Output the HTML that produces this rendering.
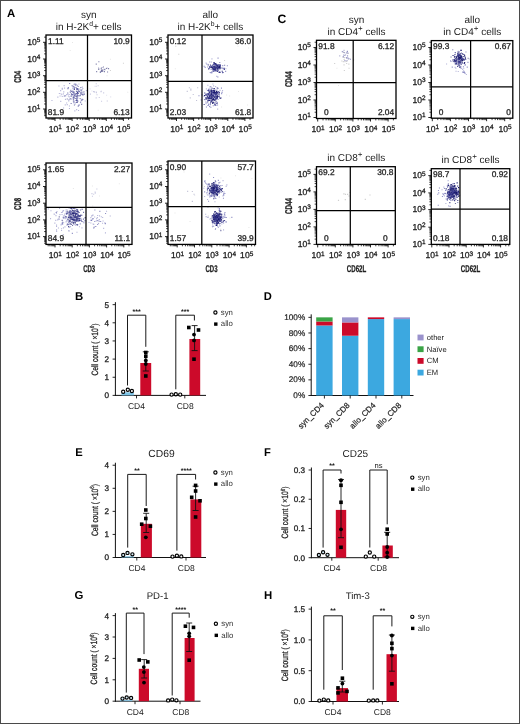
<!DOCTYPE html>
<html><head><meta charset="utf-8"><style>
html,body{margin:0;padding:0;background:#fff;}
body{width:520px;height:724px;overflow:hidden;}
svg{display:block;filter:blur(0.3px);font-family:"Liberation Sans", sans-serif;text-rendering:geometricPrecision;}
.h{stroke:#222;stroke-width:0.28px;}
</style></head><body>
<svg width="520" height="724" viewBox="0 0 520 724">
<rect x="0" y="0" width="520" height="724" fill="#fff"/>
<path d="M77.0 95.5h1.1v1.1h-1.1zM77.2 100.9h1.1v1.1h-1.1zM74.0 96.5h1.1v1.1h-1.1zM77.5 89.1h1.1v1.1h-1.1zM80.3 87.0h1.1v1.1h-1.1zM67.8 87.2h1.1v1.1h-1.1zM77.7 93.0h1.1v1.1h-1.1zM74.4 93.7h1.1v1.1h-1.1zM69.6 91.5h1.1v1.1h-1.1zM73.1 99.5h1.1v1.1h-1.1zM76.4 94.5h1.1v1.1h-1.1zM71.1 94.3h1.1v1.1h-1.1zM69.5 98.4h1.1v1.1h-1.1zM73.9 104.4h1.1v1.1h-1.1zM71.2 94.3h1.1v1.1h-1.1zM76.0 97.5h1.1v1.1h-1.1zM80.2 101.4h1.1v1.1h-1.1zM71.3 90.9h1.1v1.1h-1.1zM81.3 99.9h1.1v1.1h-1.1zM80.3 92.2h1.1v1.1h-1.1zM76.0 88.2h1.1v1.1h-1.1zM76.8 97.4h1.1v1.1h-1.1zM67.2 92.4h1.1v1.1h-1.1zM77.7 105.6h1.1v1.1h-1.1zM74.0 95.0h1.1v1.1h-1.1zM77.4 90.9h1.1v1.1h-1.1zM67.4 88.1h1.1v1.1h-1.1zM66.7 98.4h1.1v1.1h-1.1zM80.6 89.6h1.1v1.1h-1.1zM77.6 86.0h1.1v1.1h-1.1zM83.9 93.6h1.1v1.1h-1.1zM76.2 88.9h1.1v1.1h-1.1zM74.3 93.7h1.1v1.1h-1.1zM73.9 87.3h1.1v1.1h-1.1zM76.2 99.0h1.1v1.1h-1.1zM73.6 92.3h1.1v1.1h-1.1zM77.0 92.0h1.1v1.1h-1.1zM70.3 89.8h1.1v1.1h-1.1zM73.3 101.3h1.1v1.1h-1.1zM80.5 93.8h1.1v1.1h-1.1zM73.3 96.3h1.1v1.1h-1.1zM76.3 88.2h1.1v1.1h-1.1zM83.4 91.3h1.1v1.1h-1.1zM77.1 100.1h1.1v1.1h-1.1zM78.8 91.0h1.1v1.1h-1.1zM79.6 98.0h1.1v1.1h-1.1zM81.4 91.6h1.1v1.1h-1.1zM71.5 85.2h1.1v1.1h-1.1zM72.1 93.9h1.1v1.1h-1.1zM69.1 83.0h1.1v1.1h-1.1zM72.8 86.1h1.1v1.1h-1.1zM72.3 85.4h1.1v1.1h-1.1zM76.7 96.1h1.1v1.1h-1.1zM78.6 104.5h1.1v1.1h-1.1zM81.2 93.5h1.1v1.1h-1.1zM76.6 94.4h1.1v1.1h-1.1zM82.5 93.8h1.1v1.1h-1.1zM73.6 83.7h1.1v1.1h-1.1zM77.2 87.9h1.1v1.1h-1.1zM79.6 95.1h1.1v1.1h-1.1zM79.4 90.4h1.1v1.1h-1.1zM70.8 93.2h1.1v1.1h-1.1zM70.6 102.9h1.1v1.1h-1.1zM74.7 98.0h1.1v1.1h-1.1zM64.4 95.3h1.1v1.1h-1.1zM77.3 88.4h1.1v1.1h-1.1zM76.9 101.9h1.1v1.1h-1.1zM81.6 98.7h1.1v1.1h-1.1zM77.5 95.1h1.1v1.1h-1.1z" fill="#2a2a80" fill-opacity="0.60"/>
<path d="M72.7 91.6h1.1v1.1h-1.1zM73.1 97.3h1.1v1.1h-1.1zM74.7 93.4h1.1v1.1h-1.1zM75.7 101.9h1.1v1.1h-1.1zM75.5 95.8h1.1v1.1h-1.1zM76.1 92.9h1.1v1.1h-1.1zM75.9 90.7h1.1v1.1h-1.1zM76.8 91.7h1.1v1.1h-1.1zM81.1 103.7h1.1v1.1h-1.1zM77.2 92.7h1.1v1.1h-1.1zM73.8 88.8h1.1v1.1h-1.1zM76.1 100.1h1.1v1.1h-1.1zM75.1 84.5h1.1v1.1h-1.1z" fill="#2a2a80" fill-opacity="0.80"/>
<path d="M75.8 87.4h1.1v1.1h-1.1zM76.8 98.5h1.1v1.1h-1.1zM77.9 91.5h1.1v1.1h-1.1zM74.8 100.0h1.1v1.1h-1.1zM82.0 93.9h1.1v1.1h-1.1zM70.8 95.8h1.1v1.1h-1.1zM79.4 88.6h1.1v1.1h-1.1zM77.1 88.5h1.1v1.1h-1.1zM72.8 99.0h1.1v1.1h-1.1zM73.7 88.5h1.1v1.1h-1.1zM80.0 92.4h1.1v1.1h-1.1zM81.5 99.0h1.1v1.1h-1.1zM71.0 98.4h1.1v1.1h-1.1zM77.9 89.9h1.1v1.1h-1.1zM70.0 91.6h1.1v1.1h-1.1zM73.7 91.2h1.1v1.1h-1.1zM82.4 94.8h1.1v1.1h-1.1zM76.7 94.1h1.1v1.1h-1.1z" fill="#2a2a80" fill-opacity="0.40"/>
<path d="M72.3 96.4h1.1v1.1h-1.1zM78.4 95.5h1.1v1.1h-1.1zM68.9 108.0h1.1v1.1h-1.1zM74.5 93.4h1.1v1.1h-1.1zM73.4 102.5h1.1v1.1h-1.1zM72.1 94.3h1.1v1.1h-1.1zM61.2 94.2h1.1v1.1h-1.1zM81.0 90.2h1.1v1.1h-1.1zM63.0 107.4h1.1v1.1h-1.1zM78.8 91.4h1.1v1.1h-1.1zM73.9 88.5h1.1v1.1h-1.1zM72.3 88.1h1.1v1.1h-1.1zM64.0 87.6h1.1v1.1h-1.1zM66.7 104.1h1.1v1.1h-1.1zM76.0 100.1h1.1v1.1h-1.1zM72.4 91.5h1.1v1.1h-1.1zM68.7 96.3h1.1v1.1h-1.1zM81.6 88.9h1.1v1.1h-1.1zM69.9 98.1h1.1v1.1h-1.1zM75.7 98.2h1.1v1.1h-1.1zM73.6 97.5h1.1v1.1h-1.1zM78.0 110.0h1.1v1.1h-1.1zM74.4 83.3h1.1v1.1h-1.1zM58.4 85.4h1.1v1.1h-1.1zM79.6 94.8h1.1v1.1h-1.1zM71.0 90.9h1.1v1.1h-1.1zM67.7 87.2h1.1v1.1h-1.1zM72.5 87.3h1.1v1.1h-1.1zM64.7 104.3h1.1v1.1h-1.1zM82.6 92.4h1.1v1.1h-1.1zM72.9 93.0h1.1v1.1h-1.1zM63.6 85.1h1.1v1.1h-1.1zM72.4 97.6h1.1v1.1h-1.1zM60.1 90.1h1.1v1.1h-1.1zM77.1 93.1h1.1v1.1h-1.1zM75.6 86.8h1.1v1.1h-1.1zM80.4 99.4h1.1v1.1h-1.1zM84.7 100.4h1.1v1.1h-1.1zM70.9 93.7h1.1v1.1h-1.1zM75.3 83.4h1.1v1.1h-1.1zM81.8 86.6h1.1v1.1h-1.1zM76.6 88.1h1.1v1.1h-1.1zM70.3 95.6h1.1v1.1h-1.1zM67.3 93.7h1.1v1.1h-1.1zM63.6 95.6h1.1v1.1h-1.1zM61.7 96.0h1.1v1.1h-1.1zM66.1 102.4h1.1v1.1h-1.1zM85.9 90.1h1.1v1.1h-1.1zM72.1 90.3h1.1v1.1h-1.1zM72.7 100.5h1.1v1.1h-1.1zM65.3 95.2h1.1v1.1h-1.1zM81.6 89.2h1.1v1.1h-1.1zM60.2 100.8h1.1v1.1h-1.1zM59.5 95.5h1.1v1.1h-1.1zM61.8 87.8h1.1v1.1h-1.1zM64.9 98.8h1.1v1.1h-1.1zM68.2 100.3h1.1v1.1h-1.1zM77.4 88.7h1.1v1.1h-1.1zM59.3 109.9h1.1v1.1h-1.1zM75.9 95.7h1.1v1.1h-1.1zM74.3 110.3h1.1v1.1h-1.1zM61.5 88.4h1.1v1.1h-1.1zM79.9 102.1h1.1v1.1h-1.1zM62.8 93.3h1.1v1.1h-1.1zM51.4 99.9h1.1v1.1h-1.1zM82.3 87.9h1.1v1.1h-1.1zM61.9 88.6h1.1v1.1h-1.1zM80.5 92.9h1.1v1.1h-1.1zM58.8 93.0h1.1v1.1h-1.1zM73.3 95.2h1.1v1.1h-1.1zM73.4 95.7h1.1v1.1h-1.1zM67.8 95.5h1.1v1.1h-1.1zM68.0 95.5h1.1v1.1h-1.1zM78.8 95.2h1.1v1.1h-1.1zM72.5 90.5h1.1v1.1h-1.1zM72.1 91.8h1.1v1.1h-1.1zM73.9 85.7h1.1v1.1h-1.1zM63.2 91.3h1.1v1.1h-1.1zM57.3 96.6h1.1v1.1h-1.1zM72.7 92.8h1.1v1.1h-1.1zM66.1 93.9h1.1v1.1h-1.1zM74.7 86.9h1.1v1.1h-1.1zM75.1 94.9h1.1v1.1h-1.1zM78.4 83.5h1.1v1.1h-1.1zM75.9 98.1h1.1v1.1h-1.1zM68.7 94.0h1.1v1.1h-1.1zM77.4 97.5h1.1v1.1h-1.1zM78.3 104.7h1.1v1.1h-1.1zM75.8 84.3h1.1v1.1h-1.1zM77.0 84.8h1.1v1.1h-1.1zM68.9 105.5h1.1v1.1h-1.1zM76.1 109.1h1.1v1.1h-1.1zM73.1 94.1h1.1v1.1h-1.1zM68.4 99.1h1.1v1.1h-1.1zM74.8 103.4h1.1v1.1h-1.1zM73.5 101.4h1.1v1.1h-1.1zM82.5 98.9h1.1v1.1h-1.1zM76.8 88.4h1.1v1.1h-1.1zM78.6 95.5h1.1v1.1h-1.1zM60.4 93.2h1.1v1.1h-1.1z" fill="#4848a0" fill-opacity="0.40"/>
<path d="M98.3 61.2h1.1v1.1h-1.1zM104.3 69.1h1.1v1.1h-1.1zM100.8 69.6h1.1v1.1h-1.1zM107.0 71.4h1.1v1.1h-1.1zM102.3 70.3h1.1v1.1h-1.1zM100.7 67.8h1.1v1.1h-1.1zM105.8 67.9h1.1v1.1h-1.1zM103.9 71.1h1.1v1.1h-1.1zM98.1 69.0h1.1v1.1h-1.1zM96.1 71.1h1.1v1.1h-1.1zM102.9 66.5h1.1v1.1h-1.1zM98.3 68.6h1.1v1.1h-1.1zM103.5 68.7h1.1v1.1h-1.1zM102.0 70.7h1.1v1.1h-1.1zM108.0 68.1h1.1v1.1h-1.1zM101.6 69.3h1.1v1.1h-1.1zM95.7 63.6h1.1v1.1h-1.1z" fill="#303075" fill-opacity="0.60"/>
<path d="M101.2 70.2h1.1v1.1h-1.1zM98.0 67.4h1.1v1.1h-1.1zM100.4 71.2h1.1v1.1h-1.1zM101.5 66.9h1.1v1.1h-1.1zM106.5 67.6h1.1v1.1h-1.1z" fill="#303075" fill-opacity="0.40"/>
<path d="M101.1 70.7h1.1v1.1h-1.1zM99.8 71.6h1.1v1.1h-1.1z" fill="#303075" fill-opacity="0.80"/>
<path d="M93.7 91.9h1.1v1.1h-1.1zM89.5 88.3h1.1v1.1h-1.1zM110.1 96.3h1.1v1.1h-1.1zM100.8 90.4h1.1v1.1h-1.1zM106.0 94.7h1.1v1.1h-1.1zM91.4 90.4h1.1v1.1h-1.1zM94.4 85.7h1.1v1.1h-1.1z" fill="#7a7ab4" fill-opacity="0.20"/>
<path d="M100.5 91.1h1.1v1.1h-1.1zM93.0 91.0h1.1v1.1h-1.1zM103.1 92.3h1.1v1.1h-1.1zM95.7 91.6h1.1v1.1h-1.1zM101.0 100.7h1.1v1.1h-1.1zM95.6 97.3h1.1v1.1h-1.1zM96.5 94.2h1.1v1.1h-1.1zM95.7 85.7h1.1v1.1h-1.1zM93.7 91.1h1.1v1.1h-1.1zM95.7 83.2h1.1v1.1h-1.1zM98.7 96.9h1.1v1.1h-1.1zM97.6 85.2h1.1v1.1h-1.1zM89.9 93.6h1.1v1.1h-1.1zM95.9 92.2h1.1v1.1h-1.1zM106.7 100.4h1.1v1.1h-1.1z" fill="#7a7ab4" fill-opacity="0.40"/>
<path d="M72.0 42.0h1.0v1.0h-1.0zM109.9 58.7h1.0v1.0h-1.0zM69.7 50.0h1.0v1.0h-1.0zM97.7 109.7h1.0v1.0h-1.0zM106.5 75.2h1.0v1.0h-1.0zM127.3 91.7h1.0v1.0h-1.0z" fill="#888" fill-opacity="0.20"/>
<path d="M109.9 70.0h1.0v1.0h-1.0zM122.9 62.8h1.0v1.0h-1.0z" fill="#888" fill-opacity="0.40"/>
<line x1="48.20" y1="118.00" x2="48.20" y2="119.90" stroke="#222" stroke-width="0.85"/>
<line x1="49.85" y1="118.00" x2="49.85" y2="119.90" stroke="#222" stroke-width="0.85"/>
<line x1="51.21" y1="118.00" x2="51.21" y2="119.90" stroke="#222" stroke-width="0.85"/>
<line x1="52.35" y1="118.00" x2="52.35" y2="119.90" stroke="#222" stroke-width="0.85"/>
<line x1="53.34" y1="118.00" x2="53.34" y2="119.90" stroke="#222" stroke-width="0.85"/>
<line x1="54.22" y1="118.00" x2="54.22" y2="119.90" stroke="#222" stroke-width="0.85"/>
<line x1="60.15" y1="118.00" x2="60.15" y2="119.90" stroke="#222" stroke-width="0.85"/>
<line x1="63.16" y1="118.00" x2="63.16" y2="119.90" stroke="#222" stroke-width="0.85"/>
<line x1="65.30" y1="118.00" x2="65.30" y2="119.90" stroke="#222" stroke-width="0.85"/>
<line x1="66.95" y1="118.00" x2="66.95" y2="119.90" stroke="#222" stroke-width="0.85"/>
<line x1="68.31" y1="118.00" x2="68.31" y2="119.90" stroke="#222" stroke-width="0.85"/>
<line x1="69.45" y1="118.00" x2="69.45" y2="119.90" stroke="#222" stroke-width="0.85"/>
<line x1="70.44" y1="118.00" x2="70.44" y2="119.90" stroke="#222" stroke-width="0.85"/>
<line x1="71.32" y1="118.00" x2="71.32" y2="119.90" stroke="#222" stroke-width="0.85"/>
<line x1="77.25" y1="118.00" x2="77.25" y2="119.90" stroke="#222" stroke-width="0.85"/>
<line x1="80.26" y1="118.00" x2="80.26" y2="119.90" stroke="#222" stroke-width="0.85"/>
<line x1="82.40" y1="118.00" x2="82.40" y2="119.90" stroke="#222" stroke-width="0.85"/>
<line x1="84.05" y1="118.00" x2="84.05" y2="119.90" stroke="#222" stroke-width="0.85"/>
<line x1="85.41" y1="118.00" x2="85.41" y2="119.90" stroke="#222" stroke-width="0.85"/>
<line x1="86.55" y1="118.00" x2="86.55" y2="119.90" stroke="#222" stroke-width="0.85"/>
<line x1="87.54" y1="118.00" x2="87.54" y2="119.90" stroke="#222" stroke-width="0.85"/>
<line x1="88.42" y1="118.00" x2="88.42" y2="119.90" stroke="#222" stroke-width="0.85"/>
<line x1="94.35" y1="118.00" x2="94.35" y2="119.90" stroke="#222" stroke-width="0.85"/>
<line x1="97.36" y1="118.00" x2="97.36" y2="119.90" stroke="#222" stroke-width="0.85"/>
<line x1="99.50" y1="118.00" x2="99.50" y2="119.90" stroke="#222" stroke-width="0.85"/>
<line x1="101.15" y1="118.00" x2="101.15" y2="119.90" stroke="#222" stroke-width="0.85"/>
<line x1="102.51" y1="118.00" x2="102.51" y2="119.90" stroke="#222" stroke-width="0.85"/>
<line x1="103.65" y1="118.00" x2="103.65" y2="119.90" stroke="#222" stroke-width="0.85"/>
<line x1="104.64" y1="118.00" x2="104.64" y2="119.90" stroke="#222" stroke-width="0.85"/>
<line x1="105.52" y1="118.00" x2="105.52" y2="119.90" stroke="#222" stroke-width="0.85"/>
<line x1="111.45" y1="118.00" x2="111.45" y2="119.90" stroke="#222" stroke-width="0.85"/>
<line x1="114.46" y1="118.00" x2="114.46" y2="119.90" stroke="#222" stroke-width="0.85"/>
<line x1="116.60" y1="118.00" x2="116.60" y2="119.90" stroke="#222" stroke-width="0.85"/>
<line x1="118.25" y1="118.00" x2="118.25" y2="119.90" stroke="#222" stroke-width="0.85"/>
<line x1="119.61" y1="118.00" x2="119.61" y2="119.90" stroke="#222" stroke-width="0.85"/>
<line x1="120.75" y1="118.00" x2="120.75" y2="119.90" stroke="#222" stroke-width="0.85"/>
<line x1="121.74" y1="118.00" x2="121.74" y2="119.90" stroke="#222" stroke-width="0.85"/>
<line x1="122.62" y1="118.00" x2="122.62" y2="119.90" stroke="#222" stroke-width="0.85"/>
<line x1="128.55" y1="118.00" x2="128.55" y2="119.90" stroke="#222" stroke-width="0.85"/>
<line x1="44.10" y1="115.65" x2="46.00" y2="115.65" stroke="#222" stroke-width="0.85"/>
<line x1="44.10" y1="114.03" x2="46.00" y2="114.03" stroke="#222" stroke-width="0.85"/>
<line x1="44.10" y1="112.70" x2="46.00" y2="112.70" stroke="#222" stroke-width="0.85"/>
<line x1="44.10" y1="111.59" x2="46.00" y2="111.59" stroke="#222" stroke-width="0.85"/>
<line x1="44.10" y1="110.62" x2="46.00" y2="110.62" stroke="#222" stroke-width="0.85"/>
<line x1="44.10" y1="109.76" x2="46.00" y2="109.76" stroke="#222" stroke-width="0.85"/>
<line x1="44.10" y1="103.97" x2="46.00" y2="103.97" stroke="#222" stroke-width="0.85"/>
<line x1="44.10" y1="101.03" x2="46.00" y2="101.03" stroke="#222" stroke-width="0.85"/>
<line x1="44.10" y1="98.95" x2="46.00" y2="98.95" stroke="#222" stroke-width="0.85"/>
<line x1="44.10" y1="97.33" x2="46.00" y2="97.33" stroke="#222" stroke-width="0.85"/>
<line x1="44.10" y1="96.00" x2="46.00" y2="96.00" stroke="#222" stroke-width="0.85"/>
<line x1="44.10" y1="94.89" x2="46.00" y2="94.89" stroke="#222" stroke-width="0.85"/>
<line x1="44.10" y1="93.92" x2="46.00" y2="93.92" stroke="#222" stroke-width="0.85"/>
<line x1="44.10" y1="93.06" x2="46.00" y2="93.06" stroke="#222" stroke-width="0.85"/>
<line x1="44.10" y1="87.27" x2="46.00" y2="87.27" stroke="#222" stroke-width="0.85"/>
<line x1="44.10" y1="84.33" x2="46.00" y2="84.33" stroke="#222" stroke-width="0.85"/>
<line x1="44.10" y1="82.25" x2="46.00" y2="82.25" stroke="#222" stroke-width="0.85"/>
<line x1="44.10" y1="80.63" x2="46.00" y2="80.63" stroke="#222" stroke-width="0.85"/>
<line x1="44.10" y1="79.30" x2="46.00" y2="79.30" stroke="#222" stroke-width="0.85"/>
<line x1="44.10" y1="78.19" x2="46.00" y2="78.19" stroke="#222" stroke-width="0.85"/>
<line x1="44.10" y1="77.22" x2="46.00" y2="77.22" stroke="#222" stroke-width="0.85"/>
<line x1="44.10" y1="76.36" x2="46.00" y2="76.36" stroke="#222" stroke-width="0.85"/>
<line x1="44.10" y1="70.57" x2="46.00" y2="70.57" stroke="#222" stroke-width="0.85"/>
<line x1="44.10" y1="67.63" x2="46.00" y2="67.63" stroke="#222" stroke-width="0.85"/>
<line x1="44.10" y1="65.55" x2="46.00" y2="65.55" stroke="#222" stroke-width="0.85"/>
<line x1="44.10" y1="63.93" x2="46.00" y2="63.93" stroke="#222" stroke-width="0.85"/>
<line x1="44.10" y1="62.60" x2="46.00" y2="62.60" stroke="#222" stroke-width="0.85"/>
<line x1="44.10" y1="61.49" x2="46.00" y2="61.49" stroke="#222" stroke-width="0.85"/>
<line x1="44.10" y1="60.52" x2="46.00" y2="60.52" stroke="#222" stroke-width="0.85"/>
<line x1="44.10" y1="59.66" x2="46.00" y2="59.66" stroke="#222" stroke-width="0.85"/>
<line x1="44.10" y1="53.87" x2="46.00" y2="53.87" stroke="#222" stroke-width="0.85"/>
<line x1="44.10" y1="50.93" x2="46.00" y2="50.93" stroke="#222" stroke-width="0.85"/>
<line x1="44.10" y1="48.85" x2="46.00" y2="48.85" stroke="#222" stroke-width="0.85"/>
<line x1="44.10" y1="47.23" x2="46.00" y2="47.23" stroke="#222" stroke-width="0.85"/>
<line x1="44.10" y1="45.90" x2="46.00" y2="45.90" stroke="#222" stroke-width="0.85"/>
<line x1="44.10" y1="44.79" x2="46.00" y2="44.79" stroke="#222" stroke-width="0.85"/>
<line x1="44.10" y1="43.82" x2="46.00" y2="43.82" stroke="#222" stroke-width="0.85"/>
<line x1="44.10" y1="42.96" x2="46.00" y2="42.96" stroke="#222" stroke-width="0.85"/>
<line x1="44.10" y1="37.17" x2="46.00" y2="37.17" stroke="#222" stroke-width="0.85"/>
<line x1="55.00" y1="118.00" x2="55.00" y2="121.00" stroke="#111" stroke-width="0.9"/>
<line x1="72.10" y1="118.00" x2="72.10" y2="121.00" stroke="#111" stroke-width="0.9"/>
<line x1="89.20" y1="118.00" x2="89.20" y2="121.00" stroke="#111" stroke-width="0.9"/>
<line x1="106.30" y1="118.00" x2="106.30" y2="121.00" stroke="#111" stroke-width="0.9"/>
<line x1="123.40" y1="118.00" x2="123.40" y2="121.00" stroke="#111" stroke-width="0.9"/>
<line x1="43.00" y1="109.00" x2="46.00" y2="109.00" stroke="#111" stroke-width="0.9"/>
<line x1="43.00" y1="92.30" x2="46.00" y2="92.30" stroke="#111" stroke-width="0.9"/>
<line x1="43.00" y1="75.70" x2="46.00" y2="75.70" stroke="#111" stroke-width="0.9"/>
<line x1="43.00" y1="59.00" x2="46.00" y2="59.00" stroke="#111" stroke-width="0.9"/>
<line x1="43.00" y1="42.30" x2="46.00" y2="42.30" stroke="#111" stroke-width="0.9"/>
<line x1="87.50" y1="35.00" x2="87.50" y2="118.00" stroke="#000" stroke-width="1.25"/>
<line x1="46.00" y1="80.50" x2="131.50" y2="80.50" stroke="#000" stroke-width="1.25"/>
<rect x="46.00" y="35.00" width="85.50" height="83.00" fill="none" stroke="#000" stroke-width="1.3"/>
<text x="55.90" y="43.50" font-size="8.4" text-anchor="middle" font-weight="normal" fill="#222" class="h">1.11</text>
<text x="129.70" y="43.50" font-size="8.4" text-anchor="end" font-weight="normal" fill="#222" class="h">10.9</text>
<text x="55.90" y="114.80" font-size="8.4" text-anchor="middle" font-weight="normal" fill="#222" class="h">81.9</text>
<text x="129.70" y="114.80" font-size="8.4" text-anchor="end" font-weight="normal" fill="#222" class="h">6.13</text>
<text class="h" x="55.30" y="131.90" font-size="8.6" text-anchor="middle" fill="#222">10<tspan dy="-2.7" font-size="6.45">1</tspan></text>
<text class="h" x="72.40" y="131.90" font-size="8.6" text-anchor="middle" fill="#222">10<tspan dy="-2.7" font-size="6.45">2</tspan></text>
<text class="h" x="89.50" y="131.90" font-size="8.6" text-anchor="middle" fill="#222">10<tspan dy="-2.7" font-size="6.45">3</tspan></text>
<text class="h" x="106.60" y="131.90" font-size="8.6" text-anchor="middle" fill="#222">10<tspan dy="-2.7" font-size="6.45">4</tspan></text>
<text class="h" x="123.70" y="131.90" font-size="8.6" text-anchor="middle" fill="#222">10<tspan dy="-2.7" font-size="6.45">5</tspan></text>
<text class="h" x="40.40" y="111.60" font-size="8.6" text-anchor="end" fill="#222">10<tspan dy="-2.7" font-size="6.45">1</tspan></text>
<text class="h" x="40.40" y="94.90" font-size="8.6" text-anchor="end" fill="#222">10<tspan dy="-2.7" font-size="6.45">2</tspan></text>
<text class="h" x="40.40" y="78.30" font-size="8.6" text-anchor="end" fill="#222">10<tspan dy="-2.7" font-size="6.45">3</tspan></text>
<text class="h" x="40.40" y="61.60" font-size="8.6" text-anchor="end" fill="#222">10<tspan dy="-2.7" font-size="6.45">4</tspan></text>
<text class="h" x="40.40" y="44.90" font-size="8.6" text-anchor="end" fill="#222">10<tspan dy="-2.7" font-size="6.45">5</tspan></text>
<path d="M213.9 70.2h1.1v1.1h-1.1zM213.4 65.8h1.1v1.1h-1.1zM217.7 70.0h1.1v1.1h-1.1zM215.3 67.7h1.1v1.1h-1.1zM217.1 67.8h1.1v1.1h-1.1zM216.0 64.3h1.1v1.1h-1.1zM224.1 64.7h1.1v1.1h-1.1zM214.1 66.9h1.1v1.1h-1.1zM210.9 66.0h1.1v1.1h-1.1zM218.3 68.2h1.1v1.1h-1.1zM212.7 68.3h1.1v1.1h-1.1zM211.8 65.2h1.1v1.1h-1.1zM218.7 65.6h1.1v1.1h-1.1zM214.0 63.1h1.1v1.1h-1.1zM215.7 67.2h1.1v1.1h-1.1zM216.0 70.4h1.1v1.1h-1.1zM218.1 67.0h1.1v1.1h-1.1zM219.6 65.5h1.1v1.1h-1.1zM216.9 64.9h1.1v1.1h-1.1zM219.1 67.0h1.1v1.1h-1.1zM217.5 69.3h1.1v1.1h-1.1zM214.8 66.6h1.1v1.1h-1.1zM214.9 67.5h1.1v1.1h-1.1zM217.8 63.9h1.1v1.1h-1.1zM213.3 62.0h1.1v1.1h-1.1zM214.9 69.5h1.1v1.1h-1.1zM215.6 65.4h1.1v1.1h-1.1zM218.3 67.7h1.1v1.1h-1.1zM210.1 97.1h1.1v1.1h-1.1zM212.0 94.2h1.1v1.1h-1.1zM214.6 104.1h1.1v1.1h-1.1zM212.9 90.3h1.1v1.1h-1.1zM213.6 96.9h1.1v1.1h-1.1zM213.8 96.9h1.1v1.1h-1.1zM205.5 94.0h1.1v1.1h-1.1zM216.6 94.9h1.1v1.1h-1.1zM211.4 87.5h1.1v1.1h-1.1zM211.1 90.5h1.1v1.1h-1.1zM209.3 91.0h1.1v1.1h-1.1zM209.8 97.3h1.1v1.1h-1.1zM214.4 95.9h1.1v1.1h-1.1zM213.8 93.0h1.1v1.1h-1.1zM207.4 100.0h1.1v1.1h-1.1zM213.4 95.7h1.1v1.1h-1.1zM212.7 88.4h1.1v1.1h-1.1zM219.9 97.8h1.1v1.1h-1.1zM210.8 93.5h1.1v1.1h-1.1zM214.1 104.1h1.1v1.1h-1.1zM215.5 97.5h1.1v1.1h-1.1zM212.5 100.1h1.1v1.1h-1.1zM208.7 100.0h1.1v1.1h-1.1zM211.7 99.2h1.1v1.1h-1.1zM210.9 97.5h1.1v1.1h-1.1zM205.9 94.3h1.1v1.1h-1.1zM209.4 91.4h1.1v1.1h-1.1zM212.9 92.7h1.1v1.1h-1.1zM209.2 91.8h1.1v1.1h-1.1zM211.2 87.6h1.1v1.1h-1.1zM211.3 96.3h1.1v1.1h-1.1zM208.1 93.6h1.1v1.1h-1.1zM210.4 95.3h1.1v1.1h-1.1zM213.4 90.1h1.1v1.1h-1.1zM210.7 91.0h1.1v1.1h-1.1zM209.2 96.5h1.1v1.1h-1.1zM215.7 93.3h1.1v1.1h-1.1zM215.7 94.6h1.1v1.1h-1.1zM211.1 97.6h1.1v1.1h-1.1zM213.9 96.1h1.1v1.1h-1.1zM211.1 91.5h1.1v1.1h-1.1zM217.1 92.6h1.1v1.1h-1.1zM215.4 92.0h1.1v1.1h-1.1zM207.8 90.1h1.1v1.1h-1.1zM209.9 102.7h1.1v1.1h-1.1zM210.0 97.7h1.1v1.1h-1.1zM213.4 90.8h1.1v1.1h-1.1zM215.0 95.4h1.1v1.1h-1.1zM208.8 97.3h1.1v1.1h-1.1zM213.0 91.7h1.1v1.1h-1.1zM215.1 98.5h1.1v1.1h-1.1zM212.6 98.3h1.1v1.1h-1.1zM211.7 94.1h1.1v1.1h-1.1z" fill="#17176c" fill-opacity="0.60"/>
<path d="M218.1 66.3h1.1v1.1h-1.1zM214.4 63.7h1.1v1.1h-1.1zM213.5 62.6h1.1v1.1h-1.1zM217.7 67.0h1.1v1.1h-1.1zM210.8 66.6h1.1v1.1h-1.1zM216.3 64.0h1.1v1.1h-1.1zM214.7 66.8h1.1v1.1h-1.1zM216.0 65.5h1.1v1.1h-1.1zM213.3 66.9h1.1v1.1h-1.1zM212.5 65.9h1.1v1.1h-1.1zM215.0 63.0h1.1v1.1h-1.1zM216.4 69.5h1.1v1.1h-1.1zM215.4 67.7h1.1v1.1h-1.1zM216.7 68.7h1.1v1.1h-1.1zM216.5 67.3h1.1v1.1h-1.1zM212.6 66.7h1.1v1.1h-1.1zM218.1 66.0h1.1v1.1h-1.1zM211.9 66.9h1.1v1.1h-1.1zM212.5 66.4h1.1v1.1h-1.1zM214.9 68.6h1.1v1.1h-1.1zM216.3 65.5h1.1v1.1h-1.1zM213.9 62.3h1.1v1.1h-1.1zM218.0 67.3h1.1v1.1h-1.1zM215.0 69.6h1.1v1.1h-1.1zM219.8 66.7h1.1v1.1h-1.1zM214.2 67.8h1.1v1.1h-1.1zM213.5 67.7h1.1v1.1h-1.1zM213.9 65.9h1.1v1.1h-1.1zM215.7 65.7h1.1v1.1h-1.1zM212.9 68.7h1.1v1.1h-1.1zM221.8 70.7h1.1v1.1h-1.1zM218.1 66.8h1.1v1.1h-1.1zM217.8 66.8h1.1v1.1h-1.1zM210.5 66.9h1.1v1.1h-1.1zM215.1 69.2h1.1v1.1h-1.1zM212.7 69.2h1.1v1.1h-1.1zM217.2 65.1h1.1v1.1h-1.1zM216.9 66.0h1.1v1.1h-1.1zM216.9 70.9h1.1v1.1h-1.1zM213.5 66.1h1.1v1.1h-1.1zM215.9 67.1h1.1v1.1h-1.1zM209.9 64.6h1.1v1.1h-1.1zM214.6 66.8h1.1v1.1h-1.1zM221.4 67.4h1.1v1.1h-1.1zM209.1 66.3h1.1v1.1h-1.1zM214.5 65.2h1.1v1.1h-1.1zM219.4 64.5h1.1v1.1h-1.1zM214.3 69.2h1.1v1.1h-1.1zM214.4 64.5h1.1v1.1h-1.1zM213.6 68.0h1.1v1.1h-1.1zM219.5 65.3h1.1v1.1h-1.1zM207.7 64.5h1.1v1.1h-1.1zM214.9 67.3h1.1v1.1h-1.1zM216.4 64.9h1.1v1.1h-1.1zM222.4 72.0h1.1v1.1h-1.1zM206.8 95.8h1.1v1.1h-1.1zM212.5 97.8h1.1v1.1h-1.1zM214.3 89.5h1.1v1.1h-1.1zM204.2 92.4h1.1v1.1h-1.1zM207.7 99.8h1.1v1.1h-1.1zM215.7 96.8h1.1v1.1h-1.1zM212.8 98.0h1.1v1.1h-1.1zM213.1 92.4h1.1v1.1h-1.1zM207.9 89.4h1.1v1.1h-1.1zM213.2 101.8h1.1v1.1h-1.1zM209.9 98.1h1.1v1.1h-1.1zM211.0 100.8h1.1v1.1h-1.1zM208.5 90.5h1.1v1.1h-1.1zM216.7 87.5h1.1v1.1h-1.1zM208.6 98.2h1.1v1.1h-1.1zM214.9 95.5h1.1v1.1h-1.1zM213.8 92.5h1.1v1.1h-1.1zM212.2 91.6h1.1v1.1h-1.1zM211.6 101.5h1.1v1.1h-1.1zM211.8 99.1h1.1v1.1h-1.1zM210.9 98.0h1.1v1.1h-1.1zM216.8 92.4h1.1v1.1h-1.1zM216.3 103.0h1.1v1.1h-1.1zM206.8 93.4h1.1v1.1h-1.1zM211.5 91.7h1.1v1.1h-1.1zM213.3 90.1h1.1v1.1h-1.1zM214.5 93.8h1.1v1.1h-1.1zM203.6 104.0h1.1v1.1h-1.1zM208.9 95.5h1.1v1.1h-1.1zM212.3 89.9h1.1v1.1h-1.1zM212.2 102.9h1.1v1.1h-1.1zM215.9 91.7h1.1v1.1h-1.1zM211.8 91.4h1.1v1.1h-1.1zM213.9 93.0h1.1v1.1h-1.1zM211.4 92.0h1.1v1.1h-1.1zM216.5 91.9h1.1v1.1h-1.1zM210.8 94.3h1.1v1.1h-1.1zM214.3 100.0h1.1v1.1h-1.1zM215.5 100.7h1.1v1.1h-1.1zM210.1 94.5h1.1v1.1h-1.1zM211.7 96.9h1.1v1.1h-1.1zM206.3 98.4h1.1v1.1h-1.1zM211.6 99.7h1.1v1.1h-1.1zM210.7 95.4h1.1v1.1h-1.1zM208.1 97.3h1.1v1.1h-1.1zM210.6 100.3h1.1v1.1h-1.1zM212.0 95.1h1.1v1.1h-1.1zM210.2 101.7h1.1v1.1h-1.1zM217.6 91.0h1.1v1.1h-1.1zM214.2 97.2h1.1v1.1h-1.1zM209.9 95.0h1.1v1.1h-1.1zM213.1 99.2h1.1v1.1h-1.1zM209.3 95.2h1.1v1.1h-1.1zM213.9 90.7h1.1v1.1h-1.1zM216.0 92.5h1.1v1.1h-1.1zM215.3 93.6h1.1v1.1h-1.1zM212.6 98.6h1.1v1.1h-1.1zM209.3 92.0h1.1v1.1h-1.1zM209.2 95.4h1.1v1.1h-1.1zM209.7 95.4h1.1v1.1h-1.1zM214.6 92.1h1.1v1.1h-1.1zM208.8 92.1h1.1v1.1h-1.1zM218.5 93.6h1.1v1.1h-1.1zM210.3 94.4h1.1v1.1h-1.1zM212.5 101.9h1.1v1.1h-1.1zM216.3 95.9h1.1v1.1h-1.1zM207.6 94.5h1.1v1.1h-1.1zM210.8 93.5h1.1v1.1h-1.1zM211.8 99.0h1.1v1.1h-1.1zM214.3 90.0h1.1v1.1h-1.1zM208.9 94.9h1.1v1.1h-1.1zM213.6 91.6h1.1v1.1h-1.1zM213.0 98.5h1.1v1.1h-1.1zM215.1 95.4h1.1v1.1h-1.1zM205.3 94.6h1.1v1.1h-1.1zM209.7 95.3h1.1v1.1h-1.1zM214.0 92.7h1.1v1.1h-1.1zM216.1 93.3h1.1v1.1h-1.1zM212.3 98.9h1.1v1.1h-1.1zM207.3 96.3h1.1v1.1h-1.1zM213.3 98.5h1.1v1.1h-1.1zM211.0 90.2h1.1v1.1h-1.1zM208.5 93.7h1.1v1.1h-1.1zM205.1 97.5h1.1v1.1h-1.1zM207.3 101.2h1.1v1.1h-1.1zM212.7 95.6h1.1v1.1h-1.1zM217.6 96.0h1.1v1.1h-1.1zM218.7 96.2h1.1v1.1h-1.1zM208.3 97.0h1.1v1.1h-1.1zM210.0 90.3h1.1v1.1h-1.1zM211.1 91.3h1.1v1.1h-1.1zM215.5 97.8h1.1v1.1h-1.1zM213.5 96.3h1.1v1.1h-1.1z" fill="#17176c" fill-opacity="0.80"/>
<path d="M217.4 64.9h1.1v1.1h-1.1zM216.9 67.6h1.1v1.1h-1.1zM215.0 63.6h1.1v1.1h-1.1zM212.6 64.3h1.1v1.1h-1.1zM212.9 68.7h1.1v1.1h-1.1zM223.9 68.6h1.1v1.1h-1.1zM218.5 71.6h1.1v1.1h-1.1zM214.7 67.2h1.1v1.1h-1.1zM212.1 67.4h1.1v1.1h-1.1zM219.4 72.0h1.1v1.1h-1.1zM219.1 66.8h1.1v1.1h-1.1zM219.1 65.9h1.1v1.1h-1.1zM214.5 69.0h1.1v1.1h-1.1zM219.3 67.4h1.1v1.1h-1.1zM219.6 68.2h1.1v1.1h-1.1zM212.5 68.4h1.1v1.1h-1.1zM208.2 68.3h1.1v1.1h-1.1zM218.8 66.4h1.1v1.1h-1.1zM209.7 66.5h1.1v1.1h-1.1zM216.9 65.4h1.1v1.1h-1.1zM212.5 70.4h1.1v1.1h-1.1zM212.4 68.2h1.1v1.1h-1.1zM218.4 66.9h1.1v1.1h-1.1zM211.1 67.2h1.1v1.1h-1.1zM213.4 68.9h1.1v1.1h-1.1zM219.5 64.4h1.1v1.1h-1.1zM215.3 63.4h1.1v1.1h-1.1zM216.6 95.9h1.1v1.1h-1.1zM216.0 90.8h1.1v1.1h-1.1zM212.1 92.5h1.1v1.1h-1.1zM208.2 93.3h1.1v1.1h-1.1zM211.0 96.4h1.1v1.1h-1.1zM220.4 97.4h1.1v1.1h-1.1zM209.2 99.9h1.1v1.1h-1.1zM209.1 97.5h1.1v1.1h-1.1zM210.4 93.3h1.1v1.1h-1.1zM212.8 94.6h1.1v1.1h-1.1zM216.9 96.7h1.1v1.1h-1.1zM214.2 99.3h1.1v1.1h-1.1zM213.2 91.9h1.1v1.1h-1.1zM213.3 90.0h1.1v1.1h-1.1zM206.8 97.5h1.1v1.1h-1.1zM216.7 91.8h1.1v1.1h-1.1zM204.0 94.9h1.1v1.1h-1.1zM216.7 96.1h1.1v1.1h-1.1zM207.9 97.7h1.1v1.1h-1.1zM212.0 102.4h1.1v1.1h-1.1zM210.6 89.2h1.1v1.1h-1.1zM211.8 95.3h1.1v1.1h-1.1zM215.4 93.2h1.1v1.1h-1.1zM209.2 95.9h1.1v1.1h-1.1zM210.8 93.0h1.1v1.1h-1.1zM216.5 97.8h1.1v1.1h-1.1zM212.4 95.2h1.1v1.1h-1.1zM206.4 97.3h1.1v1.1h-1.1zM214.4 91.8h1.1v1.1h-1.1zM218.7 92.1h1.1v1.1h-1.1zM215.5 98.7h1.1v1.1h-1.1zM210.8 92.4h1.1v1.1h-1.1zM209.1 98.1h1.1v1.1h-1.1zM205.5 98.4h1.1v1.1h-1.1zM210.6 98.4h1.1v1.1h-1.1zM215.3 92.4h1.1v1.1h-1.1zM214.2 90.9h1.1v1.1h-1.1zM215.6 93.0h1.1v1.1h-1.1zM212.5 95.0h1.1v1.1h-1.1zM213.7 88.0h1.1v1.1h-1.1zM210.7 94.0h1.1v1.1h-1.1zM212.9 98.8h1.1v1.1h-1.1zM217.2 94.6h1.1v1.1h-1.1zM211.0 90.6h1.1v1.1h-1.1z" fill="#17176c" fill-opacity="1.00"/>
<path d="M217.3 76.5h1.1v1.1h-1.1zM209.1 67.8h1.1v1.1h-1.1zM212.7 66.1h1.1v1.1h-1.1zM209.0 66.8h1.1v1.1h-1.1zM218.4 68.3h1.1v1.1h-1.1zM209.7 72.0h1.1v1.1h-1.1zM211.5 65.1h1.1v1.1h-1.1zM216.5 64.2h1.1v1.1h-1.1zM204.6 66.8h1.1v1.1h-1.1zM219.2 61.9h1.1v1.1h-1.1zM212.8 71.0h1.1v1.1h-1.1zM219.0 64.6h1.1v1.1h-1.1zM214.7 68.6h1.1v1.1h-1.1zM213.0 63.8h1.1v1.1h-1.1zM210.6 69.0h1.1v1.1h-1.1zM218.4 64.7h1.1v1.1h-1.1zM203.6 65.7h1.1v1.1h-1.1zM215.6 66.6h1.1v1.1h-1.1zM214.8 63.7h1.1v1.1h-1.1zM216.9 69.4h1.1v1.1h-1.1zM214.7 70.1h1.1v1.1h-1.1zM214.6 63.8h1.1v1.1h-1.1zM214.3 69.3h1.1v1.1h-1.1zM214.5 66.8h1.1v1.1h-1.1zM219.2 71.7h1.1v1.1h-1.1zM211.9 65.7h1.1v1.1h-1.1zM219.2 71.4h1.1v1.1h-1.1zM222.2 72.1h1.1v1.1h-1.1zM207.2 66.5h1.1v1.1h-1.1zM213.5 70.4h1.1v1.1h-1.1zM210.6 72.4h1.1v1.1h-1.1zM216.9 70.5h1.1v1.1h-1.1zM217.5 57.6h1.1v1.1h-1.1zM222.2 65.1h1.1v1.1h-1.1zM226.8 65.2h1.1v1.1h-1.1zM217.0 68.6h1.1v1.1h-1.1zM220.0 65.1h1.1v1.1h-1.1zM216.6 69.9h1.1v1.1h-1.1zM217.5 66.6h1.1v1.1h-1.1zM222.6 68.2h1.1v1.1h-1.1zM212.7 68.9h1.1v1.1h-1.1zM223.3 68.5h1.1v1.1h-1.1zM209.2 61.5h1.1v1.1h-1.1zM211.0 71.6h1.1v1.1h-1.1zM225.1 70.8h1.1v1.1h-1.1zM216.4 89.4h1.1v1.1h-1.1zM215.2 104.9h1.1v1.1h-1.1zM214.8 96.6h1.1v1.1h-1.1zM211.9 93.5h1.1v1.1h-1.1zM215.8 93.6h1.1v1.1h-1.1zM211.5 94.9h1.1v1.1h-1.1zM212.5 94.1h1.1v1.1h-1.1zM213.6 90.0h1.1v1.1h-1.1zM211.7 91.8h1.1v1.1h-1.1zM209.0 106.0h1.1v1.1h-1.1zM214.1 94.7h1.1v1.1h-1.1zM213.5 94.5h1.1v1.1h-1.1zM213.4 102.7h1.1v1.1h-1.1zM211.7 100.0h1.1v1.1h-1.1zM206.6 93.0h1.1v1.1h-1.1zM212.6 94.4h1.1v1.1h-1.1zM214.5 103.3h1.1v1.1h-1.1zM215.3 95.5h1.1v1.1h-1.1zM213.7 93.6h1.1v1.1h-1.1zM208.2 103.5h1.1v1.1h-1.1zM208.4 88.5h1.1v1.1h-1.1zM209.6 86.2h1.1v1.1h-1.1zM208.7 94.6h1.1v1.1h-1.1zM208.0 104.6h1.1v1.1h-1.1zM206.7 95.0h1.1v1.1h-1.1zM209.4 94.5h1.1v1.1h-1.1zM207.7 99.3h1.1v1.1h-1.1zM206.6 102.2h1.1v1.1h-1.1zM216.6 104.4h1.1v1.1h-1.1zM217.9 91.6h1.1v1.1h-1.1zM212.0 97.3h1.1v1.1h-1.1zM216.5 102.2h1.1v1.1h-1.1zM205.4 96.9h1.1v1.1h-1.1zM200.6 99.4h1.1v1.1h-1.1zM208.3 95.5h1.1v1.1h-1.1zM208.3 97.1h1.1v1.1h-1.1zM209.8 104.1h1.1v1.1h-1.1zM207.4 93.5h1.1v1.1h-1.1zM210.3 97.8h1.1v1.1h-1.1zM208.8 95.0h1.1v1.1h-1.1zM208.4 88.4h1.1v1.1h-1.1zM203.6 95.6h1.1v1.1h-1.1zM208.8 89.4h1.1v1.1h-1.1zM220.9 87.6h1.1v1.1h-1.1zM214.8 92.9h1.1v1.1h-1.1zM217.0 104.5h1.1v1.1h-1.1zM221.5 91.8h1.1v1.1h-1.1zM205.9 106.5h1.1v1.1h-1.1zM201.4 94.3h1.1v1.1h-1.1zM221.1 93.1h1.1v1.1h-1.1zM216.9 97.8h1.1v1.1h-1.1zM206.9 89.9h1.1v1.1h-1.1zM205.3 101.4h1.1v1.1h-1.1zM211.5 90.7h1.1v1.1h-1.1zM214.2 99.0h1.1v1.1h-1.1zM204.4 99.1h1.1v1.1h-1.1zM198.4 95.2h1.1v1.1h-1.1zM212.3 93.6h1.1v1.1h-1.1zM217.5 98.9h1.1v1.1h-1.1zM208.6 92.4h1.1v1.1h-1.1zM217.5 87.8h1.1v1.1h-1.1zM219.2 97.6h1.1v1.1h-1.1zM208.7 97.7h1.1v1.1h-1.1zM218.8 96.4h1.1v1.1h-1.1zM208.5 90.6h1.1v1.1h-1.1zM205.2 93.5h1.1v1.1h-1.1zM212.7 105.2h1.1v1.1h-1.1zM208.1 99.8h1.1v1.1h-1.1z" fill="#4848a0" fill-opacity="0.60"/>
<path d="M219.7 65.4h1.1v1.1h-1.1zM214.7 70.9h1.1v1.1h-1.1zM214.9 65.8h1.1v1.1h-1.1zM211.4 58.3h1.1v1.1h-1.1zM225.4 68.2h1.1v1.1h-1.1zM222.8 67.5h1.1v1.1h-1.1zM215.9 63.4h1.1v1.1h-1.1zM216.2 75.8h1.1v1.1h-1.1zM207.5 63.7h1.1v1.1h-1.1zM210.1 65.5h1.1v1.1h-1.1zM205.6 62.6h1.1v1.1h-1.1zM213.6 63.9h1.1v1.1h-1.1zM212.9 70.5h1.1v1.1h-1.1zM221.9 72.2h1.1v1.1h-1.1zM216.8 64.9h1.1v1.1h-1.1zM206.1 63.6h1.1v1.1h-1.1zM220.5 70.7h1.1v1.1h-1.1zM210.9 61.4h1.1v1.1h-1.1zM222.8 67.8h1.1v1.1h-1.1zM213.1 63.2h1.1v1.1h-1.1zM211.8 72.2h1.1v1.1h-1.1zM215.0 69.7h1.1v1.1h-1.1zM224.0 67.6h1.1v1.1h-1.1zM214.5 67.3h1.1v1.1h-1.1zM212.7 66.8h1.1v1.1h-1.1zM210.4 106.8h1.1v1.1h-1.1zM214.8 97.9h1.1v1.1h-1.1zM205.5 103.1h1.1v1.1h-1.1zM216.8 102.7h1.1v1.1h-1.1zM222.0 90.1h1.1v1.1h-1.1zM207.1 104.9h1.1v1.1h-1.1zM208.7 92.8h1.1v1.1h-1.1zM211.4 92.7h1.1v1.1h-1.1zM207.4 94.1h1.1v1.1h-1.1zM214.8 96.5h1.1v1.1h-1.1zM216.7 101.7h1.1v1.1h-1.1zM205.8 88.3h1.1v1.1h-1.1zM215.9 93.1h1.1v1.1h-1.1zM214.3 105.0h1.1v1.1h-1.1zM213.1 95.8h1.1v1.1h-1.1zM212.4 83.4h1.1v1.1h-1.1zM212.5 88.0h1.1v1.1h-1.1zM210.2 96.8h1.1v1.1h-1.1zM209.6 87.4h1.1v1.1h-1.1zM215.1 86.1h1.1v1.1h-1.1zM215.4 92.9h1.1v1.1h-1.1zM213.1 85.3h1.1v1.1h-1.1zM209.7 106.6h1.1v1.1h-1.1zM215.8 97.9h1.1v1.1h-1.1zM218.9 94.8h1.1v1.1h-1.1zM210.5 100.7h1.1v1.1h-1.1zM214.8 103.7h1.1v1.1h-1.1zM212.3 95.1h1.1v1.1h-1.1zM216.7 91.9h1.1v1.1h-1.1zM210.0 101.3h1.1v1.1h-1.1zM217.1 108.6h1.1v1.1h-1.1zM215.0 102.0h1.1v1.1h-1.1zM219.5 89.8h1.1v1.1h-1.1zM214.9 98.0h1.1v1.1h-1.1zM214.7 104.8h1.1v1.1h-1.1zM218.1 93.5h1.1v1.1h-1.1zM207.3 84.7h1.1v1.1h-1.1zM209.3 95.0h1.1v1.1h-1.1zM210.4 86.0h1.1v1.1h-1.1zM203.9 98.9h1.1v1.1h-1.1zM212.3 91.5h1.1v1.1h-1.1zM218.7 91.2h1.1v1.1h-1.1z" fill="#4848a0" fill-opacity="0.40"/>
<path d="M226.1 94.6h1.0v1.0h-1.0zM247.1 104.5h1.0v1.0h-1.0zM221.1 106.6h1.0v1.0h-1.0zM248.1 47.4h1.0v1.0h-1.0zM174.8 68.2h1.0v1.0h-1.0zM237.5 45.7h1.0v1.0h-1.0zM238.0 91.0h1.0v1.0h-1.0zM248.8 41.3h1.0v1.0h-1.0zM229.1 95.6h1.0v1.0h-1.0z" fill="#888" fill-opacity="0.20"/>
<path d="M224.1 60.1h1.0v1.0h-1.0zM178.3 53.7h1.0v1.0h-1.0zM175.3 45.8h1.0v1.0h-1.0z" fill="#888" fill-opacity="0.40"/>
<path d="M186.7 90.8h1.1v1.1h-1.1zM190.3 88.6h1.1v1.1h-1.1zM188.8 87.2h1.1v1.1h-1.1zM196.0 99.9h1.1v1.1h-1.1zM190.3 89.7h1.1v1.1h-1.1zM189.7 97.3h1.1v1.1h-1.1zM192.7 94.0h1.1v1.1h-1.1zM197.1 87.2h1.1v1.1h-1.1z" fill="#6a6a9a" fill-opacity="0.40"/>
<line x1="169.70" y1="118.00" x2="169.70" y2="119.90" stroke="#222" stroke-width="0.85"/>
<line x1="171.35" y1="118.00" x2="171.35" y2="119.90" stroke="#222" stroke-width="0.85"/>
<line x1="172.71" y1="118.00" x2="172.71" y2="119.90" stroke="#222" stroke-width="0.85"/>
<line x1="173.85" y1="118.00" x2="173.85" y2="119.90" stroke="#222" stroke-width="0.85"/>
<line x1="174.84" y1="118.00" x2="174.84" y2="119.90" stroke="#222" stroke-width="0.85"/>
<line x1="175.72" y1="118.00" x2="175.72" y2="119.90" stroke="#222" stroke-width="0.85"/>
<line x1="181.65" y1="118.00" x2="181.65" y2="119.90" stroke="#222" stroke-width="0.85"/>
<line x1="184.66" y1="118.00" x2="184.66" y2="119.90" stroke="#222" stroke-width="0.85"/>
<line x1="186.80" y1="118.00" x2="186.80" y2="119.90" stroke="#222" stroke-width="0.85"/>
<line x1="188.45" y1="118.00" x2="188.45" y2="119.90" stroke="#222" stroke-width="0.85"/>
<line x1="189.81" y1="118.00" x2="189.81" y2="119.90" stroke="#222" stroke-width="0.85"/>
<line x1="190.95" y1="118.00" x2="190.95" y2="119.90" stroke="#222" stroke-width="0.85"/>
<line x1="191.94" y1="118.00" x2="191.94" y2="119.90" stroke="#222" stroke-width="0.85"/>
<line x1="192.82" y1="118.00" x2="192.82" y2="119.90" stroke="#222" stroke-width="0.85"/>
<line x1="198.75" y1="118.00" x2="198.75" y2="119.90" stroke="#222" stroke-width="0.85"/>
<line x1="201.76" y1="118.00" x2="201.76" y2="119.90" stroke="#222" stroke-width="0.85"/>
<line x1="203.90" y1="118.00" x2="203.90" y2="119.90" stroke="#222" stroke-width="0.85"/>
<line x1="205.55" y1="118.00" x2="205.55" y2="119.90" stroke="#222" stroke-width="0.85"/>
<line x1="206.91" y1="118.00" x2="206.91" y2="119.90" stroke="#222" stroke-width="0.85"/>
<line x1="208.05" y1="118.00" x2="208.05" y2="119.90" stroke="#222" stroke-width="0.85"/>
<line x1="209.04" y1="118.00" x2="209.04" y2="119.90" stroke="#222" stroke-width="0.85"/>
<line x1="209.92" y1="118.00" x2="209.92" y2="119.90" stroke="#222" stroke-width="0.85"/>
<line x1="215.85" y1="118.00" x2="215.85" y2="119.90" stroke="#222" stroke-width="0.85"/>
<line x1="218.86" y1="118.00" x2="218.86" y2="119.90" stroke="#222" stroke-width="0.85"/>
<line x1="221.00" y1="118.00" x2="221.00" y2="119.90" stroke="#222" stroke-width="0.85"/>
<line x1="222.65" y1="118.00" x2="222.65" y2="119.90" stroke="#222" stroke-width="0.85"/>
<line x1="224.01" y1="118.00" x2="224.01" y2="119.90" stroke="#222" stroke-width="0.85"/>
<line x1="225.15" y1="118.00" x2="225.15" y2="119.90" stroke="#222" stroke-width="0.85"/>
<line x1="226.14" y1="118.00" x2="226.14" y2="119.90" stroke="#222" stroke-width="0.85"/>
<line x1="227.02" y1="118.00" x2="227.02" y2="119.90" stroke="#222" stroke-width="0.85"/>
<line x1="232.95" y1="118.00" x2="232.95" y2="119.90" stroke="#222" stroke-width="0.85"/>
<line x1="235.96" y1="118.00" x2="235.96" y2="119.90" stroke="#222" stroke-width="0.85"/>
<line x1="238.10" y1="118.00" x2="238.10" y2="119.90" stroke="#222" stroke-width="0.85"/>
<line x1="239.75" y1="118.00" x2="239.75" y2="119.90" stroke="#222" stroke-width="0.85"/>
<line x1="241.11" y1="118.00" x2="241.11" y2="119.90" stroke="#222" stroke-width="0.85"/>
<line x1="242.25" y1="118.00" x2="242.25" y2="119.90" stroke="#222" stroke-width="0.85"/>
<line x1="243.24" y1="118.00" x2="243.24" y2="119.90" stroke="#222" stroke-width="0.85"/>
<line x1="244.12" y1="118.00" x2="244.12" y2="119.90" stroke="#222" stroke-width="0.85"/>
<line x1="250.05" y1="118.00" x2="250.05" y2="119.90" stroke="#222" stroke-width="0.85"/>
<line x1="166.10" y1="115.65" x2="168.00" y2="115.65" stroke="#222" stroke-width="0.85"/>
<line x1="166.10" y1="114.03" x2="168.00" y2="114.03" stroke="#222" stroke-width="0.85"/>
<line x1="166.10" y1="112.70" x2="168.00" y2="112.70" stroke="#222" stroke-width="0.85"/>
<line x1="166.10" y1="111.59" x2="168.00" y2="111.59" stroke="#222" stroke-width="0.85"/>
<line x1="166.10" y1="110.62" x2="168.00" y2="110.62" stroke="#222" stroke-width="0.85"/>
<line x1="166.10" y1="109.76" x2="168.00" y2="109.76" stroke="#222" stroke-width="0.85"/>
<line x1="166.10" y1="103.97" x2="168.00" y2="103.97" stroke="#222" stroke-width="0.85"/>
<line x1="166.10" y1="101.03" x2="168.00" y2="101.03" stroke="#222" stroke-width="0.85"/>
<line x1="166.10" y1="98.95" x2="168.00" y2="98.95" stroke="#222" stroke-width="0.85"/>
<line x1="166.10" y1="97.33" x2="168.00" y2="97.33" stroke="#222" stroke-width="0.85"/>
<line x1="166.10" y1="96.00" x2="168.00" y2="96.00" stroke="#222" stroke-width="0.85"/>
<line x1="166.10" y1="94.89" x2="168.00" y2="94.89" stroke="#222" stroke-width="0.85"/>
<line x1="166.10" y1="93.92" x2="168.00" y2="93.92" stroke="#222" stroke-width="0.85"/>
<line x1="166.10" y1="93.06" x2="168.00" y2="93.06" stroke="#222" stroke-width="0.85"/>
<line x1="166.10" y1="87.27" x2="168.00" y2="87.27" stroke="#222" stroke-width="0.85"/>
<line x1="166.10" y1="84.33" x2="168.00" y2="84.33" stroke="#222" stroke-width="0.85"/>
<line x1="166.10" y1="82.25" x2="168.00" y2="82.25" stroke="#222" stroke-width="0.85"/>
<line x1="166.10" y1="80.63" x2="168.00" y2="80.63" stroke="#222" stroke-width="0.85"/>
<line x1="166.10" y1="79.30" x2="168.00" y2="79.30" stroke="#222" stroke-width="0.85"/>
<line x1="166.10" y1="78.19" x2="168.00" y2="78.19" stroke="#222" stroke-width="0.85"/>
<line x1="166.10" y1="77.22" x2="168.00" y2="77.22" stroke="#222" stroke-width="0.85"/>
<line x1="166.10" y1="76.36" x2="168.00" y2="76.36" stroke="#222" stroke-width="0.85"/>
<line x1="166.10" y1="70.57" x2="168.00" y2="70.57" stroke="#222" stroke-width="0.85"/>
<line x1="166.10" y1="67.63" x2="168.00" y2="67.63" stroke="#222" stroke-width="0.85"/>
<line x1="166.10" y1="65.55" x2="168.00" y2="65.55" stroke="#222" stroke-width="0.85"/>
<line x1="166.10" y1="63.93" x2="168.00" y2="63.93" stroke="#222" stroke-width="0.85"/>
<line x1="166.10" y1="62.60" x2="168.00" y2="62.60" stroke="#222" stroke-width="0.85"/>
<line x1="166.10" y1="61.49" x2="168.00" y2="61.49" stroke="#222" stroke-width="0.85"/>
<line x1="166.10" y1="60.52" x2="168.00" y2="60.52" stroke="#222" stroke-width="0.85"/>
<line x1="166.10" y1="59.66" x2="168.00" y2="59.66" stroke="#222" stroke-width="0.85"/>
<line x1="166.10" y1="53.87" x2="168.00" y2="53.87" stroke="#222" stroke-width="0.85"/>
<line x1="166.10" y1="50.93" x2="168.00" y2="50.93" stroke="#222" stroke-width="0.85"/>
<line x1="166.10" y1="48.85" x2="168.00" y2="48.85" stroke="#222" stroke-width="0.85"/>
<line x1="166.10" y1="47.23" x2="168.00" y2="47.23" stroke="#222" stroke-width="0.85"/>
<line x1="166.10" y1="45.90" x2="168.00" y2="45.90" stroke="#222" stroke-width="0.85"/>
<line x1="166.10" y1="44.79" x2="168.00" y2="44.79" stroke="#222" stroke-width="0.85"/>
<line x1="166.10" y1="43.82" x2="168.00" y2="43.82" stroke="#222" stroke-width="0.85"/>
<line x1="166.10" y1="42.96" x2="168.00" y2="42.96" stroke="#222" stroke-width="0.85"/>
<line x1="166.10" y1="37.17" x2="168.00" y2="37.17" stroke="#222" stroke-width="0.85"/>
<line x1="176.50" y1="118.00" x2="176.50" y2="121.00" stroke="#111" stroke-width="0.9"/>
<line x1="193.60" y1="118.00" x2="193.60" y2="121.00" stroke="#111" stroke-width="0.9"/>
<line x1="210.70" y1="118.00" x2="210.70" y2="121.00" stroke="#111" stroke-width="0.9"/>
<line x1="227.80" y1="118.00" x2="227.80" y2="121.00" stroke="#111" stroke-width="0.9"/>
<line x1="244.90" y1="118.00" x2="244.90" y2="121.00" stroke="#111" stroke-width="0.9"/>
<line x1="165.00" y1="109.00" x2="168.00" y2="109.00" stroke="#111" stroke-width="0.9"/>
<line x1="165.00" y1="92.30" x2="168.00" y2="92.30" stroke="#111" stroke-width="0.9"/>
<line x1="165.00" y1="75.70" x2="168.00" y2="75.70" stroke="#111" stroke-width="0.9"/>
<line x1="165.00" y1="59.00" x2="168.00" y2="59.00" stroke="#111" stroke-width="0.9"/>
<line x1="165.00" y1="42.30" x2="168.00" y2="42.30" stroke="#111" stroke-width="0.9"/>
<line x1="202.00" y1="35.00" x2="202.00" y2="118.00" stroke="#000" stroke-width="1.25"/>
<line x1="168.00" y1="81.30" x2="253.00" y2="81.30" stroke="#000" stroke-width="1.25"/>
<rect x="168.00" y="35.00" width="85.00" height="83.00" fill="none" stroke="#000" stroke-width="1.3"/>
<text x="177.90" y="43.50" font-size="8.4" text-anchor="middle" font-weight="normal" fill="#222" class="h">0.12</text>
<text x="251.20" y="43.50" font-size="8.4" text-anchor="end" font-weight="normal" fill="#222" class="h">36.0</text>
<text x="177.90" y="114.80" font-size="8.4" text-anchor="middle" font-weight="normal" fill="#222" class="h">2.03</text>
<text x="251.20" y="114.80" font-size="8.4" text-anchor="end" font-weight="normal" fill="#222" class="h">61.8</text>
<text class="h" x="176.80" y="131.90" font-size="8.6" text-anchor="middle" fill="#222">10<tspan dy="-2.7" font-size="6.45">1</tspan></text>
<text class="h" x="193.90" y="131.90" font-size="8.6" text-anchor="middle" fill="#222">10<tspan dy="-2.7" font-size="6.45">2</tspan></text>
<text class="h" x="211.00" y="131.90" font-size="8.6" text-anchor="middle" fill="#222">10<tspan dy="-2.7" font-size="6.45">3</tspan></text>
<text class="h" x="228.10" y="131.90" font-size="8.6" text-anchor="middle" fill="#222">10<tspan dy="-2.7" font-size="6.45">4</tspan></text>
<text class="h" x="245.20" y="131.90" font-size="8.6" text-anchor="middle" fill="#222">10<tspan dy="-2.7" font-size="6.45">5</tspan></text>
<text class="h" x="162.40" y="111.60" font-size="8.6" text-anchor="end" fill="#222">10<tspan dy="-2.7" font-size="6.45">1</tspan></text>
<text class="h" x="162.40" y="94.90" font-size="8.6" text-anchor="end" fill="#222">10<tspan dy="-2.7" font-size="6.45">2</tspan></text>
<text class="h" x="162.40" y="78.30" font-size="8.6" text-anchor="end" fill="#222">10<tspan dy="-2.7" font-size="6.45">3</tspan></text>
<text class="h" x="162.40" y="61.60" font-size="8.6" text-anchor="end" fill="#222">10<tspan dy="-2.7" font-size="6.45">4</tspan></text>
<text class="h" x="162.40" y="44.90" font-size="8.6" text-anchor="end" fill="#222">10<tspan dy="-2.7" font-size="6.45">5</tspan></text>
<path d="M72.8 213.0h1.1v1.1h-1.1zM77.2 220.5h1.1v1.1h-1.1zM74.1 217.0h1.1v1.1h-1.1zM72.7 218.8h1.1v1.1h-1.1zM69.4 221.0h1.1v1.1h-1.1zM72.0 219.1h1.1v1.1h-1.1zM79.3 215.1h1.1v1.1h-1.1zM75.5 220.2h1.1v1.1h-1.1zM79.6 215.9h1.1v1.1h-1.1zM76.4 219.1h1.1v1.1h-1.1zM73.2 214.8h1.1v1.1h-1.1zM79.1 218.0h1.1v1.1h-1.1zM84.6 217.4h1.1v1.1h-1.1zM76.2 217.4h1.1v1.1h-1.1zM68.2 219.4h1.1v1.1h-1.1zM71.9 212.6h1.1v1.1h-1.1zM78.6 218.3h1.1v1.1h-1.1zM81.4 220.9h1.1v1.1h-1.1zM77.9 214.9h1.1v1.1h-1.1zM72.8 210.3h1.1v1.1h-1.1zM67.3 212.4h1.1v1.1h-1.1zM70.9 211.5h1.1v1.1h-1.1zM73.4 217.4h1.1v1.1h-1.1zM75.8 213.1h1.1v1.1h-1.1zM69.8 216.6h1.1v1.1h-1.1zM73.3 213.0h1.1v1.1h-1.1zM75.0 213.3h1.1v1.1h-1.1zM73.4 213.0h1.1v1.1h-1.1zM75.2 213.8h1.1v1.1h-1.1zM68.6 215.1h1.1v1.1h-1.1zM75.2 217.1h1.1v1.1h-1.1zM71.1 208.0h1.1v1.1h-1.1zM74.9 222.3h1.1v1.1h-1.1zM69.3 219.9h1.1v1.1h-1.1zM71.9 212.8h1.1v1.1h-1.1zM74.0 210.4h1.1v1.1h-1.1zM66.3 213.0h1.1v1.1h-1.1zM74.2 216.0h1.1v1.1h-1.1zM78.2 216.4h1.1v1.1h-1.1zM74.3 208.1h1.1v1.1h-1.1zM70.6 223.9h1.1v1.1h-1.1zM72.7 223.2h1.1v1.1h-1.1zM72.7 207.8h1.1v1.1h-1.1zM81.6 208.7h1.1v1.1h-1.1zM73.6 220.2h1.1v1.1h-1.1zM66.8 223.7h1.1v1.1h-1.1zM68.6 214.1h1.1v1.1h-1.1zM76.4 216.0h1.1v1.1h-1.1zM71.2 214.3h1.1v1.1h-1.1zM73.3 222.1h1.1v1.1h-1.1zM70.9 217.6h1.1v1.1h-1.1zM67.9 216.8h1.1v1.1h-1.1zM69.4 219.8h1.1v1.1h-1.1zM74.9 215.3h1.1v1.1h-1.1zM76.2 210.6h1.1v1.1h-1.1zM70.7 219.0h1.1v1.1h-1.1zM68.1 225.9h1.1v1.1h-1.1zM77.5 218.1h1.1v1.1h-1.1zM75.7 220.6h1.1v1.1h-1.1zM68.5 221.4h1.1v1.1h-1.1zM71.5 221.8h1.1v1.1h-1.1zM76.6 217.4h1.1v1.1h-1.1zM76.6 218.8h1.1v1.1h-1.1zM76.6 224.3h1.1v1.1h-1.1zM73.9 219.3h1.1v1.1h-1.1zM69.4 212.8h1.1v1.1h-1.1zM73.6 212.1h1.1v1.1h-1.1zM78.9 219.9h1.1v1.1h-1.1zM79.6 215.1h1.1v1.1h-1.1zM78.5 212.0h1.1v1.1h-1.1zM72.3 212.7h1.1v1.1h-1.1zM70.2 223.2h1.1v1.1h-1.1zM77.4 211.1h1.1v1.1h-1.1zM71.0 216.4h1.1v1.1h-1.1zM81.2 214.7h1.1v1.1h-1.1zM71.8 210.1h1.1v1.1h-1.1zM70.3 213.5h1.1v1.1h-1.1zM69.1 211.7h1.1v1.1h-1.1zM74.9 213.5h1.1v1.1h-1.1z" fill="#17176c" fill-opacity="0.80"/>
<path d="M73.5 212.2h1.1v1.1h-1.1zM70.4 221.5h1.1v1.1h-1.1zM70.2 216.3h1.1v1.1h-1.1zM69.9 217.4h1.1v1.1h-1.1zM78.8 215.9h1.1v1.1h-1.1zM75.0 215.3h1.1v1.1h-1.1zM80.0 209.5h1.1v1.1h-1.1zM72.7 216.6h1.1v1.1h-1.1zM72.2 218.9h1.1v1.1h-1.1zM72.8 213.0h1.1v1.1h-1.1zM75.2 216.1h1.1v1.1h-1.1zM58.7 216.3h1.1v1.1h-1.1zM72.8 215.3h1.1v1.1h-1.1zM72.1 213.7h1.1v1.1h-1.1zM73.4 216.2h1.1v1.1h-1.1zM71.6 213.0h1.1v1.1h-1.1zM73.7 210.6h1.1v1.1h-1.1zM69.4 210.5h1.1v1.1h-1.1zM72.8 213.7h1.1v1.1h-1.1zM75.4 218.5h1.1v1.1h-1.1zM69.9 214.2h1.1v1.1h-1.1zM69.3 216.6h1.1v1.1h-1.1zM74.8 215.2h1.1v1.1h-1.1zM72.8 219.2h1.1v1.1h-1.1zM73.2 215.5h1.1v1.1h-1.1zM69.9 218.5h1.1v1.1h-1.1zM77.0 216.1h1.1v1.1h-1.1zM75.9 217.4h1.1v1.1h-1.1zM82.9 218.6h1.1v1.1h-1.1zM79.5 219.8h1.1v1.1h-1.1zM79.1 215.5h1.1v1.1h-1.1zM65.7 216.2h1.1v1.1h-1.1zM67.2 218.6h1.1v1.1h-1.1zM76.2 219.5h1.1v1.1h-1.1zM76.9 215.7h1.1v1.1h-1.1zM74.6 213.7h1.1v1.1h-1.1zM77.5 214.2h1.1v1.1h-1.1zM76.4 220.2h1.1v1.1h-1.1zM75.1 216.1h1.1v1.1h-1.1zM78.8 219.5h1.1v1.1h-1.1zM74.9 211.5h1.1v1.1h-1.1zM75.1 210.0h1.1v1.1h-1.1zM64.8 216.2h1.1v1.1h-1.1zM72.0 224.9h1.1v1.1h-1.1zM71.9 218.6h1.1v1.1h-1.1zM71.8 217.2h1.1v1.1h-1.1zM74.8 220.2h1.1v1.1h-1.1zM76.6 218.2h1.1v1.1h-1.1zM75.4 212.4h1.1v1.1h-1.1zM74.9 213.0h1.1v1.1h-1.1zM73.9 212.9h1.1v1.1h-1.1zM77.6 213.7h1.1v1.1h-1.1zM73.2 214.8h1.1v1.1h-1.1zM73.3 221.8h1.1v1.1h-1.1zM76.1 219.3h1.1v1.1h-1.1zM84.8 216.9h1.1v1.1h-1.1zM80.1 214.4h1.1v1.1h-1.1zM61.6 219.8h1.1v1.1h-1.1zM77.9 219.7h1.1v1.1h-1.1zM74.3 219.5h1.1v1.1h-1.1zM72.9 220.0h1.1v1.1h-1.1zM68.7 217.3h1.1v1.1h-1.1zM67.7 211.7h1.1v1.1h-1.1zM77.2 211.3h1.1v1.1h-1.1zM75.1 219.0h1.1v1.1h-1.1zM76.0 213.6h1.1v1.1h-1.1zM74.9 219.1h1.1v1.1h-1.1zM75.4 216.1h1.1v1.1h-1.1zM76.3 217.0h1.1v1.1h-1.1zM69.3 210.2h1.1v1.1h-1.1zM76.4 224.0h1.1v1.1h-1.1zM76.6 216.8h1.1v1.1h-1.1zM77.1 209.8h1.1v1.1h-1.1zM73.2 219.0h1.1v1.1h-1.1zM71.7 218.9h1.1v1.1h-1.1zM70.6 213.5h1.1v1.1h-1.1zM72.2 211.8h1.1v1.1h-1.1zM68.6 217.7h1.1v1.1h-1.1zM77.3 210.5h1.1v1.1h-1.1zM76.1 208.8h1.1v1.1h-1.1zM77.7 216.2h1.1v1.1h-1.1zM83.0 211.8h1.1v1.1h-1.1zM69.3 210.9h1.1v1.1h-1.1zM77.0 209.1h1.1v1.1h-1.1zM76.9 214.3h1.1v1.1h-1.1zM67.2 210.8h1.1v1.1h-1.1zM73.0 211.7h1.1v1.1h-1.1zM80.3 217.7h1.1v1.1h-1.1zM72.4 215.1h1.1v1.1h-1.1zM76.8 216.8h1.1v1.1h-1.1zM70.1 207.8h1.1v1.1h-1.1z" fill="#17176c" fill-opacity="0.60"/>
<path d="M66.5 211.8h1.1v1.1h-1.1zM78.9 226.2h1.1v1.1h-1.1zM61.0 230.0h1.1v1.1h-1.1zM66.2 216.6h1.1v1.1h-1.1zM68.9 216.9h1.1v1.1h-1.1zM61.9 211.7h1.1v1.1h-1.1zM78.2 220.8h1.1v1.1h-1.1zM57.2 219.3h1.1v1.1h-1.1zM54.1 213.7h1.1v1.1h-1.1zM64.2 213.6h1.1v1.1h-1.1zM77.3 223.9h1.1v1.1h-1.1zM67.9 224.1h1.1v1.1h-1.1zM61.7 222.9h1.1v1.1h-1.1zM55.4 211.9h1.1v1.1h-1.1zM74.0 217.1h1.1v1.1h-1.1zM62.7 234.0h1.1v1.1h-1.1zM60.9 212.0h1.1v1.1h-1.1zM53.6 213.6h1.1v1.1h-1.1zM56.4 210.9h1.1v1.1h-1.1zM66.5 224.8h1.1v1.1h-1.1zM78.0 219.5h1.1v1.1h-1.1zM50.4 210.2h1.1v1.1h-1.1zM81.0 219.2h1.1v1.1h-1.1zM64.8 215.7h1.1v1.1h-1.1zM77.2 220.0h1.1v1.1h-1.1zM65.5 221.3h1.1v1.1h-1.1zM61.0 228.2h1.1v1.1h-1.1zM67.7 221.2h1.1v1.1h-1.1zM74.6 213.0h1.1v1.1h-1.1zM66.7 219.5h1.1v1.1h-1.1zM63.1 222.2h1.1v1.1h-1.1zM64.3 217.4h1.1v1.1h-1.1zM70.2 220.4h1.1v1.1h-1.1zM62.9 227.3h1.1v1.1h-1.1zM62.2 222.1h1.1v1.1h-1.1zM81.4 227.3h1.1v1.1h-1.1zM66.5 220.1h1.1v1.1h-1.1zM69.9 209.9h1.1v1.1h-1.1zM61.5 214.0h1.1v1.1h-1.1zM77.3 217.7h1.1v1.1h-1.1zM63.6 214.9h1.1v1.1h-1.1zM73.7 223.6h1.1v1.1h-1.1zM80.1 219.4h1.1v1.1h-1.1zM71.9 217.8h1.1v1.1h-1.1zM79.1 215.6h1.1v1.1h-1.1zM76.2 210.7h1.1v1.1h-1.1zM61.8 222.3h1.1v1.1h-1.1zM68.6 207.9h1.1v1.1h-1.1zM55.2 219.8h1.1v1.1h-1.1zM73.8 218.8h1.1v1.1h-1.1zM77.1 224.6h1.1v1.1h-1.1zM77.9 221.0h1.1v1.1h-1.1zM72.6 210.5h1.1v1.1h-1.1zM84.9 219.5h1.1v1.1h-1.1zM71.6 215.8h1.1v1.1h-1.1zM47.8 208.3h1.1v1.1h-1.1zM68.0 216.5h1.1v1.1h-1.1zM63.5 217.2h1.1v1.1h-1.1zM55.4 215.1h1.1v1.1h-1.1zM59.0 207.8h1.1v1.1h-1.1zM73.8 220.7h1.1v1.1h-1.1zM77.4 213.2h1.1v1.1h-1.1zM74.1 217.8h1.1v1.1h-1.1zM69.2 223.3h1.1v1.1h-1.1zM54.3 222.6h1.1v1.1h-1.1zM65.7 217.4h1.1v1.1h-1.1zM64.4 226.3h1.1v1.1h-1.1zM76.4 231.7h1.1v1.1h-1.1zM68.3 222.3h1.1v1.1h-1.1zM73.5 218.9h1.1v1.1h-1.1zM64.7 218.2h1.1v1.1h-1.1zM62.5 217.1h1.1v1.1h-1.1zM57.9 227.4h1.1v1.1h-1.1zM56.0 224.6h1.1v1.1h-1.1zM73.0 217.8h1.1v1.1h-1.1zM69.0 220.6h1.1v1.1h-1.1zM56.1 230.9h1.1v1.1h-1.1zM69.1 220.8h1.1v1.1h-1.1zM79.1 220.6h1.1v1.1h-1.1zM70.0 226.1h1.1v1.1h-1.1zM59.4 214.1h1.1v1.1h-1.1zM62.8 215.7h1.1v1.1h-1.1zM66.1 220.5h1.1v1.1h-1.1zM72.9 215.0h1.1v1.1h-1.1zM67.1 219.0h1.1v1.1h-1.1zM69.7 215.9h1.1v1.1h-1.1zM74.7 221.5h1.1v1.1h-1.1zM56.0 226.0h1.1v1.1h-1.1zM69.4 215.3h1.1v1.1h-1.1zM68.7 215.9h1.1v1.1h-1.1zM63.0 210.1h1.1v1.1h-1.1zM75.3 216.6h1.1v1.1h-1.1zM67.2 223.2h1.1v1.1h-1.1zM77.4 219.9h1.1v1.1h-1.1zM64.7 216.4h1.1v1.1h-1.1zM76.7 218.3h1.1v1.1h-1.1zM65.5 209.5h1.1v1.1h-1.1zM75.3 220.6h1.1v1.1h-1.1zM69.0 223.1h1.1v1.1h-1.1zM77.4 214.3h1.1v1.1h-1.1zM69.6 212.0h1.1v1.1h-1.1zM65.8 216.7h1.1v1.1h-1.1zM62.1 220.5h1.1v1.1h-1.1zM83.4 221.6h1.1v1.1h-1.1zM66.5 209.5h1.1v1.1h-1.1zM60.8 223.7h1.1v1.1h-1.1zM83.4 222.4h1.1v1.1h-1.1zM70.5 219.2h1.1v1.1h-1.1zM76.8 213.7h1.1v1.1h-1.1zM60.5 224.3h1.1v1.1h-1.1zM72.0 220.8h1.1v1.1h-1.1zM82.8 221.6h1.1v1.1h-1.1zM71.4 228.5h1.1v1.1h-1.1zM67.7 212.8h1.1v1.1h-1.1zM59.0 218.6h1.1v1.1h-1.1zM50.0 218.1h1.1v1.1h-1.1zM70.0 212.2h1.1v1.1h-1.1zM62.2 210.6h1.1v1.1h-1.1zM91.5 219.5h1.1v1.1h-1.1zM99.0 215.3h1.1v1.1h-1.1zM93.0 226.8h1.1v1.1h-1.1zM93.9 227.1h1.1v1.1h-1.1zM100.8 216.2h1.1v1.1h-1.1zM88.5 221.9h1.1v1.1h-1.1zM96.0 218.2h1.1v1.1h-1.1zM94.1 216.5h1.1v1.1h-1.1zM104.3 222.3h1.1v1.1h-1.1zM93.2 223.8h1.1v1.1h-1.1zM93.0 227.7h1.1v1.1h-1.1zM102.1 216.9h1.1v1.1h-1.1zM90.3 217.1h1.1v1.1h-1.1zM103.1 227.8h1.1v1.1h-1.1zM104.4 222.2h1.1v1.1h-1.1zM90.3 222.5h1.1v1.1h-1.1zM92.0 218.3h1.1v1.1h-1.1zM106.0 210.7h1.1v1.1h-1.1zM96.7 220.0h1.1v1.1h-1.1zM95.7 220.4h1.1v1.1h-1.1zM95.5 225.9h1.1v1.1h-1.1zM91.9 214.7h1.1v1.1h-1.1zM92.5 214.6h1.1v1.1h-1.1zM96.6 219.9h1.1v1.1h-1.1zM96.8 217.1h1.1v1.1h-1.1zM90.5 219.9h1.1v1.1h-1.1zM90.6 219.9h1.1v1.1h-1.1zM109.7 215.5h1.1v1.1h-1.1zM98.7 221.0h1.1v1.1h-1.1zM98.0 222.9h1.1v1.1h-1.1zM102.0 222.7h1.1v1.1h-1.1zM90.4 219.7h1.1v1.1h-1.1zM104.9 232.3h1.1v1.1h-1.1zM98.8 220.9h1.1v1.1h-1.1zM97.1 214.9h1.1v1.1h-1.1zM92.5 223.4h1.1v1.1h-1.1zM102.5 220.4h1.1v1.1h-1.1z" fill="#4848a0" fill-opacity="0.40"/>
<path d="M74.8 224.5h1.1v1.1h-1.1zM69.8 212.2h1.1v1.1h-1.1zM76.4 215.4h1.1v1.1h-1.1zM68.5 226.8h1.1v1.1h-1.1zM84.4 220.1h1.1v1.1h-1.1zM61.8 222.4h1.1v1.1h-1.1zM75.7 211.2h1.1v1.1h-1.1zM77.4 211.3h1.1v1.1h-1.1zM71.5 208.9h1.1v1.1h-1.1zM62.1 223.7h1.1v1.1h-1.1zM76.9 212.9h1.1v1.1h-1.1zM80.8 219.8h1.1v1.1h-1.1zM68.3 230.2h1.1v1.1h-1.1zM65.7 213.0h1.1v1.1h-1.1zM63.0 217.3h1.1v1.1h-1.1zM57.8 218.5h1.1v1.1h-1.1zM70.0 214.5h1.1v1.1h-1.1zM68.5 230.4h1.1v1.1h-1.1zM56.0 229.4h1.1v1.1h-1.1zM69.3 211.1h1.1v1.1h-1.1zM78.4 217.8h1.1v1.1h-1.1zM66.0 213.6h1.1v1.1h-1.1zM65.7 211.3h1.1v1.1h-1.1zM71.8 232.8h1.1v1.1h-1.1zM56.0 212.3h1.1v1.1h-1.1zM71.5 217.4h1.1v1.1h-1.1zM77.7 215.1h1.1v1.1h-1.1zM66.2 213.8h1.1v1.1h-1.1zM79.1 218.3h1.1v1.1h-1.1zM79.7 223.3h1.1v1.1h-1.1zM68.3 223.9h1.1v1.1h-1.1zM70.4 210.8h1.1v1.1h-1.1zM97.1 224.0h1.1v1.1h-1.1zM104.8 223.1h1.1v1.1h-1.1zM105.0 212.9h1.1v1.1h-1.1zM90.8 219.8h1.1v1.1h-1.1zM94.3 209.4h1.1v1.1h-1.1zM91.2 215.4h1.1v1.1h-1.1zM92.6 218.1h1.1v1.1h-1.1zM94.6 226.0h1.1v1.1h-1.1zM97.4 220.2h1.1v1.1h-1.1zM99.3 210.8h1.1v1.1h-1.1zM100.1 220.9h1.1v1.1h-1.1zM94.2 221.0h1.1v1.1h-1.1zM98.7 219.2h1.1v1.1h-1.1z" fill="#4848a0" fill-opacity="0.60"/>
<path d="M93.1 193.7h1.1v1.1h-1.1zM94.7 192.6h1.1v1.1h-1.1zM91.4 193.1h1.1v1.1h-1.1zM96.3 188.5h1.1v1.1h-1.1zM91.9 195.7h1.1v1.1h-1.1zM94.6 191.4h1.1v1.1h-1.1z" fill="#7a7ab4" fill-opacity="0.40"/>
<path d="M72.9 187.9h1.0v1.0h-1.0zM97.8 222.5h1.0v1.0h-1.0zM92.3 205.4h1.0v1.0h-1.0zM91.9 185.6h1.0v1.0h-1.0zM128.3 172.2h1.0v1.0h-1.0zM99.0 195.5h1.0v1.0h-1.0zM118.8 183.2h1.0v1.0h-1.0z" fill="#888" fill-opacity="0.20"/>
<path d="M122.2 237.2h1.0v1.0h-1.0z" fill="#888" fill-opacity="0.40"/>
<line x1="48.16" y1="244.40" x2="48.16" y2="246.30" stroke="#222" stroke-width="0.85"/>
<line x1="49.82" y1="244.40" x2="49.82" y2="246.30" stroke="#222" stroke-width="0.85"/>
<line x1="51.18" y1="244.40" x2="51.18" y2="246.30" stroke="#222" stroke-width="0.85"/>
<line x1="52.34" y1="244.40" x2="52.34" y2="246.30" stroke="#222" stroke-width="0.85"/>
<line x1="53.33" y1="244.40" x2="53.33" y2="246.30" stroke="#222" stroke-width="0.85"/>
<line x1="54.21" y1="244.40" x2="54.21" y2="246.30" stroke="#222" stroke-width="0.85"/>
<line x1="60.18" y1="244.40" x2="60.18" y2="246.30" stroke="#222" stroke-width="0.85"/>
<line x1="63.21" y1="244.40" x2="63.21" y2="246.30" stroke="#222" stroke-width="0.85"/>
<line x1="65.36" y1="244.40" x2="65.36" y2="246.30" stroke="#222" stroke-width="0.85"/>
<line x1="67.02" y1="244.40" x2="67.02" y2="246.30" stroke="#222" stroke-width="0.85"/>
<line x1="68.38" y1="244.40" x2="68.38" y2="246.30" stroke="#222" stroke-width="0.85"/>
<line x1="69.54" y1="244.40" x2="69.54" y2="246.30" stroke="#222" stroke-width="0.85"/>
<line x1="70.53" y1="244.40" x2="70.53" y2="246.30" stroke="#222" stroke-width="0.85"/>
<line x1="71.41" y1="244.40" x2="71.41" y2="246.30" stroke="#222" stroke-width="0.85"/>
<line x1="77.38" y1="244.40" x2="77.38" y2="246.30" stroke="#222" stroke-width="0.85"/>
<line x1="80.41" y1="244.40" x2="80.41" y2="246.30" stroke="#222" stroke-width="0.85"/>
<line x1="82.56" y1="244.40" x2="82.56" y2="246.30" stroke="#222" stroke-width="0.85"/>
<line x1="84.22" y1="244.40" x2="84.22" y2="246.30" stroke="#222" stroke-width="0.85"/>
<line x1="85.58" y1="244.40" x2="85.58" y2="246.30" stroke="#222" stroke-width="0.85"/>
<line x1="86.74" y1="244.40" x2="86.74" y2="246.30" stroke="#222" stroke-width="0.85"/>
<line x1="87.73" y1="244.40" x2="87.73" y2="246.30" stroke="#222" stroke-width="0.85"/>
<line x1="88.61" y1="244.40" x2="88.61" y2="246.30" stroke="#222" stroke-width="0.85"/>
<line x1="94.58" y1="244.40" x2="94.58" y2="246.30" stroke="#222" stroke-width="0.85"/>
<line x1="97.61" y1="244.40" x2="97.61" y2="246.30" stroke="#222" stroke-width="0.85"/>
<line x1="99.76" y1="244.40" x2="99.76" y2="246.30" stroke="#222" stroke-width="0.85"/>
<line x1="101.42" y1="244.40" x2="101.42" y2="246.30" stroke="#222" stroke-width="0.85"/>
<line x1="102.78" y1="244.40" x2="102.78" y2="246.30" stroke="#222" stroke-width="0.85"/>
<line x1="103.94" y1="244.40" x2="103.94" y2="246.30" stroke="#222" stroke-width="0.85"/>
<line x1="104.93" y1="244.40" x2="104.93" y2="246.30" stroke="#222" stroke-width="0.85"/>
<line x1="105.81" y1="244.40" x2="105.81" y2="246.30" stroke="#222" stroke-width="0.85"/>
<line x1="111.78" y1="244.40" x2="111.78" y2="246.30" stroke="#222" stroke-width="0.85"/>
<line x1="114.81" y1="244.40" x2="114.81" y2="246.30" stroke="#222" stroke-width="0.85"/>
<line x1="116.96" y1="244.40" x2="116.96" y2="246.30" stroke="#222" stroke-width="0.85"/>
<line x1="118.62" y1="244.40" x2="118.62" y2="246.30" stroke="#222" stroke-width="0.85"/>
<line x1="119.98" y1="244.40" x2="119.98" y2="246.30" stroke="#222" stroke-width="0.85"/>
<line x1="121.14" y1="244.40" x2="121.14" y2="246.30" stroke="#222" stroke-width="0.85"/>
<line x1="122.13" y1="244.40" x2="122.13" y2="246.30" stroke="#222" stroke-width="0.85"/>
<line x1="123.01" y1="244.40" x2="123.01" y2="246.30" stroke="#222" stroke-width="0.85"/>
<line x1="128.98" y1="244.40" x2="128.98" y2="246.30" stroke="#222" stroke-width="0.85"/>
<line x1="44.10" y1="243.25" x2="46.00" y2="243.25" stroke="#222" stroke-width="0.85"/>
<line x1="44.10" y1="241.63" x2="46.00" y2="241.63" stroke="#222" stroke-width="0.85"/>
<line x1="44.10" y1="240.30" x2="46.00" y2="240.30" stroke="#222" stroke-width="0.85"/>
<line x1="44.10" y1="239.19" x2="46.00" y2="239.19" stroke="#222" stroke-width="0.85"/>
<line x1="44.10" y1="238.22" x2="46.00" y2="238.22" stroke="#222" stroke-width="0.85"/>
<line x1="44.10" y1="237.36" x2="46.00" y2="237.36" stroke="#222" stroke-width="0.85"/>
<line x1="44.10" y1="231.57" x2="46.00" y2="231.57" stroke="#222" stroke-width="0.85"/>
<line x1="44.10" y1="228.63" x2="46.00" y2="228.63" stroke="#222" stroke-width="0.85"/>
<line x1="44.10" y1="226.55" x2="46.00" y2="226.55" stroke="#222" stroke-width="0.85"/>
<line x1="44.10" y1="224.93" x2="46.00" y2="224.93" stroke="#222" stroke-width="0.85"/>
<line x1="44.10" y1="223.60" x2="46.00" y2="223.60" stroke="#222" stroke-width="0.85"/>
<line x1="44.10" y1="222.49" x2="46.00" y2="222.49" stroke="#222" stroke-width="0.85"/>
<line x1="44.10" y1="221.52" x2="46.00" y2="221.52" stroke="#222" stroke-width="0.85"/>
<line x1="44.10" y1="220.66" x2="46.00" y2="220.66" stroke="#222" stroke-width="0.85"/>
<line x1="44.10" y1="214.87" x2="46.00" y2="214.87" stroke="#222" stroke-width="0.85"/>
<line x1="44.10" y1="211.93" x2="46.00" y2="211.93" stroke="#222" stroke-width="0.85"/>
<line x1="44.10" y1="209.85" x2="46.00" y2="209.85" stroke="#222" stroke-width="0.85"/>
<line x1="44.10" y1="208.23" x2="46.00" y2="208.23" stroke="#222" stroke-width="0.85"/>
<line x1="44.10" y1="206.90" x2="46.00" y2="206.90" stroke="#222" stroke-width="0.85"/>
<line x1="44.10" y1="205.79" x2="46.00" y2="205.79" stroke="#222" stroke-width="0.85"/>
<line x1="44.10" y1="204.82" x2="46.00" y2="204.82" stroke="#222" stroke-width="0.85"/>
<line x1="44.10" y1="203.96" x2="46.00" y2="203.96" stroke="#222" stroke-width="0.85"/>
<line x1="44.10" y1="198.17" x2="46.00" y2="198.17" stroke="#222" stroke-width="0.85"/>
<line x1="44.10" y1="195.23" x2="46.00" y2="195.23" stroke="#222" stroke-width="0.85"/>
<line x1="44.10" y1="193.15" x2="46.00" y2="193.15" stroke="#222" stroke-width="0.85"/>
<line x1="44.10" y1="191.53" x2="46.00" y2="191.53" stroke="#222" stroke-width="0.85"/>
<line x1="44.10" y1="190.20" x2="46.00" y2="190.20" stroke="#222" stroke-width="0.85"/>
<line x1="44.10" y1="189.09" x2="46.00" y2="189.09" stroke="#222" stroke-width="0.85"/>
<line x1="44.10" y1="188.12" x2="46.00" y2="188.12" stroke="#222" stroke-width="0.85"/>
<line x1="44.10" y1="187.26" x2="46.00" y2="187.26" stroke="#222" stroke-width="0.85"/>
<line x1="44.10" y1="181.47" x2="46.00" y2="181.47" stroke="#222" stroke-width="0.85"/>
<line x1="44.10" y1="178.53" x2="46.00" y2="178.53" stroke="#222" stroke-width="0.85"/>
<line x1="44.10" y1="176.45" x2="46.00" y2="176.45" stroke="#222" stroke-width="0.85"/>
<line x1="44.10" y1="174.83" x2="46.00" y2="174.83" stroke="#222" stroke-width="0.85"/>
<line x1="44.10" y1="173.50" x2="46.00" y2="173.50" stroke="#222" stroke-width="0.85"/>
<line x1="44.10" y1="172.39" x2="46.00" y2="172.39" stroke="#222" stroke-width="0.85"/>
<line x1="44.10" y1="171.42" x2="46.00" y2="171.42" stroke="#222" stroke-width="0.85"/>
<line x1="44.10" y1="170.56" x2="46.00" y2="170.56" stroke="#222" stroke-width="0.85"/>
<line x1="44.10" y1="164.77" x2="46.00" y2="164.77" stroke="#222" stroke-width="0.85"/>
<line x1="55.00" y1="244.40" x2="55.00" y2="247.40" stroke="#111" stroke-width="0.9"/>
<line x1="72.20" y1="244.40" x2="72.20" y2="247.40" stroke="#111" stroke-width="0.9"/>
<line x1="89.40" y1="244.40" x2="89.40" y2="247.40" stroke="#111" stroke-width="0.9"/>
<line x1="106.60" y1="244.40" x2="106.60" y2="247.40" stroke="#111" stroke-width="0.9"/>
<line x1="123.80" y1="244.40" x2="123.80" y2="247.40" stroke="#111" stroke-width="0.9"/>
<line x1="43.00" y1="236.60" x2="46.00" y2="236.60" stroke="#111" stroke-width="0.9"/>
<line x1="43.00" y1="219.90" x2="46.00" y2="219.90" stroke="#111" stroke-width="0.9"/>
<line x1="43.00" y1="203.20" x2="46.00" y2="203.20" stroke="#111" stroke-width="0.9"/>
<line x1="43.00" y1="186.50" x2="46.00" y2="186.50" stroke="#111" stroke-width="0.9"/>
<line x1="43.00" y1="169.80" x2="46.00" y2="169.80" stroke="#111" stroke-width="0.9"/>
<line x1="86.00" y1="163.00" x2="86.00" y2="244.40" stroke="#000" stroke-width="1.25"/>
<line x1="46.00" y1="207.30" x2="132.00" y2="207.30" stroke="#000" stroke-width="1.25"/>
<rect x="46.00" y="163.00" width="86.00" height="81.40" fill="none" stroke="#000" stroke-width="1.3"/>
<text x="55.90" y="171.50" font-size="8.4" text-anchor="middle" font-weight="normal" fill="#222" class="h">1.65</text>
<text x="130.20" y="171.50" font-size="8.4" text-anchor="end" font-weight="normal" fill="#222" class="h">2.27</text>
<text x="55.90" y="241.20" font-size="8.4" text-anchor="middle" font-weight="normal" fill="#222" class="h">84.9</text>
<text x="130.20" y="241.20" font-size="8.4" text-anchor="end" font-weight="normal" fill="#222" class="h">11.1</text>
<text class="h" x="55.30" y="258.30" font-size="8.6" text-anchor="middle" fill="#222">10<tspan dy="-2.7" font-size="6.45">1</tspan></text>
<text class="h" x="72.50" y="258.30" font-size="8.6" text-anchor="middle" fill="#222">10<tspan dy="-2.7" font-size="6.45">2</tspan></text>
<text class="h" x="89.70" y="258.30" font-size="8.6" text-anchor="middle" fill="#222">10<tspan dy="-2.7" font-size="6.45">3</tspan></text>
<text class="h" x="106.90" y="258.30" font-size="8.6" text-anchor="middle" fill="#222">10<tspan dy="-2.7" font-size="6.45">4</tspan></text>
<text class="h" x="124.10" y="258.30" font-size="8.6" text-anchor="middle" fill="#222">10<tspan dy="-2.7" font-size="6.45">5</tspan></text>
<text class="h" x="40.40" y="239.20" font-size="8.6" text-anchor="end" fill="#222">10<tspan dy="-2.7" font-size="6.45">1</tspan></text>
<text class="h" x="40.40" y="222.50" font-size="8.6" text-anchor="end" fill="#222">10<tspan dy="-2.7" font-size="6.45">2</tspan></text>
<text class="h" x="40.40" y="205.80" font-size="8.6" text-anchor="end" fill="#222">10<tspan dy="-2.7" font-size="6.45">3</tspan></text>
<text class="h" x="40.40" y="189.10" font-size="8.6" text-anchor="end" fill="#222">10<tspan dy="-2.7" font-size="6.45">4</tspan></text>
<text class="h" x="40.40" y="172.40" font-size="8.6" text-anchor="end" fill="#222">10<tspan dy="-2.7" font-size="6.45">5</tspan></text>
<path d="M215.5 193.6h1.1v1.1h-1.1zM219.4 187.6h1.1v1.1h-1.1zM215.7 188.5h1.1v1.1h-1.1zM216.6 184.9h1.1v1.1h-1.1zM211.6 183.3h1.1v1.1h-1.1zM212.4 189.8h1.1v1.1h-1.1zM215.6 188.3h1.1v1.1h-1.1zM209.7 185.8h1.1v1.1h-1.1zM216.1 189.4h1.1v1.1h-1.1zM216.3 188.6h1.1v1.1h-1.1zM217.7 189.3h1.1v1.1h-1.1zM213.9 187.8h1.1v1.1h-1.1zM212.6 193.1h1.1v1.1h-1.1zM212.7 187.3h1.1v1.1h-1.1zM215.4 191.1h1.1v1.1h-1.1zM213.0 191.3h1.1v1.1h-1.1zM215.7 190.7h1.1v1.1h-1.1zM213.4 184.6h1.1v1.1h-1.1zM216.3 188.0h1.1v1.1h-1.1zM215.7 189.9h1.1v1.1h-1.1zM211.6 192.0h1.1v1.1h-1.1zM221.0 189.7h1.1v1.1h-1.1zM217.2 188.8h1.1v1.1h-1.1zM208.5 183.6h1.1v1.1h-1.1zM217.4 191.3h1.1v1.1h-1.1zM213.0 186.9h1.1v1.1h-1.1zM215.9 187.2h1.1v1.1h-1.1zM212.6 188.3h1.1v1.1h-1.1zM219.3 191.5h1.1v1.1h-1.1zM217.2 186.6h1.1v1.1h-1.1zM213.0 188.9h1.1v1.1h-1.1zM209.1 185.7h1.1v1.1h-1.1zM212.8 192.7h1.1v1.1h-1.1zM212.0 188.4h1.1v1.1h-1.1zM218.3 191.1h1.1v1.1h-1.1zM213.1 187.8h1.1v1.1h-1.1zM219.6 189.0h1.1v1.1h-1.1zM219.0 185.7h1.1v1.1h-1.1zM221.7 188.1h1.1v1.1h-1.1zM210.9 187.4h1.1v1.1h-1.1zM218.4 219.5h1.1v1.1h-1.1zM217.3 221.7h1.1v1.1h-1.1zM215.8 212.5h1.1v1.1h-1.1zM215.9 214.9h1.1v1.1h-1.1zM217.7 217.3h1.1v1.1h-1.1zM217.7 219.4h1.1v1.1h-1.1zM216.5 220.0h1.1v1.1h-1.1zM215.6 217.8h1.1v1.1h-1.1zM218.0 222.1h1.1v1.1h-1.1zM217.1 220.8h1.1v1.1h-1.1zM217.7 215.2h1.1v1.1h-1.1zM219.4 218.4h1.1v1.1h-1.1zM219.6 213.7h1.1v1.1h-1.1zM221.0 219.3h1.1v1.1h-1.1zM219.4 212.4h1.1v1.1h-1.1zM216.4 223.0h1.1v1.1h-1.1zM214.3 218.6h1.1v1.1h-1.1zM218.8 217.7h1.1v1.1h-1.1zM214.0 211.4h1.1v1.1h-1.1zM214.8 216.2h1.1v1.1h-1.1zM214.2 214.6h1.1v1.1h-1.1zM218.8 213.6h1.1v1.1h-1.1zM216.2 215.7h1.1v1.1h-1.1zM217.1 220.3h1.1v1.1h-1.1zM217.1 216.6h1.1v1.1h-1.1zM222.8 220.4h1.1v1.1h-1.1zM219.1 220.6h1.1v1.1h-1.1zM214.7 211.1h1.1v1.1h-1.1zM216.0 224.8h1.1v1.1h-1.1zM216.0 217.3h1.1v1.1h-1.1zM219.8 220.7h1.1v1.1h-1.1zM217.4 222.9h1.1v1.1h-1.1zM215.9 220.0h1.1v1.1h-1.1zM216.3 223.5h1.1v1.1h-1.1zM219.3 210.6h1.1v1.1h-1.1zM212.6 217.1h1.1v1.1h-1.1zM213.3 217.1h1.1v1.1h-1.1zM213.7 220.9h1.1v1.1h-1.1zM217.4 214.8h1.1v1.1h-1.1zM212.3 215.4h1.1v1.1h-1.1zM213.0 219.1h1.1v1.1h-1.1zM218.1 218.6h1.1v1.1h-1.1zM212.8 216.5h1.1v1.1h-1.1zM218.7 220.2h1.1v1.1h-1.1zM220.0 217.2h1.1v1.1h-1.1zM213.5 219.1h1.1v1.1h-1.1zM220.6 216.6h1.1v1.1h-1.1zM214.4 216.8h1.1v1.1h-1.1z" fill="#17176c" fill-opacity="1.00"/>
<path d="M209.7 191.7h1.1v1.1h-1.1zM213.3 182.1h1.1v1.1h-1.1zM213.7 192.1h1.1v1.1h-1.1zM218.4 182.3h1.1v1.1h-1.1zM212.9 187.8h1.1v1.1h-1.1zM213.8 192.7h1.1v1.1h-1.1zM212.7 189.9h1.1v1.1h-1.1zM211.9 187.0h1.1v1.1h-1.1zM214.3 188.9h1.1v1.1h-1.1zM214.2 190.0h1.1v1.1h-1.1zM211.3 185.0h1.1v1.1h-1.1zM216.4 190.9h1.1v1.1h-1.1zM214.7 186.4h1.1v1.1h-1.1zM212.1 188.6h1.1v1.1h-1.1zM214.4 189.1h1.1v1.1h-1.1zM212.4 186.2h1.1v1.1h-1.1zM214.7 186.2h1.1v1.1h-1.1zM213.5 189.8h1.1v1.1h-1.1zM216.7 187.9h1.1v1.1h-1.1zM220.3 188.9h1.1v1.1h-1.1zM213.1 184.0h1.1v1.1h-1.1zM213.4 186.3h1.1v1.1h-1.1zM215.9 185.1h1.1v1.1h-1.1zM211.8 185.4h1.1v1.1h-1.1zM216.8 194.0h1.1v1.1h-1.1zM216.1 193.4h1.1v1.1h-1.1zM211.2 191.7h1.1v1.1h-1.1zM211.3 191.3h1.1v1.1h-1.1zM209.7 191.0h1.1v1.1h-1.1zM213.2 185.6h1.1v1.1h-1.1zM214.9 184.6h1.1v1.1h-1.1zM215.3 187.2h1.1v1.1h-1.1zM214.1 191.6h1.1v1.1h-1.1zM213.5 186.8h1.1v1.1h-1.1zM215.3 192.4h1.1v1.1h-1.1zM214.5 189.1h1.1v1.1h-1.1zM216.1 190.3h1.1v1.1h-1.1zM210.6 189.4h1.1v1.1h-1.1zM215.9 187.2h1.1v1.1h-1.1zM217.7 190.8h1.1v1.1h-1.1zM210.3 192.1h1.1v1.1h-1.1zM214.9 192.2h1.1v1.1h-1.1zM213.0 187.3h1.1v1.1h-1.1zM213.8 194.3h1.1v1.1h-1.1zM218.6 192.7h1.1v1.1h-1.1zM217.6 184.4h1.1v1.1h-1.1zM210.4 186.2h1.1v1.1h-1.1zM215.3 215.4h1.1v1.1h-1.1zM213.1 217.9h1.1v1.1h-1.1zM219.3 217.2h1.1v1.1h-1.1zM213.9 218.1h1.1v1.1h-1.1zM215.8 216.3h1.1v1.1h-1.1zM216.9 216.9h1.1v1.1h-1.1zM216.7 222.9h1.1v1.1h-1.1zM218.9 218.6h1.1v1.1h-1.1zM214.8 219.5h1.1v1.1h-1.1zM215.3 217.7h1.1v1.1h-1.1zM218.1 218.8h1.1v1.1h-1.1zM218.1 214.5h1.1v1.1h-1.1zM214.3 215.2h1.1v1.1h-1.1zM211.5 215.4h1.1v1.1h-1.1zM215.7 215.9h1.1v1.1h-1.1zM213.7 218.2h1.1v1.1h-1.1zM216.1 219.3h1.1v1.1h-1.1zM220.4 213.9h1.1v1.1h-1.1zM213.7 213.5h1.1v1.1h-1.1zM218.6 218.7h1.1v1.1h-1.1zM220.0 218.5h1.1v1.1h-1.1zM218.1 215.0h1.1v1.1h-1.1zM216.3 218.6h1.1v1.1h-1.1zM216.1 222.6h1.1v1.1h-1.1zM217.6 212.4h1.1v1.1h-1.1zM215.3 216.4h1.1v1.1h-1.1zM214.7 218.8h1.1v1.1h-1.1zM216.3 219.4h1.1v1.1h-1.1zM214.8 220.5h1.1v1.1h-1.1zM211.4 219.6h1.1v1.1h-1.1zM214.0 216.4h1.1v1.1h-1.1zM211.8 221.8h1.1v1.1h-1.1zM215.6 214.5h1.1v1.1h-1.1zM220.5 219.0h1.1v1.1h-1.1zM217.2 216.3h1.1v1.1h-1.1zM218.7 214.2h1.1v1.1h-1.1zM214.1 213.8h1.1v1.1h-1.1zM215.7 214.5h1.1v1.1h-1.1zM214.2 218.0h1.1v1.1h-1.1zM219.3 216.4h1.1v1.1h-1.1zM219.3 219.7h1.1v1.1h-1.1zM220.3 230.1h1.1v1.1h-1.1zM215.5 216.1h1.1v1.1h-1.1zM216.2 225.0h1.1v1.1h-1.1zM215.6 219.5h1.1v1.1h-1.1zM219.6 219.2h1.1v1.1h-1.1zM213.7 217.3h1.1v1.1h-1.1zM215.4 217.5h1.1v1.1h-1.1zM211.8 220.9h1.1v1.1h-1.1z" fill="#17176c" fill-opacity="0.60"/>
<path d="M213.2 187.4h1.1v1.1h-1.1zM214.3 188.4h1.1v1.1h-1.1zM215.2 186.3h1.1v1.1h-1.1zM211.9 189.9h1.1v1.1h-1.1zM215.8 190.0h1.1v1.1h-1.1zM215.7 194.1h1.1v1.1h-1.1zM214.1 187.5h1.1v1.1h-1.1zM208.9 189.8h1.1v1.1h-1.1zM214.4 191.5h1.1v1.1h-1.1zM216.0 189.7h1.1v1.1h-1.1zM216.8 193.9h1.1v1.1h-1.1zM213.2 182.0h1.1v1.1h-1.1zM213.0 182.3h1.1v1.1h-1.1zM216.0 186.5h1.1v1.1h-1.1zM211.4 191.0h1.1v1.1h-1.1zM213.3 194.6h1.1v1.1h-1.1zM215.2 192.5h1.1v1.1h-1.1zM217.4 190.6h1.1v1.1h-1.1zM211.7 185.3h1.1v1.1h-1.1zM214.5 186.2h1.1v1.1h-1.1zM208.1 188.0h1.1v1.1h-1.1zM213.5 187.5h1.1v1.1h-1.1zM211.4 186.9h1.1v1.1h-1.1zM210.9 188.1h1.1v1.1h-1.1zM216.2 190.1h1.1v1.1h-1.1zM211.5 191.8h1.1v1.1h-1.1zM213.6 195.9h1.1v1.1h-1.1zM211.0 188.7h1.1v1.1h-1.1zM213.8 190.6h1.1v1.1h-1.1zM213.2 198.2h1.1v1.1h-1.1zM210.1 190.3h1.1v1.1h-1.1zM213.4 184.3h1.1v1.1h-1.1zM206.9 187.7h1.1v1.1h-1.1zM216.9 192.1h1.1v1.1h-1.1zM211.1 192.0h1.1v1.1h-1.1zM216.5 188.8h1.1v1.1h-1.1zM212.3 190.3h1.1v1.1h-1.1zM217.0 192.1h1.1v1.1h-1.1zM216.2 193.0h1.1v1.1h-1.1zM211.6 193.1h1.1v1.1h-1.1zM217.1 193.8h1.1v1.1h-1.1zM218.8 187.9h1.1v1.1h-1.1zM216.9 195.0h1.1v1.1h-1.1zM206.9 189.3h1.1v1.1h-1.1zM221.7 191.0h1.1v1.1h-1.1zM208.8 193.1h1.1v1.1h-1.1zM210.8 188.6h1.1v1.1h-1.1zM212.4 189.0h1.1v1.1h-1.1zM216.5 186.0h1.1v1.1h-1.1zM215.7 184.5h1.1v1.1h-1.1zM213.0 192.3h1.1v1.1h-1.1zM214.4 187.3h1.1v1.1h-1.1zM215.1 190.0h1.1v1.1h-1.1zM215.9 186.4h1.1v1.1h-1.1zM214.3 186.7h1.1v1.1h-1.1zM212.9 189.9h1.1v1.1h-1.1zM214.8 186.0h1.1v1.1h-1.1zM213.1 187.1h1.1v1.1h-1.1zM211.0 190.1h1.1v1.1h-1.1zM214.8 180.5h1.1v1.1h-1.1zM216.1 186.6h1.1v1.1h-1.1zM219.1 190.1h1.1v1.1h-1.1zM213.3 182.6h1.1v1.1h-1.1zM217.4 187.2h1.1v1.1h-1.1zM208.9 189.2h1.1v1.1h-1.1zM214.0 185.0h1.1v1.1h-1.1zM220.4 189.4h1.1v1.1h-1.1zM214.2 192.3h1.1v1.1h-1.1zM212.5 188.3h1.1v1.1h-1.1zM212.0 191.5h1.1v1.1h-1.1zM214.3 190.1h1.1v1.1h-1.1zM213.2 188.4h1.1v1.1h-1.1zM213.4 187.2h1.1v1.1h-1.1zM213.7 185.9h1.1v1.1h-1.1zM216.7 190.6h1.1v1.1h-1.1zM209.5 189.8h1.1v1.1h-1.1zM210.9 187.3h1.1v1.1h-1.1zM217.1 188.0h1.1v1.1h-1.1zM212.3 187.2h1.1v1.1h-1.1zM211.4 183.3h1.1v1.1h-1.1zM211.9 191.4h1.1v1.1h-1.1zM213.6 186.3h1.1v1.1h-1.1zM220.4 188.9h1.1v1.1h-1.1zM215.4 219.3h1.1v1.1h-1.1zM219.2 216.5h1.1v1.1h-1.1zM215.9 219.0h1.1v1.1h-1.1zM219.6 216.7h1.1v1.1h-1.1zM217.0 217.4h1.1v1.1h-1.1zM216.0 221.1h1.1v1.1h-1.1zM218.7 218.0h1.1v1.1h-1.1zM212.3 214.9h1.1v1.1h-1.1zM215.4 218.6h1.1v1.1h-1.1zM213.0 213.6h1.1v1.1h-1.1zM221.2 213.8h1.1v1.1h-1.1zM221.0 217.3h1.1v1.1h-1.1zM214.3 217.4h1.1v1.1h-1.1zM220.3 220.2h1.1v1.1h-1.1zM218.8 216.4h1.1v1.1h-1.1zM217.0 214.2h1.1v1.1h-1.1zM218.7 218.6h1.1v1.1h-1.1zM215.2 218.4h1.1v1.1h-1.1zM219.1 216.0h1.1v1.1h-1.1zM216.9 212.9h1.1v1.1h-1.1zM217.1 222.4h1.1v1.1h-1.1zM218.5 219.0h1.1v1.1h-1.1zM216.8 214.8h1.1v1.1h-1.1zM215.5 221.4h1.1v1.1h-1.1zM216.3 216.7h1.1v1.1h-1.1zM214.7 216.3h1.1v1.1h-1.1zM224.0 220.0h1.1v1.1h-1.1zM212.7 217.7h1.1v1.1h-1.1zM219.3 217.1h1.1v1.1h-1.1zM216.8 216.0h1.1v1.1h-1.1zM220.3 210.8h1.1v1.1h-1.1zM217.4 213.5h1.1v1.1h-1.1zM216.8 223.3h1.1v1.1h-1.1zM217.4 219.0h1.1v1.1h-1.1zM214.7 220.8h1.1v1.1h-1.1zM217.7 216.0h1.1v1.1h-1.1zM219.4 222.9h1.1v1.1h-1.1zM212.3 221.6h1.1v1.1h-1.1zM219.1 218.3h1.1v1.1h-1.1zM217.3 219.3h1.1v1.1h-1.1zM215.4 215.7h1.1v1.1h-1.1zM218.1 215.5h1.1v1.1h-1.1zM213.5 219.5h1.1v1.1h-1.1zM217.9 214.9h1.1v1.1h-1.1zM215.3 216.8h1.1v1.1h-1.1zM215.9 218.5h1.1v1.1h-1.1zM220.7 217.2h1.1v1.1h-1.1zM219.2 219.1h1.1v1.1h-1.1zM219.8 217.8h1.1v1.1h-1.1zM215.9 213.0h1.1v1.1h-1.1zM219.6 215.9h1.1v1.1h-1.1zM218.1 214.6h1.1v1.1h-1.1zM213.6 222.4h1.1v1.1h-1.1zM218.2 213.4h1.1v1.1h-1.1zM221.4 221.8h1.1v1.1h-1.1zM216.1 222.0h1.1v1.1h-1.1zM220.7 215.3h1.1v1.1h-1.1zM216.7 216.8h1.1v1.1h-1.1zM219.1 214.6h1.1v1.1h-1.1zM213.2 215.5h1.1v1.1h-1.1zM213.3 215.7h1.1v1.1h-1.1zM213.9 220.2h1.1v1.1h-1.1zM211.5 220.0h1.1v1.1h-1.1zM215.1 213.6h1.1v1.1h-1.1zM214.0 216.1h1.1v1.1h-1.1zM213.8 215.5h1.1v1.1h-1.1zM216.0 216.2h1.1v1.1h-1.1zM217.7 221.2h1.1v1.1h-1.1zM213.2 214.9h1.1v1.1h-1.1zM212.5 220.8h1.1v1.1h-1.1zM216.7 219.4h1.1v1.1h-1.1zM216.4 223.5h1.1v1.1h-1.1zM217.2 218.5h1.1v1.1h-1.1z" fill="#17176c" fill-opacity="0.80"/>
<path d="M210.9 195.3h1.1v1.1h-1.1zM214.5 197.3h1.1v1.1h-1.1zM213.0 177.0h1.1v1.1h-1.1zM218.0 185.0h1.1v1.1h-1.1zM212.0 190.9h1.1v1.1h-1.1zM214.2 189.2h1.1v1.1h-1.1zM207.3 185.6h1.1v1.1h-1.1zM210.6 194.4h1.1v1.1h-1.1zM215.7 193.1h1.1v1.1h-1.1zM210.0 188.1h1.1v1.1h-1.1zM208.2 187.3h1.1v1.1h-1.1zM213.5 185.5h1.1v1.1h-1.1zM215.1 186.2h1.1v1.1h-1.1zM213.6 193.7h1.1v1.1h-1.1zM209.3 196.3h1.1v1.1h-1.1zM215.2 181.2h1.1v1.1h-1.1zM214.2 184.4h1.1v1.1h-1.1zM211.9 191.1h1.1v1.1h-1.1zM216.3 188.6h1.1v1.1h-1.1zM223.2 194.6h1.1v1.1h-1.1zM217.2 190.3h1.1v1.1h-1.1zM220.9 188.1h1.1v1.1h-1.1zM215.6 184.6h1.1v1.1h-1.1zM211.6 194.7h1.1v1.1h-1.1zM204.1 191.3h1.1v1.1h-1.1zM224.3 192.9h1.1v1.1h-1.1zM217.9 192.0h1.1v1.1h-1.1zM207.5 183.8h1.1v1.1h-1.1zM222.9 197.7h1.1v1.1h-1.1zM208.9 191.6h1.1v1.1h-1.1zM215.3 197.9h1.1v1.1h-1.1zM210.1 190.4h1.1v1.1h-1.1zM223.4 191.5h1.1v1.1h-1.1zM213.6 189.8h1.1v1.1h-1.1zM210.7 195.8h1.1v1.1h-1.1zM205.0 182.5h1.1v1.1h-1.1zM208.0 200.7h1.1v1.1h-1.1zM220.3 185.1h1.1v1.1h-1.1zM223.1 193.3h1.1v1.1h-1.1zM211.4 190.0h1.1v1.1h-1.1zM206.3 192.3h1.1v1.1h-1.1zM216.4 184.2h1.1v1.1h-1.1zM219.4 188.8h1.1v1.1h-1.1zM216.9 187.9h1.1v1.1h-1.1zM219.2 190.6h1.1v1.1h-1.1zM204.2 181.1h1.1v1.1h-1.1zM209.9 195.2h1.1v1.1h-1.1zM214.1 190.4h1.1v1.1h-1.1zM212.7 191.8h1.1v1.1h-1.1zM212.3 189.0h1.1v1.1h-1.1zM204.4 180.3h1.1v1.1h-1.1zM217.8 179.8h1.1v1.1h-1.1zM206.1 183.5h1.1v1.1h-1.1zM209.6 191.2h1.1v1.1h-1.1zM213.7 217.0h1.1v1.1h-1.1zM217.3 222.6h1.1v1.1h-1.1zM222.3 218.0h1.1v1.1h-1.1zM207.4 216.8h1.1v1.1h-1.1zM223.9 213.6h1.1v1.1h-1.1zM212.9 215.3h1.1v1.1h-1.1zM217.8 226.7h1.1v1.1h-1.1zM205.6 216.2h1.1v1.1h-1.1zM224.3 214.6h1.1v1.1h-1.1zM215.7 212.1h1.1v1.1h-1.1zM215.4 221.4h1.1v1.1h-1.1zM215.0 228.2h1.1v1.1h-1.1zM220.3 220.5h1.1v1.1h-1.1zM213.8 221.1h1.1v1.1h-1.1zM217.9 214.7h1.1v1.1h-1.1zM217.4 222.5h1.1v1.1h-1.1zM218.4 217.6h1.1v1.1h-1.1zM210.5 218.0h1.1v1.1h-1.1zM215.2 224.8h1.1v1.1h-1.1zM219.5 213.2h1.1v1.1h-1.1zM216.4 216.1h1.1v1.1h-1.1zM214.7 223.1h1.1v1.1h-1.1zM223.1 220.7h1.1v1.1h-1.1zM231.3 216.8h1.1v1.1h-1.1zM216.1 220.0h1.1v1.1h-1.1zM220.9 216.5h1.1v1.1h-1.1zM213.0 214.2h1.1v1.1h-1.1zM218.1 222.4h1.1v1.1h-1.1zM216.6 218.1h1.1v1.1h-1.1zM218.9 208.1h1.1v1.1h-1.1zM215.4 217.4h1.1v1.1h-1.1zM219.5 216.7h1.1v1.1h-1.1zM218.5 216.3h1.1v1.1h-1.1zM223.5 216.8h1.1v1.1h-1.1zM213.9 222.9h1.1v1.1h-1.1zM212.2 222.7h1.1v1.1h-1.1zM214.0 219.8h1.1v1.1h-1.1zM213.1 225.7h1.1v1.1h-1.1zM207.4 206.5h1.1v1.1h-1.1zM225.8 217.0h1.1v1.1h-1.1zM221.3 216.2h1.1v1.1h-1.1zM224.8 216.7h1.1v1.1h-1.1zM217.2 214.3h1.1v1.1h-1.1zM220.2 220.7h1.1v1.1h-1.1zM221.5 216.9h1.1v1.1h-1.1zM212.7 218.4h1.1v1.1h-1.1zM213.5 216.0h1.1v1.1h-1.1zM212.7 221.5h1.1v1.1h-1.1zM219.4 225.3h1.1v1.1h-1.1zM215.9 223.3h1.1v1.1h-1.1zM218.6 210.1h1.1v1.1h-1.1zM211.9 226.2h1.1v1.1h-1.1zM215.4 218.4h1.1v1.1h-1.1zM217.0 225.5h1.1v1.1h-1.1zM225.4 221.3h1.1v1.1h-1.1zM224.4 212.1h1.1v1.1h-1.1zM218.8 209.3h1.1v1.1h-1.1zM219.0 220.8h1.1v1.1h-1.1z" fill="#4848a0" fill-opacity="0.60"/>
<path d="M214.4 201.2h1.1v1.1h-1.1zM214.3 193.2h1.1v1.1h-1.1zM214.4 194.7h1.1v1.1h-1.1zM216.1 187.9h1.1v1.1h-1.1zM208.5 194.6h1.1v1.1h-1.1zM222.4 195.3h1.1v1.1h-1.1zM216.9 195.1h1.1v1.1h-1.1zM214.5 195.2h1.1v1.1h-1.1zM209.1 188.9h1.1v1.1h-1.1zM211.3 189.8h1.1v1.1h-1.1zM213.2 192.5h1.1v1.1h-1.1zM214.3 182.3h1.1v1.1h-1.1zM210.0 187.4h1.1v1.1h-1.1zM212.7 192.2h1.1v1.1h-1.1zM218.7 196.5h1.1v1.1h-1.1zM214.3 189.0h1.1v1.1h-1.1zM215.3 191.3h1.1v1.1h-1.1zM211.5 184.4h1.1v1.1h-1.1zM225.6 185.8h1.1v1.1h-1.1zM215.6 183.7h1.1v1.1h-1.1zM213.5 187.6h1.1v1.1h-1.1zM218.8 191.5h1.1v1.1h-1.1zM204.1 196.0h1.1v1.1h-1.1zM207.2 186.5h1.1v1.1h-1.1zM219.4 181.8h1.1v1.1h-1.1zM214.2 183.6h1.1v1.1h-1.1zM216.2 193.6h1.1v1.1h-1.1zM211.0 193.4h1.1v1.1h-1.1zM212.3 193.0h1.1v1.1h-1.1zM217.1 185.2h1.1v1.1h-1.1zM216.2 194.8h1.1v1.1h-1.1zM207.0 198.9h1.1v1.1h-1.1zM221.1 192.0h1.1v1.1h-1.1zM206.8 194.3h1.1v1.1h-1.1zM222.5 180.1h1.1v1.1h-1.1zM216.5 187.7h1.1v1.1h-1.1zM219.3 187.7h1.1v1.1h-1.1zM207.1 191.3h1.1v1.1h-1.1zM211.5 195.6h1.1v1.1h-1.1zM214.3 189.3h1.1v1.1h-1.1zM217.9 187.3h1.1v1.1h-1.1zM213.4 197.3h1.1v1.1h-1.1zM210.1 189.8h1.1v1.1h-1.1zM215.5 195.5h1.1v1.1h-1.1zM212.5 182.2h1.1v1.1h-1.1zM226.3 184.3h1.1v1.1h-1.1zM221.8 184.9h1.1v1.1h-1.1zM203.3 187.7h1.1v1.1h-1.1zM211.8 195.6h1.1v1.1h-1.1zM209.1 173.6h1.1v1.1h-1.1zM216.5 185.7h1.1v1.1h-1.1zM208.7 194.3h1.1v1.1h-1.1zM208.5 184.8h1.1v1.1h-1.1zM212.6 194.2h1.1v1.1h-1.1zM207.8 187.1h1.1v1.1h-1.1zM211.3 189.9h1.1v1.1h-1.1zM223.4 216.0h1.1v1.1h-1.1zM219.0 223.7h1.1v1.1h-1.1zM220.3 221.2h1.1v1.1h-1.1zM211.1 216.7h1.1v1.1h-1.1zM222.8 221.5h1.1v1.1h-1.1zM218.9 219.6h1.1v1.1h-1.1zM218.9 218.1h1.1v1.1h-1.1zM205.1 213.7h1.1v1.1h-1.1zM216.4 212.6h1.1v1.1h-1.1zM215.5 216.6h1.1v1.1h-1.1zM225.8 221.4h1.1v1.1h-1.1zM223.0 229.3h1.1v1.1h-1.1zM214.4 223.4h1.1v1.1h-1.1zM216.5 222.2h1.1v1.1h-1.1zM222.8 221.5h1.1v1.1h-1.1zM221.3 221.6h1.1v1.1h-1.1zM214.3 219.4h1.1v1.1h-1.1zM219.3 218.5h1.1v1.1h-1.1zM217.4 213.4h1.1v1.1h-1.1zM216.6 218.1h1.1v1.1h-1.1zM217.6 214.1h1.1v1.1h-1.1zM217.6 207.3h1.1v1.1h-1.1zM214.1 220.5h1.1v1.1h-1.1zM216.8 214.8h1.1v1.1h-1.1zM212.0 224.4h1.1v1.1h-1.1zM211.7 220.4h1.1v1.1h-1.1zM223.1 222.6h1.1v1.1h-1.1zM209.5 218.6h1.1v1.1h-1.1zM219.3 216.7h1.1v1.1h-1.1zM216.1 218.3h1.1v1.1h-1.1zM219.3 216.6h1.1v1.1h-1.1zM219.2 210.2h1.1v1.1h-1.1zM213.5 217.0h1.1v1.1h-1.1zM216.1 213.8h1.1v1.1h-1.1zM221.3 223.4h1.1v1.1h-1.1zM213.2 222.0h1.1v1.1h-1.1zM214.8 229.0h1.1v1.1h-1.1zM216.2 219.0h1.1v1.1h-1.1zM222.8 220.8h1.1v1.1h-1.1zM212.8 218.5h1.1v1.1h-1.1zM220.5 213.0h1.1v1.1h-1.1zM222.3 215.5h1.1v1.1h-1.1z" fill="#4848a0" fill-opacity="0.40"/>
<path d="M183.5 171.5h1.0v1.0h-1.0zM202.4 184.6h1.0v1.0h-1.0zM248.4 226.9h1.0v1.0h-1.0zM189.5 221.0h1.0v1.0h-1.0zM212.8 183.2h1.0v1.0h-1.0zM220.4 177.4h1.0v1.0h-1.0zM245.2 168.9h1.0v1.0h-1.0zM229.4 217.5h1.0v1.0h-1.0zM174.5 212.5h1.0v1.0h-1.0zM235.0 175.2h1.0v1.0h-1.0zM251.4 177.9h1.0v1.0h-1.0z" fill="#888" fill-opacity="0.20"/>
<path d="M203.9 186.0h1.0v1.0h-1.0zM207.7 215.6h1.0v1.0h-1.0zM220.2 228.7h1.0v1.0h-1.0z" fill="#888" fill-opacity="0.40"/>
<path d="M194.1 194.7h1.1v1.1h-1.1zM191.8 201.0h1.1v1.1h-1.1z" fill="#6a6a9a" fill-opacity="0.20"/>
<path d="M193.5 193.7h1.1v1.1h-1.1zM191.8 200.7h1.1v1.1h-1.1zM191.8 191.0h1.1v1.1h-1.1zM187.1 190.8h1.1v1.1h-1.1z" fill="#6a6a9a" fill-opacity="0.40"/>
<line x1="170.32" y1="244.40" x2="170.32" y2="246.30" stroke="#222" stroke-width="0.85"/>
<line x1="171.99" y1="244.40" x2="171.99" y2="246.30" stroke="#222" stroke-width="0.85"/>
<line x1="173.36" y1="244.40" x2="173.36" y2="246.30" stroke="#222" stroke-width="0.85"/>
<line x1="174.52" y1="244.40" x2="174.52" y2="246.30" stroke="#222" stroke-width="0.85"/>
<line x1="175.52" y1="244.40" x2="175.52" y2="246.30" stroke="#222" stroke-width="0.85"/>
<line x1="176.41" y1="244.40" x2="176.41" y2="246.30" stroke="#222" stroke-width="0.85"/>
<line x1="182.41" y1="244.40" x2="182.41" y2="246.30" stroke="#222" stroke-width="0.85"/>
<line x1="185.45" y1="244.40" x2="185.45" y2="246.30" stroke="#222" stroke-width="0.85"/>
<line x1="187.62" y1="244.40" x2="187.62" y2="246.30" stroke="#222" stroke-width="0.85"/>
<line x1="189.29" y1="244.40" x2="189.29" y2="246.30" stroke="#222" stroke-width="0.85"/>
<line x1="190.66" y1="244.40" x2="190.66" y2="246.30" stroke="#222" stroke-width="0.85"/>
<line x1="191.82" y1="244.40" x2="191.82" y2="246.30" stroke="#222" stroke-width="0.85"/>
<line x1="192.82" y1="244.40" x2="192.82" y2="246.30" stroke="#222" stroke-width="0.85"/>
<line x1="193.71" y1="244.40" x2="193.71" y2="246.30" stroke="#222" stroke-width="0.85"/>
<line x1="199.71" y1="244.40" x2="199.71" y2="246.30" stroke="#222" stroke-width="0.85"/>
<line x1="202.75" y1="244.40" x2="202.75" y2="246.30" stroke="#222" stroke-width="0.85"/>
<line x1="204.92" y1="244.40" x2="204.92" y2="246.30" stroke="#222" stroke-width="0.85"/>
<line x1="206.59" y1="244.40" x2="206.59" y2="246.30" stroke="#222" stroke-width="0.85"/>
<line x1="207.96" y1="244.40" x2="207.96" y2="246.30" stroke="#222" stroke-width="0.85"/>
<line x1="209.12" y1="244.40" x2="209.12" y2="246.30" stroke="#222" stroke-width="0.85"/>
<line x1="210.12" y1="244.40" x2="210.12" y2="246.30" stroke="#222" stroke-width="0.85"/>
<line x1="211.01" y1="244.40" x2="211.01" y2="246.30" stroke="#222" stroke-width="0.85"/>
<line x1="217.01" y1="244.40" x2="217.01" y2="246.30" stroke="#222" stroke-width="0.85"/>
<line x1="220.05" y1="244.40" x2="220.05" y2="246.30" stroke="#222" stroke-width="0.85"/>
<line x1="222.22" y1="244.40" x2="222.22" y2="246.30" stroke="#222" stroke-width="0.85"/>
<line x1="223.89" y1="244.40" x2="223.89" y2="246.30" stroke="#222" stroke-width="0.85"/>
<line x1="225.26" y1="244.40" x2="225.26" y2="246.30" stroke="#222" stroke-width="0.85"/>
<line x1="226.42" y1="244.40" x2="226.42" y2="246.30" stroke="#222" stroke-width="0.85"/>
<line x1="227.42" y1="244.40" x2="227.42" y2="246.30" stroke="#222" stroke-width="0.85"/>
<line x1="228.31" y1="244.40" x2="228.31" y2="246.30" stroke="#222" stroke-width="0.85"/>
<line x1="234.31" y1="244.40" x2="234.31" y2="246.30" stroke="#222" stroke-width="0.85"/>
<line x1="237.35" y1="244.40" x2="237.35" y2="246.30" stroke="#222" stroke-width="0.85"/>
<line x1="239.52" y1="244.40" x2="239.52" y2="246.30" stroke="#222" stroke-width="0.85"/>
<line x1="241.19" y1="244.40" x2="241.19" y2="246.30" stroke="#222" stroke-width="0.85"/>
<line x1="242.56" y1="244.40" x2="242.56" y2="246.30" stroke="#222" stroke-width="0.85"/>
<line x1="243.72" y1="244.40" x2="243.72" y2="246.30" stroke="#222" stroke-width="0.85"/>
<line x1="244.72" y1="244.40" x2="244.72" y2="246.30" stroke="#222" stroke-width="0.85"/>
<line x1="245.61" y1="244.40" x2="245.61" y2="246.30" stroke="#222" stroke-width="0.85"/>
<line x1="251.61" y1="244.40" x2="251.61" y2="246.30" stroke="#222" stroke-width="0.85"/>
<line x1="254.65" y1="244.40" x2="254.65" y2="246.30" stroke="#222" stroke-width="0.85"/>
<line x1="166.10" y1="243.25" x2="168.00" y2="243.25" stroke="#222" stroke-width="0.85"/>
<line x1="166.10" y1="241.63" x2="168.00" y2="241.63" stroke="#222" stroke-width="0.85"/>
<line x1="166.10" y1="240.30" x2="168.00" y2="240.30" stroke="#222" stroke-width="0.85"/>
<line x1="166.10" y1="239.19" x2="168.00" y2="239.19" stroke="#222" stroke-width="0.85"/>
<line x1="166.10" y1="238.22" x2="168.00" y2="238.22" stroke="#222" stroke-width="0.85"/>
<line x1="166.10" y1="237.36" x2="168.00" y2="237.36" stroke="#222" stroke-width="0.85"/>
<line x1="166.10" y1="231.57" x2="168.00" y2="231.57" stroke="#222" stroke-width="0.85"/>
<line x1="166.10" y1="228.63" x2="168.00" y2="228.63" stroke="#222" stroke-width="0.85"/>
<line x1="166.10" y1="226.55" x2="168.00" y2="226.55" stroke="#222" stroke-width="0.85"/>
<line x1="166.10" y1="224.93" x2="168.00" y2="224.93" stroke="#222" stroke-width="0.85"/>
<line x1="166.10" y1="223.60" x2="168.00" y2="223.60" stroke="#222" stroke-width="0.85"/>
<line x1="166.10" y1="222.49" x2="168.00" y2="222.49" stroke="#222" stroke-width="0.85"/>
<line x1="166.10" y1="221.52" x2="168.00" y2="221.52" stroke="#222" stroke-width="0.85"/>
<line x1="166.10" y1="220.66" x2="168.00" y2="220.66" stroke="#222" stroke-width="0.85"/>
<line x1="166.10" y1="214.87" x2="168.00" y2="214.87" stroke="#222" stroke-width="0.85"/>
<line x1="166.10" y1="211.93" x2="168.00" y2="211.93" stroke="#222" stroke-width="0.85"/>
<line x1="166.10" y1="209.85" x2="168.00" y2="209.85" stroke="#222" stroke-width="0.85"/>
<line x1="166.10" y1="208.23" x2="168.00" y2="208.23" stroke="#222" stroke-width="0.85"/>
<line x1="166.10" y1="206.90" x2="168.00" y2="206.90" stroke="#222" stroke-width="0.85"/>
<line x1="166.10" y1="205.79" x2="168.00" y2="205.79" stroke="#222" stroke-width="0.85"/>
<line x1="166.10" y1="204.82" x2="168.00" y2="204.82" stroke="#222" stroke-width="0.85"/>
<line x1="166.10" y1="203.96" x2="168.00" y2="203.96" stroke="#222" stroke-width="0.85"/>
<line x1="166.10" y1="198.17" x2="168.00" y2="198.17" stroke="#222" stroke-width="0.85"/>
<line x1="166.10" y1="195.23" x2="168.00" y2="195.23" stroke="#222" stroke-width="0.85"/>
<line x1="166.10" y1="193.15" x2="168.00" y2="193.15" stroke="#222" stroke-width="0.85"/>
<line x1="166.10" y1="191.53" x2="168.00" y2="191.53" stroke="#222" stroke-width="0.85"/>
<line x1="166.10" y1="190.20" x2="168.00" y2="190.20" stroke="#222" stroke-width="0.85"/>
<line x1="166.10" y1="189.09" x2="168.00" y2="189.09" stroke="#222" stroke-width="0.85"/>
<line x1="166.10" y1="188.12" x2="168.00" y2="188.12" stroke="#222" stroke-width="0.85"/>
<line x1="166.10" y1="187.26" x2="168.00" y2="187.26" stroke="#222" stroke-width="0.85"/>
<line x1="166.10" y1="181.47" x2="168.00" y2="181.47" stroke="#222" stroke-width="0.85"/>
<line x1="166.10" y1="178.53" x2="168.00" y2="178.53" stroke="#222" stroke-width="0.85"/>
<line x1="166.10" y1="176.45" x2="168.00" y2="176.45" stroke="#222" stroke-width="0.85"/>
<line x1="166.10" y1="174.83" x2="168.00" y2="174.83" stroke="#222" stroke-width="0.85"/>
<line x1="166.10" y1="173.50" x2="168.00" y2="173.50" stroke="#222" stroke-width="0.85"/>
<line x1="166.10" y1="172.39" x2="168.00" y2="172.39" stroke="#222" stroke-width="0.85"/>
<line x1="166.10" y1="171.42" x2="168.00" y2="171.42" stroke="#222" stroke-width="0.85"/>
<line x1="166.10" y1="170.56" x2="168.00" y2="170.56" stroke="#222" stroke-width="0.85"/>
<line x1="166.10" y1="164.77" x2="168.00" y2="164.77" stroke="#222" stroke-width="0.85"/>
<line x1="166.10" y1="161.83" x2="168.00" y2="161.83" stroke="#222" stroke-width="0.85"/>
<line x1="177.20" y1="244.40" x2="177.20" y2="247.40" stroke="#111" stroke-width="0.9"/>
<line x1="194.50" y1="244.40" x2="194.50" y2="247.40" stroke="#111" stroke-width="0.9"/>
<line x1="211.80" y1="244.40" x2="211.80" y2="247.40" stroke="#111" stroke-width="0.9"/>
<line x1="229.10" y1="244.40" x2="229.10" y2="247.40" stroke="#111" stroke-width="0.9"/>
<line x1="246.40" y1="244.40" x2="246.40" y2="247.40" stroke="#111" stroke-width="0.9"/>
<line x1="165.00" y1="236.60" x2="168.00" y2="236.60" stroke="#111" stroke-width="0.9"/>
<line x1="165.00" y1="219.90" x2="168.00" y2="219.90" stroke="#111" stroke-width="0.9"/>
<line x1="165.00" y1="203.20" x2="168.00" y2="203.20" stroke="#111" stroke-width="0.9"/>
<line x1="165.00" y1="186.50" x2="168.00" y2="186.50" stroke="#111" stroke-width="0.9"/>
<line x1="165.00" y1="169.80" x2="168.00" y2="169.80" stroke="#111" stroke-width="0.9"/>
<line x1="201.80" y1="161.00" x2="201.80" y2="244.40" stroke="#000" stroke-width="1.25"/>
<line x1="168.00" y1="206.50" x2="255.50" y2="206.50" stroke="#000" stroke-width="1.25"/>
<rect x="168.00" y="161.00" width="87.50" height="83.40" fill="none" stroke="#000" stroke-width="1.3"/>
<text x="177.90" y="169.50" font-size="8.4" text-anchor="middle" font-weight="normal" fill="#222" class="h">0.90</text>
<text x="253.70" y="169.50" font-size="8.4" text-anchor="end" font-weight="normal" fill="#222" class="h">57.7</text>
<text x="177.90" y="241.20" font-size="8.4" text-anchor="middle" font-weight="normal" fill="#222" class="h">1.57</text>
<text x="253.70" y="241.20" font-size="8.4" text-anchor="end" font-weight="normal" fill="#222" class="h">39.9</text>
<text class="h" x="177.50" y="258.30" font-size="8.6" text-anchor="middle" fill="#222">10<tspan dy="-2.7" font-size="6.45">1</tspan></text>
<text class="h" x="194.80" y="258.30" font-size="8.6" text-anchor="middle" fill="#222">10<tspan dy="-2.7" font-size="6.45">2</tspan></text>
<text class="h" x="212.10" y="258.30" font-size="8.6" text-anchor="middle" fill="#222">10<tspan dy="-2.7" font-size="6.45">3</tspan></text>
<text class="h" x="229.40" y="258.30" font-size="8.6" text-anchor="middle" fill="#222">10<tspan dy="-2.7" font-size="6.45">4</tspan></text>
<text class="h" x="246.70" y="258.30" font-size="8.6" text-anchor="middle" fill="#222">10<tspan dy="-2.7" font-size="6.45">5</tspan></text>
<text class="h" x="162.40" y="239.20" font-size="8.6" text-anchor="end" fill="#222">10<tspan dy="-2.7" font-size="6.45">1</tspan></text>
<text class="h" x="162.40" y="222.50" font-size="8.6" text-anchor="end" fill="#222">10<tspan dy="-2.7" font-size="6.45">2</tspan></text>
<text class="h" x="162.40" y="205.80" font-size="8.6" text-anchor="end" fill="#222">10<tspan dy="-2.7" font-size="6.45">3</tspan></text>
<text class="h" x="162.40" y="189.10" font-size="8.6" text-anchor="end" fill="#222">10<tspan dy="-2.7" font-size="6.45">4</tspan></text>
<text class="h" x="162.40" y="172.40" font-size="8.6" text-anchor="end" fill="#222">10<tspan dy="-2.7" font-size="6.45">5</tspan></text>
<path d="M342.7 56.4h1.1v1.1h-1.1zM345.8 52.5h1.1v1.1h-1.1zM346.9 50.8h1.1v1.1h-1.1zM342.3 51.2h1.1v1.1h-1.1zM345.0 54.4h1.1v1.1h-1.1zM347.3 57.2h1.1v1.1h-1.1zM344.4 60.1h1.1v1.1h-1.1zM347.8 58.3h1.1v1.1h-1.1zM346.2 57.7h1.1v1.1h-1.1zM345.8 57.0h1.1v1.1h-1.1zM347.0 55.3h1.1v1.1h-1.1z" fill="#7a7ab4" fill-opacity="0.80"/>
<path d="M346.5 60.1h1.1v1.1h-1.1zM346.9 52.5h1.1v1.1h-1.1zM341.7 51.1h1.1v1.1h-1.1zM346.5 51.6h1.1v1.1h-1.1zM343.9 54.7h1.1v1.1h-1.1zM342.7 56.0h1.1v1.1h-1.1zM343.0 54.4h1.1v1.1h-1.1zM343.5 49.8h1.1v1.1h-1.1zM349.2 58.2h1.1v1.1h-1.1zM347.5 52.6h1.1v1.1h-1.1zM343.5 51.9h1.1v1.1h-1.1zM349.9 58.8h1.1v1.1h-1.1zM343.7 54.8h1.1v1.1h-1.1zM343.9 52.1h1.1v1.1h-1.1zM339.2 55.3h1.1v1.1h-1.1z" fill="#7a7ab4" fill-opacity="0.60"/>
<path d="M342.8 61.1h1.1v1.1h-1.1zM348.3 63.6h1.1v1.1h-1.1zM341.3 60.5h1.1v1.1h-1.1zM344.5 61.2h1.1v1.1h-1.1zM346.1 62.9h1.1v1.1h-1.1zM343.8 69.9h1.1v1.1h-1.1zM348.5 67.7h1.1v1.1h-1.1zM346.1 60.8h1.1v1.1h-1.1zM343.5 64.3h1.1v1.1h-1.1zM334.1 63.0h1.1v1.1h-1.1zM343.9 57.1h1.1v1.1h-1.1zM347.5 52.9h1.1v1.1h-1.1zM343.2 52.0h1.1v1.1h-1.1zM343.6 58.9h1.1v1.1h-1.1zM353.1 59.5h1.1v1.1h-1.1z" fill="#888" fill-opacity="0.40"/>
<path d="M342.6 56.9h1.1v1.1h-1.1z" fill="#888" fill-opacity="0.20"/>
<path d="M379.0 111.8h1.0v1.0h-1.0zM338.0 85.0h1.0v1.0h-1.0zM336.4 67.8h1.0v1.0h-1.0z" fill="#888" fill-opacity="0.20"/>
<line x1="323.00" y1="118.50" x2="323.00" y2="120.40" stroke="#222" stroke-width="0.85"/>
<line x1="326.10" y1="118.50" x2="326.10" y2="120.40" stroke="#222" stroke-width="0.85"/>
<line x1="328.30" y1="118.50" x2="328.30" y2="120.40" stroke="#222" stroke-width="0.85"/>
<line x1="330.00" y1="118.50" x2="330.00" y2="120.40" stroke="#222" stroke-width="0.85"/>
<line x1="331.40" y1="118.50" x2="331.40" y2="120.40" stroke="#222" stroke-width="0.85"/>
<line x1="332.57" y1="118.50" x2="332.57" y2="120.40" stroke="#222" stroke-width="0.85"/>
<line x1="333.59" y1="118.50" x2="333.59" y2="120.40" stroke="#222" stroke-width="0.85"/>
<line x1="334.49" y1="118.50" x2="334.49" y2="120.40" stroke="#222" stroke-width="0.85"/>
<line x1="340.60" y1="118.50" x2="340.60" y2="120.40" stroke="#222" stroke-width="0.85"/>
<line x1="343.70" y1="118.50" x2="343.70" y2="120.40" stroke="#222" stroke-width="0.85"/>
<line x1="345.90" y1="118.50" x2="345.90" y2="120.40" stroke="#222" stroke-width="0.85"/>
<line x1="347.60" y1="118.50" x2="347.60" y2="120.40" stroke="#222" stroke-width="0.85"/>
<line x1="349.00" y1="118.50" x2="349.00" y2="120.40" stroke="#222" stroke-width="0.85"/>
<line x1="350.17" y1="118.50" x2="350.17" y2="120.40" stroke="#222" stroke-width="0.85"/>
<line x1="351.19" y1="118.50" x2="351.19" y2="120.40" stroke="#222" stroke-width="0.85"/>
<line x1="352.09" y1="118.50" x2="352.09" y2="120.40" stroke="#222" stroke-width="0.85"/>
<line x1="358.20" y1="118.50" x2="358.20" y2="120.40" stroke="#222" stroke-width="0.85"/>
<line x1="361.30" y1="118.50" x2="361.30" y2="120.40" stroke="#222" stroke-width="0.85"/>
<line x1="363.50" y1="118.50" x2="363.50" y2="120.40" stroke="#222" stroke-width="0.85"/>
<line x1="365.20" y1="118.50" x2="365.20" y2="120.40" stroke="#222" stroke-width="0.85"/>
<line x1="366.60" y1="118.50" x2="366.60" y2="120.40" stroke="#222" stroke-width="0.85"/>
<line x1="367.77" y1="118.50" x2="367.77" y2="120.40" stroke="#222" stroke-width="0.85"/>
<line x1="368.79" y1="118.50" x2="368.79" y2="120.40" stroke="#222" stroke-width="0.85"/>
<line x1="369.69" y1="118.50" x2="369.69" y2="120.40" stroke="#222" stroke-width="0.85"/>
<line x1="375.80" y1="118.50" x2="375.80" y2="120.40" stroke="#222" stroke-width="0.85"/>
<line x1="378.90" y1="118.50" x2="378.90" y2="120.40" stroke="#222" stroke-width="0.85"/>
<line x1="381.10" y1="118.50" x2="381.10" y2="120.40" stroke="#222" stroke-width="0.85"/>
<line x1="382.80" y1="118.50" x2="382.80" y2="120.40" stroke="#222" stroke-width="0.85"/>
<line x1="384.20" y1="118.50" x2="384.20" y2="120.40" stroke="#222" stroke-width="0.85"/>
<line x1="385.37" y1="118.50" x2="385.37" y2="120.40" stroke="#222" stroke-width="0.85"/>
<line x1="386.39" y1="118.50" x2="386.39" y2="120.40" stroke="#222" stroke-width="0.85"/>
<line x1="387.29" y1="118.50" x2="387.29" y2="120.40" stroke="#222" stroke-width="0.85"/>
<line x1="393.40" y1="118.50" x2="393.40" y2="120.40" stroke="#222" stroke-width="0.85"/>
<line x1="314.60" y1="112.23" x2="316.50" y2="112.23" stroke="#222" stroke-width="0.85"/>
<line x1="314.60" y1="109.15" x2="316.50" y2="109.15" stroke="#222" stroke-width="0.85"/>
<line x1="314.60" y1="106.96" x2="316.50" y2="106.96" stroke="#222" stroke-width="0.85"/>
<line x1="314.60" y1="105.27" x2="316.50" y2="105.27" stroke="#222" stroke-width="0.85"/>
<line x1="314.60" y1="103.88" x2="316.50" y2="103.88" stroke="#222" stroke-width="0.85"/>
<line x1="314.60" y1="102.71" x2="316.50" y2="102.71" stroke="#222" stroke-width="0.85"/>
<line x1="314.60" y1="101.70" x2="316.50" y2="101.70" stroke="#222" stroke-width="0.85"/>
<line x1="314.60" y1="100.80" x2="316.50" y2="100.80" stroke="#222" stroke-width="0.85"/>
<line x1="314.60" y1="94.73" x2="316.50" y2="94.73" stroke="#222" stroke-width="0.85"/>
<line x1="314.60" y1="91.65" x2="316.50" y2="91.65" stroke="#222" stroke-width="0.85"/>
<line x1="314.60" y1="89.46" x2="316.50" y2="89.46" stroke="#222" stroke-width="0.85"/>
<line x1="314.60" y1="87.77" x2="316.50" y2="87.77" stroke="#222" stroke-width="0.85"/>
<line x1="314.60" y1="86.38" x2="316.50" y2="86.38" stroke="#222" stroke-width="0.85"/>
<line x1="314.60" y1="85.21" x2="316.50" y2="85.21" stroke="#222" stroke-width="0.85"/>
<line x1="314.60" y1="84.20" x2="316.50" y2="84.20" stroke="#222" stroke-width="0.85"/>
<line x1="314.60" y1="83.30" x2="316.50" y2="83.30" stroke="#222" stroke-width="0.85"/>
<line x1="314.60" y1="77.23" x2="316.50" y2="77.23" stroke="#222" stroke-width="0.85"/>
<line x1="314.60" y1="74.15" x2="316.50" y2="74.15" stroke="#222" stroke-width="0.85"/>
<line x1="314.60" y1="71.96" x2="316.50" y2="71.96" stroke="#222" stroke-width="0.85"/>
<line x1="314.60" y1="70.27" x2="316.50" y2="70.27" stroke="#222" stroke-width="0.85"/>
<line x1="314.60" y1="68.88" x2="316.50" y2="68.88" stroke="#222" stroke-width="0.85"/>
<line x1="314.60" y1="67.71" x2="316.50" y2="67.71" stroke="#222" stroke-width="0.85"/>
<line x1="314.60" y1="66.70" x2="316.50" y2="66.70" stroke="#222" stroke-width="0.85"/>
<line x1="314.60" y1="65.80" x2="316.50" y2="65.80" stroke="#222" stroke-width="0.85"/>
<line x1="314.60" y1="59.73" x2="316.50" y2="59.73" stroke="#222" stroke-width="0.85"/>
<line x1="314.60" y1="56.65" x2="316.50" y2="56.65" stroke="#222" stroke-width="0.85"/>
<line x1="314.60" y1="54.46" x2="316.50" y2="54.46" stroke="#222" stroke-width="0.85"/>
<line x1="314.60" y1="52.77" x2="316.50" y2="52.77" stroke="#222" stroke-width="0.85"/>
<line x1="314.60" y1="51.38" x2="316.50" y2="51.38" stroke="#222" stroke-width="0.85"/>
<line x1="314.60" y1="50.21" x2="316.50" y2="50.21" stroke="#222" stroke-width="0.85"/>
<line x1="314.60" y1="49.20" x2="316.50" y2="49.20" stroke="#222" stroke-width="0.85"/>
<line x1="314.60" y1="48.30" x2="316.50" y2="48.30" stroke="#222" stroke-width="0.85"/>
<line x1="314.60" y1="42.23" x2="316.50" y2="42.23" stroke="#222" stroke-width="0.85"/>
<line x1="317.70" y1="118.50" x2="317.70" y2="121.50" stroke="#111" stroke-width="0.9"/>
<line x1="335.30" y1="118.50" x2="335.30" y2="121.50" stroke="#111" stroke-width="0.9"/>
<line x1="352.90" y1="118.50" x2="352.90" y2="121.50" stroke="#111" stroke-width="0.9"/>
<line x1="370.50" y1="118.50" x2="370.50" y2="121.50" stroke="#111" stroke-width="0.9"/>
<line x1="388.10" y1="118.50" x2="388.10" y2="121.50" stroke="#111" stroke-width="0.9"/>
<line x1="313.50" y1="117.50" x2="316.50" y2="117.50" stroke="#111" stroke-width="0.9"/>
<line x1="313.50" y1="100.00" x2="316.50" y2="100.00" stroke="#111" stroke-width="0.9"/>
<line x1="313.50" y1="82.50" x2="316.50" y2="82.50" stroke="#111" stroke-width="0.9"/>
<line x1="313.50" y1="65.00" x2="316.50" y2="65.00" stroke="#111" stroke-width="0.9"/>
<line x1="313.50" y1="47.50" x2="316.50" y2="47.50" stroke="#111" stroke-width="0.9"/>
<line x1="353.20" y1="40.30" x2="353.20" y2="118.50" stroke="#000" stroke-width="1.25"/>
<line x1="316.50" y1="82.60" x2="396.00" y2="82.60" stroke="#000" stroke-width="1.25"/>
<rect x="316.50" y="40.30" width="79.50" height="78.20" fill="none" stroke="#000" stroke-width="1.3"/>
<text x="326.40" y="48.80" font-size="8.4" text-anchor="middle" font-weight="normal" fill="#222" class="h">91.8</text>
<text x="394.20" y="48.80" font-size="8.4" text-anchor="end" font-weight="normal" fill="#222" class="h">6.12</text>
<text x="326.40" y="115.30" font-size="8.4" text-anchor="middle" font-weight="normal" fill="#222" class="h">0</text>
<text x="394.20" y="115.30" font-size="8.4" text-anchor="end" font-weight="normal" fill="#222" class="h">2.04</text>
<text class="h" x="318.00" y="132.40" font-size="8.6" text-anchor="middle" fill="#222">10<tspan dy="-2.7" font-size="6.45">1</tspan></text>
<text class="h" x="335.60" y="132.40" font-size="8.6" text-anchor="middle" fill="#222">10<tspan dy="-2.7" font-size="6.45">2</tspan></text>
<text class="h" x="353.20" y="132.40" font-size="8.6" text-anchor="middle" fill="#222">10<tspan dy="-2.7" font-size="6.45">3</tspan></text>
<text class="h" x="370.80" y="132.40" font-size="8.6" text-anchor="middle" fill="#222">10<tspan dy="-2.7" font-size="6.45">4</tspan></text>
<text class="h" x="388.40" y="132.40" font-size="8.6" text-anchor="middle" fill="#222">10<tspan dy="-2.7" font-size="6.45">5</tspan></text>
<text class="h" x="310.90" y="120.10" font-size="8.6" text-anchor="end" fill="#222">10<tspan dy="-2.7" font-size="6.45">1</tspan></text>
<text class="h" x="310.90" y="102.60" font-size="8.6" text-anchor="end" fill="#222">10<tspan dy="-2.7" font-size="6.45">2</tspan></text>
<text class="h" x="310.90" y="85.10" font-size="8.6" text-anchor="end" fill="#222">10<tspan dy="-2.7" font-size="6.45">3</tspan></text>
<text class="h" x="310.90" y="67.60" font-size="8.6" text-anchor="end" fill="#222">10<tspan dy="-2.7" font-size="6.45">4</tspan></text>
<text class="h" x="310.90" y="50.10" font-size="8.6" text-anchor="end" fill="#222">10<tspan dy="-2.7" font-size="6.45">5</tspan></text>
<path d="M457.9 61.3h1.1v1.1h-1.1zM458.0 58.5h1.1v1.1h-1.1zM459.4 56.9h1.1v1.1h-1.1zM460.8 59.0h1.1v1.1h-1.1zM463.2 56.0h1.1v1.1h-1.1zM459.7 57.9h1.1v1.1h-1.1zM458.1 54.4h1.1v1.1h-1.1zM459.2 57.7h1.1v1.1h-1.1zM454.4 53.9h1.1v1.1h-1.1zM455.6 57.6h1.1v1.1h-1.1zM462.3 59.0h1.1v1.1h-1.1zM459.7 57.4h1.1v1.1h-1.1zM459.0 56.9h1.1v1.1h-1.1zM459.0 58.9h1.1v1.1h-1.1zM464.8 57.3h1.1v1.1h-1.1zM454.0 59.3h1.1v1.1h-1.1zM463.2 59.6h1.1v1.1h-1.1zM457.2 53.2h1.1v1.1h-1.1zM458.8 57.6h1.1v1.1h-1.1zM461.7 59.8h1.1v1.1h-1.1zM457.8 64.4h1.1v1.1h-1.1zM458.6 63.7h1.1v1.1h-1.1zM455.6 56.0h1.1v1.1h-1.1zM459.6 57.0h1.1v1.1h-1.1zM452.6 60.3h1.1v1.1h-1.1zM462.0 53.2h1.1v1.1h-1.1zM459.8 59.9h1.1v1.1h-1.1zM455.6 61.5h1.1v1.1h-1.1zM461.3 56.3h1.1v1.1h-1.1zM457.9 56.4h1.1v1.1h-1.1zM453.5 60.9h1.1v1.1h-1.1zM458.5 53.7h1.1v1.1h-1.1zM459.2 55.3h1.1v1.1h-1.1zM465.0 58.5h1.1v1.1h-1.1zM464.0 55.3h1.1v1.1h-1.1zM462.1 58.5h1.1v1.1h-1.1zM453.9 56.6h1.1v1.1h-1.1zM460.6 64.0h1.1v1.1h-1.1zM459.1 61.4h1.1v1.1h-1.1zM460.5 49.6h1.1v1.1h-1.1zM460.0 57.4h1.1v1.1h-1.1zM455.6 58.0h1.1v1.1h-1.1zM457.1 53.5h1.1v1.1h-1.1zM459.6 60.2h1.1v1.1h-1.1zM459.9 56.7h1.1v1.1h-1.1zM461.3 58.3h1.1v1.1h-1.1zM454.0 55.8h1.1v1.1h-1.1zM455.4 59.7h1.1v1.1h-1.1zM454.8 60.4h1.1v1.1h-1.1zM460.2 54.6h1.1v1.1h-1.1zM457.1 65.9h1.1v1.1h-1.1zM461.8 58.2h1.1v1.1h-1.1zM463.4 53.9h1.1v1.1h-1.1zM459.0 61.2h1.1v1.1h-1.1zM457.5 51.4h1.1v1.1h-1.1zM461.6 59.3h1.1v1.1h-1.1zM454.7 58.2h1.1v1.1h-1.1zM460.8 56.9h1.1v1.1h-1.1zM461.4 62.4h1.1v1.1h-1.1zM456.7 58.6h1.1v1.1h-1.1zM463.3 59.0h1.1v1.1h-1.1zM461.8 58.5h1.1v1.1h-1.1zM460.3 57.1h1.1v1.1h-1.1zM457.6 58.5h1.1v1.1h-1.1zM454.2 58.9h1.1v1.1h-1.1zM453.7 59.0h1.1v1.1h-1.1zM458.6 55.7h1.1v1.1h-1.1zM458.5 55.5h1.1v1.1h-1.1zM460.7 57.2h1.1v1.1h-1.1zM459.4 60.6h1.1v1.1h-1.1z" fill="#17176c" fill-opacity="0.80"/>
<path d="M464.7 56.4h1.1v1.1h-1.1zM461.0 55.2h1.1v1.1h-1.1zM461.8 62.3h1.1v1.1h-1.1zM459.5 66.4h1.1v1.1h-1.1zM462.5 57.7h1.1v1.1h-1.1zM455.8 61.0h1.1v1.1h-1.1zM464.1 54.8h1.1v1.1h-1.1zM462.4 53.8h1.1v1.1h-1.1zM457.4 60.2h1.1v1.1h-1.1zM456.4 63.8h1.1v1.1h-1.1zM455.5 61.9h1.1v1.1h-1.1zM458.8 57.2h1.1v1.1h-1.1zM461.3 56.0h1.1v1.1h-1.1zM454.9 52.2h1.1v1.1h-1.1zM459.7 61.4h1.1v1.1h-1.1zM460.9 60.4h1.1v1.1h-1.1zM461.0 58.9h1.1v1.1h-1.1zM455.7 56.2h1.1v1.1h-1.1zM457.6 55.5h1.1v1.1h-1.1zM458.5 60.3h1.1v1.1h-1.1zM457.7 55.8h1.1v1.1h-1.1zM460.9 52.6h1.1v1.1h-1.1zM457.4 60.4h1.1v1.1h-1.1zM461.0 57.0h1.1v1.1h-1.1zM454.7 61.0h1.1v1.1h-1.1zM459.4 58.1h1.1v1.1h-1.1zM461.5 61.2h1.1v1.1h-1.1zM450.5 56.5h1.1v1.1h-1.1zM458.8 64.9h1.1v1.1h-1.1zM467.6 57.7h1.1v1.1h-1.1zM458.7 61.1h1.1v1.1h-1.1zM456.2 59.5h1.1v1.1h-1.1zM463.3 58.3h1.1v1.1h-1.1zM463.9 59.3h1.1v1.1h-1.1zM459.8 62.5h1.1v1.1h-1.1zM461.2 57.4h1.1v1.1h-1.1zM458.1 60.4h1.1v1.1h-1.1zM459.0 51.4h1.1v1.1h-1.1zM457.8 60.6h1.1v1.1h-1.1zM461.9 60.0h1.1v1.1h-1.1zM461.4 59.8h1.1v1.1h-1.1zM458.3 57.2h1.1v1.1h-1.1zM459.8 53.0h1.1v1.1h-1.1zM460.0 56.6h1.1v1.1h-1.1zM459.2 58.4h1.1v1.1h-1.1zM458.0 58.8h1.1v1.1h-1.1zM456.2 63.3h1.1v1.1h-1.1zM461.2 58.8h1.1v1.1h-1.1zM457.1 53.4h1.1v1.1h-1.1zM456.0 56.7h1.1v1.1h-1.1z" fill="#17176c" fill-opacity="0.60"/>
<path d="M459.6 61.5h1.1v1.1h-1.1zM458.8 57.1h1.1v1.1h-1.1zM463.7 62.8h1.1v1.1h-1.1zM460.1 56.9h1.1v1.1h-1.1zM460.5 49.9h1.1v1.1h-1.1zM454.2 60.1h1.1v1.1h-1.1zM458.3 57.3h1.1v1.1h-1.1zM461.6 60.1h1.1v1.1h-1.1zM454.5 60.3h1.1v1.1h-1.1zM456.7 55.6h1.1v1.1h-1.1zM458.2 62.5h1.1v1.1h-1.1zM464.1 62.1h1.1v1.1h-1.1zM460.7 56.0h1.1v1.1h-1.1zM452.5 55.0h1.1v1.1h-1.1zM459.6 57.4h1.1v1.1h-1.1zM457.6 62.4h1.1v1.1h-1.1zM454.8 63.5h1.1v1.1h-1.1zM455.7 63.0h1.1v1.1h-1.1zM455.9 59.6h1.1v1.1h-1.1zM456.2 56.9h1.1v1.1h-1.1zM458.1 58.5h1.1v1.1h-1.1zM457.5 55.0h1.1v1.1h-1.1zM458.3 56.3h1.1v1.1h-1.1zM458.6 54.3h1.1v1.1h-1.1zM460.1 55.7h1.1v1.1h-1.1zM459.3 66.6h1.1v1.1h-1.1zM459.6 54.6h1.1v1.1h-1.1zM459.3 62.4h1.1v1.1h-1.1zM457.7 52.4h1.1v1.1h-1.1zM460.2 58.4h1.1v1.1h-1.1z" fill="#17176c" fill-opacity="1.00"/>
<path d="M454.6 66.8h1.1v1.1h-1.1zM454.7 57.3h1.1v1.1h-1.1zM460.5 65.7h1.1v1.1h-1.1zM457.7 71.0h1.1v1.1h-1.1zM455.3 67.7h1.1v1.1h-1.1zM460.7 62.3h1.1v1.1h-1.1zM462.0 57.5h1.1v1.1h-1.1zM463.2 71.9h1.1v1.1h-1.1zM463.2 67.7h1.1v1.1h-1.1zM457.4 65.3h1.1v1.1h-1.1zM457.8 54.7h1.1v1.1h-1.1zM468.7 58.5h1.1v1.1h-1.1zM456.2 62.2h1.1v1.1h-1.1zM450.0 59.9h1.1v1.1h-1.1zM460.4 67.8h1.1v1.1h-1.1zM457.5 60.8h1.1v1.1h-1.1zM453.8 62.1h1.1v1.1h-1.1zM460.7 55.0h1.1v1.1h-1.1zM460.1 63.1h1.1v1.1h-1.1zM458.7 64.7h1.1v1.1h-1.1zM464.1 64.4h1.1v1.1h-1.1zM457.8 50.8h1.1v1.1h-1.1zM460.9 54.9h1.1v1.1h-1.1zM455.5 70.7h1.1v1.1h-1.1zM457.7 60.2h1.1v1.1h-1.1zM446.0 63.4h1.1v1.1h-1.1zM459.4 65.5h1.1v1.1h-1.1zM460.3 66.7h1.1v1.1h-1.1zM461.2 67.9h1.1v1.1h-1.1zM462.1 69.0h1.1v1.1h-1.1zM463.1 70.2h1.1v1.1h-1.1zM463.9 71.5h1.1v1.1h-1.1zM464.8 72.7h1.1v1.1h-1.1zM465.8 73.9h1.1v1.1h-1.1z" fill="#4848a0" fill-opacity="0.40"/>
<path d="M457.4 61.7h1.1v1.1h-1.1zM459.5 53.1h1.1v1.1h-1.1zM462.9 66.2h1.1v1.1h-1.1zM462.2 71.6h1.1v1.1h-1.1zM461.3 57.6h1.1v1.1h-1.1zM457.3 58.1h1.1v1.1h-1.1zM458.4 58.9h1.1v1.1h-1.1zM458.9 62.0h1.1v1.1h-1.1zM462.0 58.2h1.1v1.1h-1.1zM452.2 49.2h1.1v1.1h-1.1zM465.4 51.4h1.1v1.1h-1.1zM465.2 58.9h1.1v1.1h-1.1zM466.7 66.6h1.1v1.1h-1.1zM461.6 57.4h1.1v1.1h-1.1zM457.1 54.3h1.1v1.1h-1.1zM457.3 54.8h1.1v1.1h-1.1zM455.9 63.1h1.1v1.1h-1.1zM463.4 71.6h1.1v1.1h-1.1zM458.6 54.2h1.1v1.1h-1.1zM453.3 58.9h1.1v1.1h-1.1zM464.1 72.4h1.1v1.1h-1.1zM451.7 66.6h1.1v1.1h-1.1zM457.9 59.1h1.1v1.1h-1.1zM454.6 51.9h1.1v1.1h-1.1zM458.0 63.2h1.1v1.1h-1.1zM450.4 60.9h1.1v1.1h-1.1zM455.5 60.4h1.1v1.1h-1.1zM452.1 59.2h1.1v1.1h-1.1zM455.1 59.9h1.1v1.1h-1.1zM459.3 60.9h1.1v1.1h-1.1zM456.3 60.7h1.1v1.1h-1.1zM464.9 64.3h1.1v1.1h-1.1zM467.4 61.8h1.1v1.1h-1.1zM461.6 58.3h1.1v1.1h-1.1z" fill="#4848a0" fill-opacity="0.60"/>
<line x1="437.75" y1="118.20" x2="437.75" y2="120.10" stroke="#222" stroke-width="0.85"/>
<line x1="440.94" y1="118.20" x2="440.94" y2="120.10" stroke="#222" stroke-width="0.85"/>
<line x1="443.20" y1="118.20" x2="443.20" y2="120.10" stroke="#222" stroke-width="0.85"/>
<line x1="444.95" y1="118.20" x2="444.95" y2="120.10" stroke="#222" stroke-width="0.85"/>
<line x1="446.38" y1="118.20" x2="446.38" y2="120.10" stroke="#222" stroke-width="0.85"/>
<line x1="447.60" y1="118.20" x2="447.60" y2="120.10" stroke="#222" stroke-width="0.85"/>
<line x1="448.65" y1="118.20" x2="448.65" y2="120.10" stroke="#222" stroke-width="0.85"/>
<line x1="449.57" y1="118.20" x2="449.57" y2="120.10" stroke="#222" stroke-width="0.85"/>
<line x1="455.85" y1="118.20" x2="455.85" y2="120.10" stroke="#222" stroke-width="0.85"/>
<line x1="459.04" y1="118.20" x2="459.04" y2="120.10" stroke="#222" stroke-width="0.85"/>
<line x1="461.30" y1="118.20" x2="461.30" y2="120.10" stroke="#222" stroke-width="0.85"/>
<line x1="463.05" y1="118.20" x2="463.05" y2="120.10" stroke="#222" stroke-width="0.85"/>
<line x1="464.48" y1="118.20" x2="464.48" y2="120.10" stroke="#222" stroke-width="0.85"/>
<line x1="465.70" y1="118.20" x2="465.70" y2="120.10" stroke="#222" stroke-width="0.85"/>
<line x1="466.75" y1="118.20" x2="466.75" y2="120.10" stroke="#222" stroke-width="0.85"/>
<line x1="467.67" y1="118.20" x2="467.67" y2="120.10" stroke="#222" stroke-width="0.85"/>
<line x1="473.95" y1="118.20" x2="473.95" y2="120.10" stroke="#222" stroke-width="0.85"/>
<line x1="477.14" y1="118.20" x2="477.14" y2="120.10" stroke="#222" stroke-width="0.85"/>
<line x1="479.40" y1="118.20" x2="479.40" y2="120.10" stroke="#222" stroke-width="0.85"/>
<line x1="481.15" y1="118.20" x2="481.15" y2="120.10" stroke="#222" stroke-width="0.85"/>
<line x1="482.58" y1="118.20" x2="482.58" y2="120.10" stroke="#222" stroke-width="0.85"/>
<line x1="483.80" y1="118.20" x2="483.80" y2="120.10" stroke="#222" stroke-width="0.85"/>
<line x1="484.85" y1="118.20" x2="484.85" y2="120.10" stroke="#222" stroke-width="0.85"/>
<line x1="485.77" y1="118.20" x2="485.77" y2="120.10" stroke="#222" stroke-width="0.85"/>
<line x1="492.05" y1="118.20" x2="492.05" y2="120.10" stroke="#222" stroke-width="0.85"/>
<line x1="495.24" y1="118.20" x2="495.24" y2="120.10" stroke="#222" stroke-width="0.85"/>
<line x1="497.50" y1="118.20" x2="497.50" y2="120.10" stroke="#222" stroke-width="0.85"/>
<line x1="499.25" y1="118.20" x2="499.25" y2="120.10" stroke="#222" stroke-width="0.85"/>
<line x1="500.68" y1="118.20" x2="500.68" y2="120.10" stroke="#222" stroke-width="0.85"/>
<line x1="501.90" y1="118.20" x2="501.90" y2="120.10" stroke="#222" stroke-width="0.85"/>
<line x1="502.95" y1="118.20" x2="502.95" y2="120.10" stroke="#222" stroke-width="0.85"/>
<line x1="503.87" y1="118.20" x2="503.87" y2="120.10" stroke="#222" stroke-width="0.85"/>
<line x1="510.15" y1="118.20" x2="510.15" y2="120.10" stroke="#222" stroke-width="0.85"/>
<line x1="429.40" y1="112.23" x2="431.30" y2="112.23" stroke="#222" stroke-width="0.85"/>
<line x1="429.40" y1="109.15" x2="431.30" y2="109.15" stroke="#222" stroke-width="0.85"/>
<line x1="429.40" y1="106.96" x2="431.30" y2="106.96" stroke="#222" stroke-width="0.85"/>
<line x1="429.40" y1="105.27" x2="431.30" y2="105.27" stroke="#222" stroke-width="0.85"/>
<line x1="429.40" y1="103.88" x2="431.30" y2="103.88" stroke="#222" stroke-width="0.85"/>
<line x1="429.40" y1="102.71" x2="431.30" y2="102.71" stroke="#222" stroke-width="0.85"/>
<line x1="429.40" y1="101.70" x2="431.30" y2="101.70" stroke="#222" stroke-width="0.85"/>
<line x1="429.40" y1="100.80" x2="431.30" y2="100.80" stroke="#222" stroke-width="0.85"/>
<line x1="429.40" y1="94.73" x2="431.30" y2="94.73" stroke="#222" stroke-width="0.85"/>
<line x1="429.40" y1="91.65" x2="431.30" y2="91.65" stroke="#222" stroke-width="0.85"/>
<line x1="429.40" y1="89.46" x2="431.30" y2="89.46" stroke="#222" stroke-width="0.85"/>
<line x1="429.40" y1="87.77" x2="431.30" y2="87.77" stroke="#222" stroke-width="0.85"/>
<line x1="429.40" y1="86.38" x2="431.30" y2="86.38" stroke="#222" stroke-width="0.85"/>
<line x1="429.40" y1="85.21" x2="431.30" y2="85.21" stroke="#222" stroke-width="0.85"/>
<line x1="429.40" y1="84.20" x2="431.30" y2="84.20" stroke="#222" stroke-width="0.85"/>
<line x1="429.40" y1="83.30" x2="431.30" y2="83.30" stroke="#222" stroke-width="0.85"/>
<line x1="429.40" y1="77.23" x2="431.30" y2="77.23" stroke="#222" stroke-width="0.85"/>
<line x1="429.40" y1="74.15" x2="431.30" y2="74.15" stroke="#222" stroke-width="0.85"/>
<line x1="429.40" y1="71.96" x2="431.30" y2="71.96" stroke="#222" stroke-width="0.85"/>
<line x1="429.40" y1="70.27" x2="431.30" y2="70.27" stroke="#222" stroke-width="0.85"/>
<line x1="429.40" y1="68.88" x2="431.30" y2="68.88" stroke="#222" stroke-width="0.85"/>
<line x1="429.40" y1="67.71" x2="431.30" y2="67.71" stroke="#222" stroke-width="0.85"/>
<line x1="429.40" y1="66.70" x2="431.30" y2="66.70" stroke="#222" stroke-width="0.85"/>
<line x1="429.40" y1="65.80" x2="431.30" y2="65.80" stroke="#222" stroke-width="0.85"/>
<line x1="429.40" y1="59.73" x2="431.30" y2="59.73" stroke="#222" stroke-width="0.85"/>
<line x1="429.40" y1="56.65" x2="431.30" y2="56.65" stroke="#222" stroke-width="0.85"/>
<line x1="429.40" y1="54.46" x2="431.30" y2="54.46" stroke="#222" stroke-width="0.85"/>
<line x1="429.40" y1="52.77" x2="431.30" y2="52.77" stroke="#222" stroke-width="0.85"/>
<line x1="429.40" y1="51.38" x2="431.30" y2="51.38" stroke="#222" stroke-width="0.85"/>
<line x1="429.40" y1="50.21" x2="431.30" y2="50.21" stroke="#222" stroke-width="0.85"/>
<line x1="429.40" y1="49.20" x2="431.30" y2="49.20" stroke="#222" stroke-width="0.85"/>
<line x1="429.40" y1="48.30" x2="431.30" y2="48.30" stroke="#222" stroke-width="0.85"/>
<line x1="429.40" y1="42.23" x2="431.30" y2="42.23" stroke="#222" stroke-width="0.85"/>
<line x1="432.30" y1="118.20" x2="432.30" y2="121.20" stroke="#111" stroke-width="0.9"/>
<line x1="450.40" y1="118.20" x2="450.40" y2="121.20" stroke="#111" stroke-width="0.9"/>
<line x1="468.50" y1="118.20" x2="468.50" y2="121.20" stroke="#111" stroke-width="0.9"/>
<line x1="486.60" y1="118.20" x2="486.60" y2="121.20" stroke="#111" stroke-width="0.9"/>
<line x1="504.70" y1="118.20" x2="504.70" y2="121.20" stroke="#111" stroke-width="0.9"/>
<line x1="428.30" y1="117.50" x2="431.30" y2="117.50" stroke="#111" stroke-width="0.9"/>
<line x1="428.30" y1="100.00" x2="431.30" y2="100.00" stroke="#111" stroke-width="0.9"/>
<line x1="428.30" y1="82.50" x2="431.30" y2="82.50" stroke="#111" stroke-width="0.9"/>
<line x1="428.30" y1="65.00" x2="431.30" y2="65.00" stroke="#111" stroke-width="0.9"/>
<line x1="428.30" y1="47.50" x2="431.30" y2="47.50" stroke="#111" stroke-width="0.9"/>
<line x1="470.60" y1="40.60" x2="470.60" y2="118.20" stroke="#000" stroke-width="1.25"/>
<line x1="431.30" y1="86.90" x2="512.80" y2="86.90" stroke="#000" stroke-width="1.25"/>
<rect x="431.30" y="40.60" width="81.50" height="77.60" fill="none" stroke="#000" stroke-width="1.3"/>
<text x="441.20" y="49.10" font-size="8.4" text-anchor="middle" font-weight="normal" fill="#222" class="h">99.3</text>
<text x="511.00" y="49.10" font-size="8.4" text-anchor="end" font-weight="normal" fill="#222" class="h">0.67</text>
<text x="441.20" y="115.00" font-size="8.4" text-anchor="middle" font-weight="normal" fill="#222" class="h">0</text>
<text x="511.00" y="115.00" font-size="8.4" text-anchor="end" font-weight="normal" fill="#222" class="h">0</text>
<text class="h" x="432.60" y="132.10" font-size="8.6" text-anchor="middle" fill="#222">10<tspan dy="-2.7" font-size="6.45">1</tspan></text>
<text class="h" x="450.70" y="132.10" font-size="8.6" text-anchor="middle" fill="#222">10<tspan dy="-2.7" font-size="6.45">2</tspan></text>
<text class="h" x="468.80" y="132.10" font-size="8.6" text-anchor="middle" fill="#222">10<tspan dy="-2.7" font-size="6.45">3</tspan></text>
<text class="h" x="486.90" y="132.10" font-size="8.6" text-anchor="middle" fill="#222">10<tspan dy="-2.7" font-size="6.45">4</tspan></text>
<text class="h" x="505.00" y="132.10" font-size="8.6" text-anchor="middle" fill="#222">10<tspan dy="-2.7" font-size="6.45">5</tspan></text>
<text class="h" x="425.70" y="120.10" font-size="8.6" text-anchor="end" fill="#222">10<tspan dy="-2.7" font-size="6.45">1</tspan></text>
<text class="h" x="425.70" y="102.60" font-size="8.6" text-anchor="end" fill="#222">10<tspan dy="-2.7" font-size="6.45">2</tspan></text>
<text class="h" x="425.70" y="85.10" font-size="8.6" text-anchor="end" fill="#222">10<tspan dy="-2.7" font-size="6.45">3</tspan></text>
<text class="h" x="425.70" y="67.60" font-size="8.6" text-anchor="end" fill="#222">10<tspan dy="-2.7" font-size="6.45">4</tspan></text>
<text class="h" x="425.70" y="50.10" font-size="8.6" text-anchor="end" fill="#222">10<tspan dy="-2.7" font-size="6.45">5</tspan></text>
<path d="M343.3 193.3h1.2v1.2h-1.2zM344.9 193.8h1.2v1.2h-1.2zM347.0 193.8h1.2v1.2h-1.2zM349.4 191.9h1.2v1.2h-1.2zM337.9 199.7h1.2v1.2h-1.2zM344.7 199.0h1.2v1.2h-1.2zM369.4 194.4h1.2v1.2h-1.2zM364.7 198.8h1.2v1.2h-1.2zM348.4 195.4h1.2v1.2h-1.2z" fill="#888" fill-opacity="0.40"/>
<line x1="323.00" y1="244.40" x2="323.00" y2="246.30" stroke="#222" stroke-width="0.85"/>
<line x1="326.10" y1="244.40" x2="326.10" y2="246.30" stroke="#222" stroke-width="0.85"/>
<line x1="328.30" y1="244.40" x2="328.30" y2="246.30" stroke="#222" stroke-width="0.85"/>
<line x1="330.00" y1="244.40" x2="330.00" y2="246.30" stroke="#222" stroke-width="0.85"/>
<line x1="331.40" y1="244.40" x2="331.40" y2="246.30" stroke="#222" stroke-width="0.85"/>
<line x1="332.57" y1="244.40" x2="332.57" y2="246.30" stroke="#222" stroke-width="0.85"/>
<line x1="333.59" y1="244.40" x2="333.59" y2="246.30" stroke="#222" stroke-width="0.85"/>
<line x1="334.49" y1="244.40" x2="334.49" y2="246.30" stroke="#222" stroke-width="0.85"/>
<line x1="340.60" y1="244.40" x2="340.60" y2="246.30" stroke="#222" stroke-width="0.85"/>
<line x1="343.70" y1="244.40" x2="343.70" y2="246.30" stroke="#222" stroke-width="0.85"/>
<line x1="345.90" y1="244.40" x2="345.90" y2="246.30" stroke="#222" stroke-width="0.85"/>
<line x1="347.60" y1="244.40" x2="347.60" y2="246.30" stroke="#222" stroke-width="0.85"/>
<line x1="349.00" y1="244.40" x2="349.00" y2="246.30" stroke="#222" stroke-width="0.85"/>
<line x1="350.17" y1="244.40" x2="350.17" y2="246.30" stroke="#222" stroke-width="0.85"/>
<line x1="351.19" y1="244.40" x2="351.19" y2="246.30" stroke="#222" stroke-width="0.85"/>
<line x1="352.09" y1="244.40" x2="352.09" y2="246.30" stroke="#222" stroke-width="0.85"/>
<line x1="358.20" y1="244.40" x2="358.20" y2="246.30" stroke="#222" stroke-width="0.85"/>
<line x1="361.30" y1="244.40" x2="361.30" y2="246.30" stroke="#222" stroke-width="0.85"/>
<line x1="363.50" y1="244.40" x2="363.50" y2="246.30" stroke="#222" stroke-width="0.85"/>
<line x1="365.20" y1="244.40" x2="365.20" y2="246.30" stroke="#222" stroke-width="0.85"/>
<line x1="366.60" y1="244.40" x2="366.60" y2="246.30" stroke="#222" stroke-width="0.85"/>
<line x1="367.77" y1="244.40" x2="367.77" y2="246.30" stroke="#222" stroke-width="0.85"/>
<line x1="368.79" y1="244.40" x2="368.79" y2="246.30" stroke="#222" stroke-width="0.85"/>
<line x1="369.69" y1="244.40" x2="369.69" y2="246.30" stroke="#222" stroke-width="0.85"/>
<line x1="375.80" y1="244.40" x2="375.80" y2="246.30" stroke="#222" stroke-width="0.85"/>
<line x1="378.90" y1="244.40" x2="378.90" y2="246.30" stroke="#222" stroke-width="0.85"/>
<line x1="381.10" y1="244.40" x2="381.10" y2="246.30" stroke="#222" stroke-width="0.85"/>
<line x1="382.80" y1="244.40" x2="382.80" y2="246.30" stroke="#222" stroke-width="0.85"/>
<line x1="384.20" y1="244.40" x2="384.20" y2="246.30" stroke="#222" stroke-width="0.85"/>
<line x1="385.37" y1="244.40" x2="385.37" y2="246.30" stroke="#222" stroke-width="0.85"/>
<line x1="386.39" y1="244.40" x2="386.39" y2="246.30" stroke="#222" stroke-width="0.85"/>
<line x1="387.29" y1="244.40" x2="387.29" y2="246.30" stroke="#222" stroke-width="0.85"/>
<line x1="393.40" y1="244.40" x2="393.40" y2="246.30" stroke="#222" stroke-width="0.85"/>
<line x1="314.60" y1="239.13" x2="316.50" y2="239.13" stroke="#222" stroke-width="0.85"/>
<line x1="314.60" y1="236.05" x2="316.50" y2="236.05" stroke="#222" stroke-width="0.85"/>
<line x1="314.60" y1="233.86" x2="316.50" y2="233.86" stroke="#222" stroke-width="0.85"/>
<line x1="314.60" y1="232.17" x2="316.50" y2="232.17" stroke="#222" stroke-width="0.85"/>
<line x1="314.60" y1="230.78" x2="316.50" y2="230.78" stroke="#222" stroke-width="0.85"/>
<line x1="314.60" y1="229.61" x2="316.50" y2="229.61" stroke="#222" stroke-width="0.85"/>
<line x1="314.60" y1="228.60" x2="316.50" y2="228.60" stroke="#222" stroke-width="0.85"/>
<line x1="314.60" y1="227.70" x2="316.50" y2="227.70" stroke="#222" stroke-width="0.85"/>
<line x1="314.60" y1="221.63" x2="316.50" y2="221.63" stroke="#222" stroke-width="0.85"/>
<line x1="314.60" y1="218.55" x2="316.50" y2="218.55" stroke="#222" stroke-width="0.85"/>
<line x1="314.60" y1="216.36" x2="316.50" y2="216.36" stroke="#222" stroke-width="0.85"/>
<line x1="314.60" y1="214.67" x2="316.50" y2="214.67" stroke="#222" stroke-width="0.85"/>
<line x1="314.60" y1="213.28" x2="316.50" y2="213.28" stroke="#222" stroke-width="0.85"/>
<line x1="314.60" y1="212.11" x2="316.50" y2="212.11" stroke="#222" stroke-width="0.85"/>
<line x1="314.60" y1="211.10" x2="316.50" y2="211.10" stroke="#222" stroke-width="0.85"/>
<line x1="314.60" y1="210.20" x2="316.50" y2="210.20" stroke="#222" stroke-width="0.85"/>
<line x1="314.60" y1="204.13" x2="316.50" y2="204.13" stroke="#222" stroke-width="0.85"/>
<line x1="314.60" y1="201.05" x2="316.50" y2="201.05" stroke="#222" stroke-width="0.85"/>
<line x1="314.60" y1="198.86" x2="316.50" y2="198.86" stroke="#222" stroke-width="0.85"/>
<line x1="314.60" y1="197.17" x2="316.50" y2="197.17" stroke="#222" stroke-width="0.85"/>
<line x1="314.60" y1="195.78" x2="316.50" y2="195.78" stroke="#222" stroke-width="0.85"/>
<line x1="314.60" y1="194.61" x2="316.50" y2="194.61" stroke="#222" stroke-width="0.85"/>
<line x1="314.60" y1="193.60" x2="316.50" y2="193.60" stroke="#222" stroke-width="0.85"/>
<line x1="314.60" y1="192.70" x2="316.50" y2="192.70" stroke="#222" stroke-width="0.85"/>
<line x1="314.60" y1="186.63" x2="316.50" y2="186.63" stroke="#222" stroke-width="0.85"/>
<line x1="314.60" y1="183.55" x2="316.50" y2="183.55" stroke="#222" stroke-width="0.85"/>
<line x1="314.60" y1="181.36" x2="316.50" y2="181.36" stroke="#222" stroke-width="0.85"/>
<line x1="314.60" y1="179.67" x2="316.50" y2="179.67" stroke="#222" stroke-width="0.85"/>
<line x1="314.60" y1="178.28" x2="316.50" y2="178.28" stroke="#222" stroke-width="0.85"/>
<line x1="314.60" y1="177.11" x2="316.50" y2="177.11" stroke="#222" stroke-width="0.85"/>
<line x1="314.60" y1="176.10" x2="316.50" y2="176.10" stroke="#222" stroke-width="0.85"/>
<line x1="314.60" y1="175.20" x2="316.50" y2="175.20" stroke="#222" stroke-width="0.85"/>
<line x1="314.60" y1="169.13" x2="316.50" y2="169.13" stroke="#222" stroke-width="0.85"/>
<line x1="317.70" y1="244.40" x2="317.70" y2="247.40" stroke="#111" stroke-width="0.9"/>
<line x1="335.30" y1="244.40" x2="335.30" y2="247.40" stroke="#111" stroke-width="0.9"/>
<line x1="352.90" y1="244.40" x2="352.90" y2="247.40" stroke="#111" stroke-width="0.9"/>
<line x1="370.50" y1="244.40" x2="370.50" y2="247.40" stroke="#111" stroke-width="0.9"/>
<line x1="388.10" y1="244.40" x2="388.10" y2="247.40" stroke="#111" stroke-width="0.9"/>
<line x1="313.50" y1="244.40" x2="316.50" y2="244.40" stroke="#111" stroke-width="0.9"/>
<line x1="313.50" y1="226.90" x2="316.50" y2="226.90" stroke="#111" stroke-width="0.9"/>
<line x1="313.50" y1="209.40" x2="316.50" y2="209.40" stroke="#111" stroke-width="0.9"/>
<line x1="313.50" y1="191.90" x2="316.50" y2="191.90" stroke="#111" stroke-width="0.9"/>
<line x1="313.50" y1="174.40" x2="316.50" y2="174.40" stroke="#111" stroke-width="0.9"/>
<line x1="350.30" y1="166.70" x2="350.30" y2="244.40" stroke="#000" stroke-width="1.25"/>
<line x1="316.50" y1="210.60" x2="395.30" y2="210.60" stroke="#000" stroke-width="1.25"/>
<rect x="316.50" y="166.70" width="78.80" height="77.70" fill="none" stroke="#000" stroke-width="1.3"/>
<text x="326.40" y="175.20" font-size="8.4" text-anchor="middle" font-weight="normal" fill="#222" class="h">69.2</text>
<text x="393.50" y="175.20" font-size="8.4" text-anchor="end" font-weight="normal" fill="#222" class="h">30.8</text>
<text x="326.40" y="241.20" font-size="8.4" text-anchor="middle" font-weight="normal" fill="#222" class="h">0</text>
<text x="385.40" y="241.20" font-size="8.4" text-anchor="middle" font-weight="normal" fill="#222" class="h">0</text>
<text class="h" x="318.00" y="258.30" font-size="8.6" text-anchor="middle" fill="#222">10<tspan dy="-2.7" font-size="6.45">1</tspan></text>
<text class="h" x="335.60" y="258.30" font-size="8.6" text-anchor="middle" fill="#222">10<tspan dy="-2.7" font-size="6.45">2</tspan></text>
<text class="h" x="353.20" y="258.30" font-size="8.6" text-anchor="middle" fill="#222">10<tspan dy="-2.7" font-size="6.45">3</tspan></text>
<text class="h" x="370.80" y="258.30" font-size="8.6" text-anchor="middle" fill="#222">10<tspan dy="-2.7" font-size="6.45">4</tspan></text>
<text class="h" x="388.40" y="258.30" font-size="8.6" text-anchor="middle" fill="#222">10<tspan dy="-2.7" font-size="6.45">5</tspan></text>
<text class="h" x="310.90" y="247.00" font-size="8.6" text-anchor="end" fill="#222">10<tspan dy="-2.7" font-size="6.45">1</tspan></text>
<text class="h" x="310.90" y="229.50" font-size="8.6" text-anchor="end" fill="#222">10<tspan dy="-2.7" font-size="6.45">2</tspan></text>
<text class="h" x="310.90" y="212.00" font-size="8.6" text-anchor="end" fill="#222">10<tspan dy="-2.7" font-size="6.45">3</tspan></text>
<text class="h" x="310.90" y="194.50" font-size="8.6" text-anchor="end" fill="#222">10<tspan dy="-2.7" font-size="6.45">4</tspan></text>
<text class="h" x="310.90" y="177.00" font-size="8.6" text-anchor="end" fill="#222">10<tspan dy="-2.7" font-size="6.45">5</tspan></text>
<path d="M450.9 195.8h1.1v1.1h-1.1zM455.2 187.8h1.1v1.1h-1.1zM449.1 191.5h1.1v1.1h-1.1zM457.1 193.5h1.1v1.1h-1.1zM452.8 192.4h1.1v1.1h-1.1zM449.3 192.7h1.1v1.1h-1.1zM449.7 190.7h1.1v1.1h-1.1zM448.4 189.5h1.1v1.1h-1.1zM453.4 196.4h1.1v1.1h-1.1zM453.2 193.5h1.1v1.1h-1.1zM456.6 196.8h1.1v1.1h-1.1zM449.5 193.3h1.1v1.1h-1.1zM455.3 192.4h1.1v1.1h-1.1zM458.4 190.7h1.1v1.1h-1.1zM453.7 186.8h1.1v1.1h-1.1zM449.2 187.7h1.1v1.1h-1.1zM450.4 193.0h1.1v1.1h-1.1zM449.4 198.6h1.1v1.1h-1.1zM452.1 196.9h1.1v1.1h-1.1zM450.1 195.5h1.1v1.1h-1.1zM450.6 189.2h1.1v1.1h-1.1zM453.5 192.2h1.1v1.1h-1.1zM452.9 186.6h1.1v1.1h-1.1zM449.0 194.2h1.1v1.1h-1.1zM453.7 191.3h1.1v1.1h-1.1zM451.7 188.3h1.1v1.1h-1.1zM453.3 194.5h1.1v1.1h-1.1zM451.1 192.0h1.1v1.1h-1.1zM453.4 193.7h1.1v1.1h-1.1zM453.2 194.8h1.1v1.1h-1.1zM450.1 191.9h1.1v1.1h-1.1zM449.8 192.6h1.1v1.1h-1.1zM449.2 194.4h1.1v1.1h-1.1zM451.7 195.5h1.1v1.1h-1.1zM454.9 203.0h1.1v1.1h-1.1zM456.1 193.3h1.1v1.1h-1.1zM451.2 187.6h1.1v1.1h-1.1zM456.3 194.4h1.1v1.1h-1.1zM449.4 194.1h1.1v1.1h-1.1zM449.9 195.6h1.1v1.1h-1.1zM453.4 186.2h1.1v1.1h-1.1zM458.2 189.6h1.1v1.1h-1.1z" fill="#17176c" fill-opacity="0.60"/>
<path d="M453.2 191.5h1.1v1.1h-1.1zM451.6 191.8h1.1v1.1h-1.1zM451.3 186.1h1.1v1.1h-1.1zM453.1 190.9h1.1v1.1h-1.1zM456.4 192.0h1.1v1.1h-1.1zM453.2 195.6h1.1v1.1h-1.1zM453.6 185.9h1.1v1.1h-1.1zM453.3 198.7h1.1v1.1h-1.1zM452.6 196.4h1.1v1.1h-1.1zM447.8 183.4h1.1v1.1h-1.1zM450.7 190.8h1.1v1.1h-1.1zM455.8 194.5h1.1v1.1h-1.1zM447.8 197.3h1.1v1.1h-1.1zM450.5 193.8h1.1v1.1h-1.1zM449.1 192.3h1.1v1.1h-1.1zM448.2 194.0h1.1v1.1h-1.1zM452.6 190.4h1.1v1.1h-1.1zM456.3 194.2h1.1v1.1h-1.1zM453.6 196.5h1.1v1.1h-1.1zM454.1 200.1h1.1v1.1h-1.1zM456.8 193.7h1.1v1.1h-1.1zM451.2 193.6h1.1v1.1h-1.1zM448.6 194.6h1.1v1.1h-1.1zM457.6 190.9h1.1v1.1h-1.1zM451.8 191.5h1.1v1.1h-1.1zM452.3 185.6h1.1v1.1h-1.1zM457.1 192.3h1.1v1.1h-1.1zM454.0 185.3h1.1v1.1h-1.1zM451.6 188.3h1.1v1.1h-1.1zM453.4 197.8h1.1v1.1h-1.1zM451.6 184.7h1.1v1.1h-1.1zM449.2 194.4h1.1v1.1h-1.1zM458.7 192.5h1.1v1.1h-1.1zM451.4 187.8h1.1v1.1h-1.1zM450.0 193.1h1.1v1.1h-1.1zM447.0 186.5h1.1v1.1h-1.1zM456.1 190.3h1.1v1.1h-1.1zM455.1 193.7h1.1v1.1h-1.1zM451.8 199.3h1.1v1.1h-1.1zM453.4 191.9h1.1v1.1h-1.1zM453.5 192.4h1.1v1.1h-1.1zM452.6 193.0h1.1v1.1h-1.1zM455.5 189.8h1.1v1.1h-1.1zM451.4 193.6h1.1v1.1h-1.1zM449.3 202.1h1.1v1.1h-1.1zM452.1 187.7h1.1v1.1h-1.1zM453.6 190.9h1.1v1.1h-1.1zM453.6 192.0h1.1v1.1h-1.1zM452.7 185.5h1.1v1.1h-1.1zM447.8 193.5h1.1v1.1h-1.1zM455.3 198.7h1.1v1.1h-1.1zM451.5 189.6h1.1v1.1h-1.1zM449.4 193.3h1.1v1.1h-1.1zM450.2 185.2h1.1v1.1h-1.1zM453.3 190.4h1.1v1.1h-1.1zM457.2 185.5h1.1v1.1h-1.1zM453.8 199.9h1.1v1.1h-1.1zM451.7 189.8h1.1v1.1h-1.1zM449.0 189.4h1.1v1.1h-1.1zM450.7 196.1h1.1v1.1h-1.1zM454.4 188.8h1.1v1.1h-1.1zM450.5 193.4h1.1v1.1h-1.1zM454.2 185.6h1.1v1.1h-1.1zM455.4 187.4h1.1v1.1h-1.1zM454.5 190.2h1.1v1.1h-1.1zM457.6 191.3h1.1v1.1h-1.1zM452.9 192.7h1.1v1.1h-1.1zM456.0 188.1h1.1v1.1h-1.1zM454.9 190.4h1.1v1.1h-1.1zM449.5 194.3h1.1v1.1h-1.1zM447.6 192.0h1.1v1.1h-1.1zM447.0 191.9h1.1v1.1h-1.1zM457.2 200.0h1.1v1.1h-1.1zM455.8 195.4h1.1v1.1h-1.1zM452.5 190.3h1.1v1.1h-1.1zM451.4 186.2h1.1v1.1h-1.1zM447.8 189.0h1.1v1.1h-1.1zM450.4 197.2h1.1v1.1h-1.1zM448.2 185.1h1.1v1.1h-1.1zM453.4 188.4h1.1v1.1h-1.1zM450.5 184.0h1.1v1.1h-1.1zM449.3 192.7h1.1v1.1h-1.1zM450.4 191.7h1.1v1.1h-1.1zM452.0 190.5h1.1v1.1h-1.1zM453.7 195.1h1.1v1.1h-1.1zM448.7 191.3h1.1v1.1h-1.1zM457.3 192.4h1.1v1.1h-1.1zM455.2 191.7h1.1v1.1h-1.1zM457.5 194.1h1.1v1.1h-1.1zM454.8 191.4h1.1v1.1h-1.1zM451.7 193.2h1.1v1.1h-1.1zM456.4 192.5h1.1v1.1h-1.1zM447.3 190.8h1.1v1.1h-1.1zM451.7 189.9h1.1v1.1h-1.1zM450.1 188.4h1.1v1.1h-1.1zM452.3 190.6h1.1v1.1h-1.1zM453.3 188.0h1.1v1.1h-1.1zM452.5 193.4h1.1v1.1h-1.1zM458.3 187.5h1.1v1.1h-1.1zM452.4 192.1h1.1v1.1h-1.1zM458.4 191.7h1.1v1.1h-1.1zM453.0 197.7h1.1v1.1h-1.1zM451.1 187.7h1.1v1.1h-1.1z" fill="#17176c" fill-opacity="0.80"/>
<path d="M446.8 195.6h1.1v1.1h-1.1zM457.9 193.4h1.1v1.1h-1.1zM455.3 193.5h1.1v1.1h-1.1zM455.0 192.5h1.1v1.1h-1.1zM454.4 185.3h1.1v1.1h-1.1zM448.8 195.0h1.1v1.1h-1.1zM456.3 192.5h1.1v1.1h-1.1zM456.0 193.5h1.1v1.1h-1.1zM450.9 187.8h1.1v1.1h-1.1zM454.0 191.0h1.1v1.1h-1.1zM451.5 194.3h1.1v1.1h-1.1zM451.0 192.5h1.1v1.1h-1.1zM449.5 196.7h1.1v1.1h-1.1zM458.6 195.3h1.1v1.1h-1.1zM458.0 187.0h1.1v1.1h-1.1zM456.4 191.8h1.1v1.1h-1.1zM455.7 190.4h1.1v1.1h-1.1zM451.7 194.0h1.1v1.1h-1.1zM453.2 195.6h1.1v1.1h-1.1zM453.5 192.9h1.1v1.1h-1.1zM452.4 193.1h1.1v1.1h-1.1zM457.8 191.1h1.1v1.1h-1.1zM448.5 196.6h1.1v1.1h-1.1zM452.0 196.2h1.1v1.1h-1.1zM455.5 188.7h1.1v1.1h-1.1zM448.7 191.8h1.1v1.1h-1.1zM452.7 188.9h1.1v1.1h-1.1zM454.3 191.4h1.1v1.1h-1.1zM453.7 189.9h1.1v1.1h-1.1zM446.9 192.7h1.1v1.1h-1.1zM453.3 188.1h1.1v1.1h-1.1zM451.3 187.6h1.1v1.1h-1.1zM454.1 191.9h1.1v1.1h-1.1zM449.6 188.7h1.1v1.1h-1.1zM445.6 188.3h1.1v1.1h-1.1zM447.8 184.9h1.1v1.1h-1.1zM450.3 197.6h1.1v1.1h-1.1zM448.5 191.1h1.1v1.1h-1.1zM453.8 185.5h1.1v1.1h-1.1zM458.0 195.7h1.1v1.1h-1.1zM451.2 194.5h1.1v1.1h-1.1zM456.6 182.3h1.1v1.1h-1.1zM453.6 183.1h1.1v1.1h-1.1zM452.8 188.0h1.1v1.1h-1.1zM447.0 198.5h1.1v1.1h-1.1zM449.9 186.4h1.1v1.1h-1.1zM449.8 197.5h1.1v1.1h-1.1zM450.6 194.3h1.1v1.1h-1.1zM452.4 189.2h1.1v1.1h-1.1zM450.7 184.2h1.1v1.1h-1.1zM450.5 187.6h1.1v1.1h-1.1zM451.6 194.8h1.1v1.1h-1.1zM448.3 193.4h1.1v1.1h-1.1zM455.7 191.8h1.1v1.1h-1.1zM450.8 189.6h1.1v1.1h-1.1zM449.1 194.2h1.1v1.1h-1.1zM450.0 190.2h1.1v1.1h-1.1zM448.7 191.7h1.1v1.1h-1.1zM454.1 195.7h1.1v1.1h-1.1zM452.2 190.7h1.1v1.1h-1.1zM455.2 187.7h1.1v1.1h-1.1zM448.3 195.6h1.1v1.1h-1.1zM454.1 192.2h1.1v1.1h-1.1zM450.2 188.6h1.1v1.1h-1.1zM448.8 194.4h1.1v1.1h-1.1z" fill="#17176c" fill-opacity="1.00"/>
<path d="M448.8 197.4h1.1v1.1h-1.1zM447.5 184.5h1.1v1.1h-1.1zM449.0 193.5h1.1v1.1h-1.1zM446.8 185.5h1.1v1.1h-1.1zM451.9 190.5h1.1v1.1h-1.1zM452.0 192.2h1.1v1.1h-1.1zM446.8 200.0h1.1v1.1h-1.1zM453.0 190.9h1.1v1.1h-1.1zM447.6 195.1h1.1v1.1h-1.1zM451.8 190.9h1.1v1.1h-1.1zM455.6 194.3h1.1v1.1h-1.1zM445.6 198.5h1.1v1.1h-1.1zM445.2 193.0h1.1v1.1h-1.1zM451.0 197.0h1.1v1.1h-1.1zM438.2 192.3h1.1v1.1h-1.1zM457.2 202.0h1.1v1.1h-1.1zM454.0 190.9h1.1v1.1h-1.1zM446.5 196.1h1.1v1.1h-1.1zM449.5 205.8h1.1v1.1h-1.1zM444.5 192.8h1.1v1.1h-1.1zM449.3 198.8h1.1v1.1h-1.1zM451.1 193.6h1.1v1.1h-1.1zM450.4 196.7h1.1v1.1h-1.1zM457.0 191.8h1.1v1.1h-1.1zM448.5 196.9h1.1v1.1h-1.1zM456.4 197.0h1.1v1.1h-1.1zM438.9 187.5h1.1v1.1h-1.1zM452.2 183.2h1.1v1.1h-1.1zM448.4 195.0h1.1v1.1h-1.1zM437.2 193.7h1.1v1.1h-1.1zM453.2 193.0h1.1v1.1h-1.1zM456.4 195.7h1.1v1.1h-1.1zM446.3 198.6h1.1v1.1h-1.1zM446.7 194.1h1.1v1.1h-1.1zM448.0 194.3h1.1v1.1h-1.1zM450.3 199.9h1.1v1.1h-1.1zM452.3 190.7h1.1v1.1h-1.1zM449.2 186.3h1.1v1.1h-1.1zM454.8 188.6h1.1v1.1h-1.1zM441.9 195.9h1.1v1.1h-1.1zM450.6 187.9h1.1v1.1h-1.1zM450.1 193.4h1.1v1.1h-1.1zM437.9 189.9h1.1v1.1h-1.1zM448.0 192.3h1.1v1.1h-1.1zM443.9 188.0h1.1v1.1h-1.1zM450.6 194.7h1.1v1.1h-1.1zM449.0 192.8h1.1v1.1h-1.1zM450.3 194.5h1.1v1.1h-1.1zM445.0 189.9h1.1v1.1h-1.1zM449.6 192.2h1.1v1.1h-1.1zM454.3 198.1h1.1v1.1h-1.1zM448.9 194.7h1.1v1.1h-1.1zM453.7 194.6h1.1v1.1h-1.1zM437.7 204.7h1.1v1.1h-1.1zM442.9 194.2h1.1v1.1h-1.1zM452.4 186.8h1.1v1.1h-1.1zM442.3 193.2h1.1v1.1h-1.1z" fill="#4848a0" fill-opacity="0.60"/>
<path d="M454.7 195.4h1.1v1.1h-1.1zM451.9 195.3h1.1v1.1h-1.1zM451.5 192.4h1.1v1.1h-1.1zM448.8 190.3h1.1v1.1h-1.1zM448.1 192.2h1.1v1.1h-1.1zM448.6 196.9h1.1v1.1h-1.1zM443.3 186.6h1.1v1.1h-1.1zM452.4 186.4h1.1v1.1h-1.1zM459.2 194.6h1.1v1.1h-1.1zM453.4 188.0h1.1v1.1h-1.1zM453.2 190.7h1.1v1.1h-1.1zM444.3 193.2h1.1v1.1h-1.1zM448.8 191.1h1.1v1.1h-1.1zM457.9 190.4h1.1v1.1h-1.1zM447.3 196.2h1.1v1.1h-1.1zM441.5 189.2h1.1v1.1h-1.1zM452.7 188.6h1.1v1.1h-1.1zM443.9 195.3h1.1v1.1h-1.1zM451.1 190.0h1.1v1.1h-1.1zM451.2 197.1h1.1v1.1h-1.1zM447.6 180.1h1.1v1.1h-1.1zM443.7 193.2h1.1v1.1h-1.1zM449.6 187.6h1.1v1.1h-1.1zM452.4 191.5h1.1v1.1h-1.1zM450.5 196.9h1.1v1.1h-1.1zM445.3 202.9h1.1v1.1h-1.1zM456.9 185.8h1.1v1.1h-1.1zM448.0 205.3h1.1v1.1h-1.1zM456.8 189.8h1.1v1.1h-1.1zM455.1 196.9h1.1v1.1h-1.1zM453.1 197.0h1.1v1.1h-1.1zM450.8 195.0h1.1v1.1h-1.1zM446.4 189.8h1.1v1.1h-1.1z" fill="#4848a0" fill-opacity="0.40"/>
<line x1="436.98" y1="244.40" x2="436.98" y2="246.30" stroke="#222" stroke-width="0.85"/>
<line x1="440.01" y1="244.40" x2="440.01" y2="246.30" stroke="#222" stroke-width="0.85"/>
<line x1="442.16" y1="244.40" x2="442.16" y2="246.30" stroke="#222" stroke-width="0.85"/>
<line x1="443.82" y1="244.40" x2="443.82" y2="246.30" stroke="#222" stroke-width="0.85"/>
<line x1="445.18" y1="244.40" x2="445.18" y2="246.30" stroke="#222" stroke-width="0.85"/>
<line x1="446.34" y1="244.40" x2="446.34" y2="246.30" stroke="#222" stroke-width="0.85"/>
<line x1="447.33" y1="244.40" x2="447.33" y2="246.30" stroke="#222" stroke-width="0.85"/>
<line x1="448.21" y1="244.40" x2="448.21" y2="246.30" stroke="#222" stroke-width="0.85"/>
<line x1="454.18" y1="244.40" x2="454.18" y2="246.30" stroke="#222" stroke-width="0.85"/>
<line x1="457.21" y1="244.40" x2="457.21" y2="246.30" stroke="#222" stroke-width="0.85"/>
<line x1="459.36" y1="244.40" x2="459.36" y2="246.30" stroke="#222" stroke-width="0.85"/>
<line x1="461.02" y1="244.40" x2="461.02" y2="246.30" stroke="#222" stroke-width="0.85"/>
<line x1="462.38" y1="244.40" x2="462.38" y2="246.30" stroke="#222" stroke-width="0.85"/>
<line x1="463.54" y1="244.40" x2="463.54" y2="246.30" stroke="#222" stroke-width="0.85"/>
<line x1="464.53" y1="244.40" x2="464.53" y2="246.30" stroke="#222" stroke-width="0.85"/>
<line x1="465.41" y1="244.40" x2="465.41" y2="246.30" stroke="#222" stroke-width="0.85"/>
<line x1="471.38" y1="244.40" x2="471.38" y2="246.30" stroke="#222" stroke-width="0.85"/>
<line x1="474.41" y1="244.40" x2="474.41" y2="246.30" stroke="#222" stroke-width="0.85"/>
<line x1="476.56" y1="244.40" x2="476.56" y2="246.30" stroke="#222" stroke-width="0.85"/>
<line x1="478.22" y1="244.40" x2="478.22" y2="246.30" stroke="#222" stroke-width="0.85"/>
<line x1="479.58" y1="244.40" x2="479.58" y2="246.30" stroke="#222" stroke-width="0.85"/>
<line x1="480.74" y1="244.40" x2="480.74" y2="246.30" stroke="#222" stroke-width="0.85"/>
<line x1="481.73" y1="244.40" x2="481.73" y2="246.30" stroke="#222" stroke-width="0.85"/>
<line x1="482.61" y1="244.40" x2="482.61" y2="246.30" stroke="#222" stroke-width="0.85"/>
<line x1="488.58" y1="244.40" x2="488.58" y2="246.30" stroke="#222" stroke-width="0.85"/>
<line x1="491.61" y1="244.40" x2="491.61" y2="246.30" stroke="#222" stroke-width="0.85"/>
<line x1="493.76" y1="244.40" x2="493.76" y2="246.30" stroke="#222" stroke-width="0.85"/>
<line x1="495.42" y1="244.40" x2="495.42" y2="246.30" stroke="#222" stroke-width="0.85"/>
<line x1="496.78" y1="244.40" x2="496.78" y2="246.30" stroke="#222" stroke-width="0.85"/>
<line x1="497.94" y1="244.40" x2="497.94" y2="246.30" stroke="#222" stroke-width="0.85"/>
<line x1="498.93" y1="244.40" x2="498.93" y2="246.30" stroke="#222" stroke-width="0.85"/>
<line x1="499.81" y1="244.40" x2="499.81" y2="246.30" stroke="#222" stroke-width="0.85"/>
<line x1="505.78" y1="244.40" x2="505.78" y2="246.30" stroke="#222" stroke-width="0.85"/>
<line x1="508.81" y1="244.40" x2="508.81" y2="246.30" stroke="#222" stroke-width="0.85"/>
<line x1="429.40" y1="239.22" x2="431.30" y2="239.22" stroke="#222" stroke-width="0.85"/>
<line x1="429.40" y1="236.19" x2="431.30" y2="236.19" stroke="#222" stroke-width="0.85"/>
<line x1="429.40" y1="234.04" x2="431.30" y2="234.04" stroke="#222" stroke-width="0.85"/>
<line x1="429.40" y1="232.38" x2="431.30" y2="232.38" stroke="#222" stroke-width="0.85"/>
<line x1="429.40" y1="231.02" x2="431.30" y2="231.02" stroke="#222" stroke-width="0.85"/>
<line x1="429.40" y1="229.86" x2="431.30" y2="229.86" stroke="#222" stroke-width="0.85"/>
<line x1="429.40" y1="228.87" x2="431.30" y2="228.87" stroke="#222" stroke-width="0.85"/>
<line x1="429.40" y1="227.99" x2="431.30" y2="227.99" stroke="#222" stroke-width="0.85"/>
<line x1="429.40" y1="222.02" x2="431.30" y2="222.02" stroke="#222" stroke-width="0.85"/>
<line x1="429.40" y1="218.99" x2="431.30" y2="218.99" stroke="#222" stroke-width="0.85"/>
<line x1="429.40" y1="216.84" x2="431.30" y2="216.84" stroke="#222" stroke-width="0.85"/>
<line x1="429.40" y1="215.18" x2="431.30" y2="215.18" stroke="#222" stroke-width="0.85"/>
<line x1="429.40" y1="213.82" x2="431.30" y2="213.82" stroke="#222" stroke-width="0.85"/>
<line x1="429.40" y1="212.66" x2="431.30" y2="212.66" stroke="#222" stroke-width="0.85"/>
<line x1="429.40" y1="211.67" x2="431.30" y2="211.67" stroke="#222" stroke-width="0.85"/>
<line x1="429.40" y1="210.79" x2="431.30" y2="210.79" stroke="#222" stroke-width="0.85"/>
<line x1="429.40" y1="204.82" x2="431.30" y2="204.82" stroke="#222" stroke-width="0.85"/>
<line x1="429.40" y1="201.79" x2="431.30" y2="201.79" stroke="#222" stroke-width="0.85"/>
<line x1="429.40" y1="199.64" x2="431.30" y2="199.64" stroke="#222" stroke-width="0.85"/>
<line x1="429.40" y1="197.98" x2="431.30" y2="197.98" stroke="#222" stroke-width="0.85"/>
<line x1="429.40" y1="196.62" x2="431.30" y2="196.62" stroke="#222" stroke-width="0.85"/>
<line x1="429.40" y1="195.46" x2="431.30" y2="195.46" stroke="#222" stroke-width="0.85"/>
<line x1="429.40" y1="194.47" x2="431.30" y2="194.47" stroke="#222" stroke-width="0.85"/>
<line x1="429.40" y1="193.59" x2="431.30" y2="193.59" stroke="#222" stroke-width="0.85"/>
<line x1="429.40" y1="187.62" x2="431.30" y2="187.62" stroke="#222" stroke-width="0.85"/>
<line x1="429.40" y1="184.59" x2="431.30" y2="184.59" stroke="#222" stroke-width="0.85"/>
<line x1="429.40" y1="182.44" x2="431.30" y2="182.44" stroke="#222" stroke-width="0.85"/>
<line x1="429.40" y1="180.78" x2="431.30" y2="180.78" stroke="#222" stroke-width="0.85"/>
<line x1="429.40" y1="179.42" x2="431.30" y2="179.42" stroke="#222" stroke-width="0.85"/>
<line x1="429.40" y1="178.26" x2="431.30" y2="178.26" stroke="#222" stroke-width="0.85"/>
<line x1="429.40" y1="177.27" x2="431.30" y2="177.27" stroke="#222" stroke-width="0.85"/>
<line x1="429.40" y1="176.39" x2="431.30" y2="176.39" stroke="#222" stroke-width="0.85"/>
<line x1="429.40" y1="170.42" x2="431.30" y2="170.42" stroke="#222" stroke-width="0.85"/>
<line x1="431.80" y1="244.40" x2="431.80" y2="247.40" stroke="#111" stroke-width="0.9"/>
<line x1="449.00" y1="244.40" x2="449.00" y2="247.40" stroke="#111" stroke-width="0.9"/>
<line x1="466.20" y1="244.40" x2="466.20" y2="247.40" stroke="#111" stroke-width="0.9"/>
<line x1="483.40" y1="244.40" x2="483.40" y2="247.40" stroke="#111" stroke-width="0.9"/>
<line x1="500.60" y1="244.40" x2="500.60" y2="247.40" stroke="#111" stroke-width="0.9"/>
<line x1="428.30" y1="244.40" x2="431.30" y2="244.40" stroke="#111" stroke-width="0.9"/>
<line x1="428.30" y1="227.20" x2="431.30" y2="227.20" stroke="#111" stroke-width="0.9"/>
<line x1="428.30" y1="209.60" x2="431.30" y2="209.60" stroke="#111" stroke-width="0.9"/>
<line x1="428.30" y1="192.90" x2="431.30" y2="192.90" stroke="#111" stroke-width="0.9"/>
<line x1="428.30" y1="175.60" x2="431.30" y2="175.60" stroke="#111" stroke-width="0.9"/>
<line x1="460.00" y1="168.70" x2="460.00" y2="244.40" stroke="#000" stroke-width="1.25"/>
<line x1="431.30" y1="209.00" x2="509.80" y2="209.00" stroke="#000" stroke-width="1.25"/>
<rect x="431.30" y="168.70" width="78.50" height="75.70" fill="none" stroke="#000" stroke-width="1.3"/>
<text x="441.20" y="177.20" font-size="8.4" text-anchor="middle" font-weight="normal" fill="#222" class="h">98.7</text>
<text x="508.00" y="177.20" font-size="8.4" text-anchor="end" font-weight="normal" fill="#222" class="h">0.92</text>
<text x="441.20" y="241.20" font-size="8.4" text-anchor="middle" font-weight="normal" fill="#222" class="h">0.18</text>
<text x="508.00" y="241.20" font-size="8.4" text-anchor="end" font-weight="normal" fill="#222" class="h">0.18</text>
<text class="h" x="432.10" y="258.30" font-size="8.6" text-anchor="middle" fill="#222">10<tspan dy="-2.7" font-size="6.45">1</tspan></text>
<text class="h" x="449.30" y="258.30" font-size="8.6" text-anchor="middle" fill="#222">10<tspan dy="-2.7" font-size="6.45">2</tspan></text>
<text class="h" x="466.50" y="258.30" font-size="8.6" text-anchor="middle" fill="#222">10<tspan dy="-2.7" font-size="6.45">3</tspan></text>
<text class="h" x="483.70" y="258.30" font-size="8.6" text-anchor="middle" fill="#222">10<tspan dy="-2.7" font-size="6.45">4</tspan></text>
<text class="h" x="500.90" y="258.30" font-size="8.6" text-anchor="middle" fill="#222">10<tspan dy="-2.7" font-size="6.45">5</tspan></text>
<text class="h" x="425.70" y="247.00" font-size="8.6" text-anchor="end" fill="#222">10<tspan dy="-2.7" font-size="6.45">1</tspan></text>
<text class="h" x="425.70" y="229.80" font-size="8.6" text-anchor="end" fill="#222">10<tspan dy="-2.7" font-size="6.45">2</tspan></text>
<text class="h" x="425.70" y="212.20" font-size="8.6" text-anchor="end" fill="#222">10<tspan dy="-2.7" font-size="6.45">3</tspan></text>
<text class="h" x="425.70" y="195.50" font-size="8.6" text-anchor="end" fill="#222">10<tspan dy="-2.7" font-size="6.45">4</tspan></text>
<text class="h" x="425.70" y="178.20" font-size="8.6" text-anchor="end" fill="#222">10<tspan dy="-2.7" font-size="6.45">5</tspan></text>
<text x="88.70" y="18.00" font-size="10" text-anchor="middle" font-weight="normal" fill="#222" >syn</text>
<text x="88.70" y="29.80" font-size="10" text-anchor="middle" font-weight="normal" fill="#222" xml:space="preserve">in H-2K<tspan dy="-4.00" font-size="6.80">d</tspan><tspan dy="4.00">+ cells</tspan></text>
<text x="210.30" y="18.00" font-size="10" text-anchor="middle" font-weight="normal" fill="#222" >allo</text>
<text x="210.30" y="29.60" font-size="10" text-anchor="middle" font-weight="normal" fill="#222" xml:space="preserve">in H-2K<tspan dy="-4.00" font-size="6.80">b</tspan><tspan dy="4.00">+ cells</tspan></text>
<text x="356.50" y="22.80" font-size="10" text-anchor="middle" font-weight="normal" fill="#222" >syn</text>
<text x="356.50" y="34.60" font-size="10" text-anchor="middle" font-weight="normal" fill="#222" xml:space="preserve">in CD4<tspan dy="-4.00" font-size="8.00">+</tspan><tspan dy="4.00"> cells</tspan></text>
<text x="472.20" y="22.90" font-size="10" text-anchor="middle" font-weight="normal" fill="#222" >allo</text>
<text x="472.20" y="34.60" font-size="10" text-anchor="middle" font-weight="normal" fill="#222" xml:space="preserve">in CD4<tspan dy="-4.00" font-size="8.00">+</tspan><tspan dy="4.00"> cells</tspan></text>
<text x="356.20" y="161.20" font-size="10" text-anchor="middle" font-weight="normal" fill="#222" xml:space="preserve">in CD8<tspan dy="-4.00" font-size="8.00">+</tspan><tspan dy="4.00"> cells</tspan></text>
<text x="470.60" y="162.50" font-size="10" text-anchor="middle" font-weight="normal" fill="#222" xml:space="preserve">in CD8<tspan dy="-4.00" font-size="8.00">+</tspan><tspan dy="4.00"> cells</tspan></text>
<text class="h" x="21.10" y="76.80" font-size="9.8" font-weight="bold" text-anchor="middle" fill="#222" textLength="12" lengthAdjust="spacingAndGlyphs" transform="rotate(-90 21.10 76.80)">CD4</text>
<text class="h" x="21.00" y="203.90" font-size="9.8" font-weight="bold" text-anchor="middle" fill="#222" textLength="12" lengthAdjust="spacingAndGlyphs" transform="rotate(-90 21.00 203.90)">CD8</text>
<text class="h" x="89.20" y="271.80" font-size="9.8" font-weight="bold" text-anchor="middle" fill="#222" textLength="12" lengthAdjust="spacingAndGlyphs" >CD3</text>
<text class="h" x="211.50" y="271.80" font-size="9.8" font-weight="bold" text-anchor="middle" fill="#222" textLength="12" lengthAdjust="spacingAndGlyphs" >CD3</text>
<text class="h" x="291.90" y="79.20" font-size="9.8" font-weight="bold" text-anchor="middle" fill="#222" textLength="15.8" lengthAdjust="spacingAndGlyphs" transform="rotate(-90 291.90 79.20)">CD44</text>
<text class="h" x="291.90" y="206.00" font-size="9.8" font-weight="bold" text-anchor="middle" fill="#222" textLength="15.8" lengthAdjust="spacingAndGlyphs" transform="rotate(-90 291.90 206.00)">CD44</text>
<text class="h" x="356.50" y="271.80" font-size="9.8" font-weight="bold" text-anchor="middle" fill="#222" textLength="19.4" lengthAdjust="spacingAndGlyphs" >CD62L</text>
<text class="h" x="470.50" y="271.80" font-size="9.8" font-weight="bold" text-anchor="middle" fill="#222" textLength="19.4" lengthAdjust="spacingAndGlyphs" >CD62L</text>
<text x="7.10" y="17.00" font-size="11.4" text-anchor="start" font-weight="bold" fill="#000" >A</text>
<text x="277.50" y="22.50" font-size="12.2" text-anchor="start" font-weight="bold" fill="#000" >C</text>
<text x="74.90" y="299.90" font-size="11.4" text-anchor="start" font-weight="bold" fill="#000" >B</text>
<text x="263.70" y="300.30" font-size="11.2" text-anchor="start" font-weight="bold" fill="#000" >D</text>
<text x="75.20" y="455.90" font-size="11.2" text-anchor="start" font-weight="bold" fill="#000" >E</text>
<text x="264.00" y="455.90" font-size="11.2" text-anchor="start" font-weight="bold" fill="#000" >F</text>
<text x="74.60" y="598.80" font-size="11.4" text-anchor="start" font-weight="bold" fill="#000" >G</text>
<text x="264.00" y="598.90" font-size="11.4" text-anchor="start" font-weight="bold" fill="#000" >H</text>
<line x1="112.60" y1="395.40" x2="115.40" y2="395.40" stroke="#111" stroke-width="0.9"/>
<text x="109.10" y="398.30" font-size="8.2" text-anchor="end" font-weight="normal" fill="#222" class="h">0</text>
<line x1="112.60" y1="377.25" x2="115.40" y2="377.25" stroke="#111" stroke-width="0.9"/>
<text x="109.10" y="380.15" font-size="8.2" text-anchor="end" font-weight="normal" fill="#222" class="h">1</text>
<line x1="112.60" y1="359.10" x2="115.40" y2="359.10" stroke="#111" stroke-width="0.9"/>
<text x="109.10" y="362.00" font-size="8.2" text-anchor="end" font-weight="normal" fill="#222" class="h">2</text>
<line x1="112.60" y1="340.95" x2="115.40" y2="340.95" stroke="#111" stroke-width="0.9"/>
<text x="109.10" y="343.85" font-size="8.2" text-anchor="end" font-weight="normal" fill="#222" class="h">3</text>
<line x1="112.60" y1="322.80" x2="115.40" y2="322.80" stroke="#111" stroke-width="0.9"/>
<text x="109.10" y="325.70" font-size="8.2" text-anchor="end" font-weight="normal" fill="#222" class="h">4</text>
<line x1="112.60" y1="304.65" x2="115.40" y2="304.65" stroke="#111" stroke-width="0.9"/>
<text x="109.10" y="307.55" font-size="8.2" text-anchor="end" font-weight="normal" fill="#222" class="h">5</text>
<line x1="115.40" y1="302.15" x2="115.40" y2="395.90" stroke="#111" stroke-width="1.0"/>
<line x1="114.90" y1="395.40" x2="206.00" y2="395.40" stroke="#111" stroke-width="1.0"/>
<circle cx="215.40" cy="312.50" r="1.6" fill="#fff" stroke="#000" stroke-width="1.15"/>
<text x="220.80" y="314.60" font-size="7.8" text-anchor="start" font-weight="normal" fill="#333" >syn</text>
<rect x="214.10" y="322.40" width="3.40" height="3.40" fill="#000" />
<text x="220.80" y="326.30" font-size="7.8" text-anchor="start" font-weight="normal" fill="#333" >allo</text>
<text x="97.50" y="349.50" font-size="9.2" font-weight="normal" text-anchor="middle" fill="#1a1a1a" stroke="#1a1a1a" stroke-width="0.25" transform="rotate(-90 97.50 349.50)" textLength="52" lengthAdjust="spacingAndGlyphs">Cell count ( ×10<tspan dy="-3.4" font-size="6">6</tspan><tspan dy="3.4">)</tspan></text>
<rect x="121.50" y="392.30" width="12.30" height="3.10" fill="#7cc3e6" />
<rect x="140.30" y="363.00" width="10.90" height="32.40" fill="#CC0A2A" />
<rect x="189.40" y="339.00" width="10.80" height="56.40" fill="#CC0A2A" />
<line x1="136.50" y1="395.40" x2="136.50" y2="398.40" stroke="#111" stroke-width="0.9"/>
<line x1="184.80" y1="395.40" x2="184.80" y2="398.40" stroke="#111" stroke-width="0.9"/>
<path d="M127.50,385.50 L127.50,315.20 L145.80,315.20 L145.80,346.80" fill="none" stroke="#1a1a1a" stroke-width="1"/>
<text x="136.65" y="313.60" font-size="7" text-anchor="middle" font-weight="bold" fill="#111" >***</text>
<path d="M175.80,389.30 L175.80,315.20 L194.40,315.20 L194.40,320.50" fill="none" stroke="#1a1a1a" stroke-width="1"/>
<text x="185.10" y="313.60" font-size="7" text-anchor="middle" font-weight="bold" fill="#111" >***</text>
<line x1="145.80" y1="351.80" x2="145.80" y2="371.00" stroke="#111" stroke-width="0.9"/>
<line x1="142.80" y1="351.80" x2="148.80" y2="351.80" stroke="#111" stroke-width="0.9"/>
<line x1="142.80" y1="371.00" x2="148.80" y2="371.00" stroke="#111" stroke-width="0.9"/>
<line x1="194.60" y1="325.60" x2="194.60" y2="350.60" stroke="#111" stroke-width="0.9"/>
<line x1="191.60" y1="325.60" x2="197.60" y2="325.60" stroke="#111" stroke-width="0.9"/>
<line x1="191.60" y1="350.60" x2="197.60" y2="350.60" stroke="#111" stroke-width="0.9"/>
<circle cx="123.20" cy="391.70" r="1.6" fill="#fff" stroke="#000" stroke-width="1.15"/>
<circle cx="127.80" cy="389.80" r="1.6" fill="#fff" stroke="#000" stroke-width="1.15"/>
<circle cx="131.90" cy="391.00" r="1.6" fill="#fff" stroke="#000" stroke-width="1.15"/>
<circle cx="171.60" cy="394.60" r="1.6" fill="#fff" stroke="#000" stroke-width="1.15"/>
<circle cx="175.80" cy="394.20" r="1.6" fill="#fff" stroke="#000" stroke-width="1.15"/>
<circle cx="180.20" cy="394.60" r="1.6" fill="#fff" stroke="#000" stroke-width="1.15"/>
<rect x="144.00" y="350.70" width="3.60" height="3.60" fill="#000" />
<rect x="144.00" y="354.50" width="3.60" height="3.60" fill="#000" />
<circle cx="145.80" cy="360.50" r="1.9" fill="#000"/>
<circle cx="145.80" cy="364.00" r="1.9" fill="#000"/>
<rect x="144.00" y="374.20" width="3.60" height="3.60" fill="#000" />
<rect x="187.00" y="325.70" width="3.60" height="3.60" fill="#000" />
<rect x="196.70" y="328.20" width="3.60" height="3.60" fill="#000" />
<circle cx="194.00" cy="334.60" r="1.9" fill="#000"/>
<circle cx="194.00" cy="340.40" r="1.9" fill="#000"/>
<rect x="192.20" y="357.40" width="3.60" height="3.60" fill="#000" />
<text x="136.45" y="409.30" font-size="8.5" text-anchor="middle" font-weight="normal" fill="#222" >CD4</text>
<text x="185.15" y="409.30" font-size="8.5" text-anchor="middle" font-weight="normal" fill="#222" >CD8</text>
<line x1="112.60" y1="557.50" x2="115.40" y2="557.50" stroke="#111" stroke-width="0.9"/>
<text x="109.10" y="560.40" font-size="8.2" text-anchor="end" font-weight="normal" fill="#222" class="h">0</text>
<line x1="112.60" y1="534.43" x2="115.40" y2="534.43" stroke="#111" stroke-width="0.9"/>
<text x="109.10" y="537.33" font-size="8.2" text-anchor="end" font-weight="normal" fill="#222" class="h">1</text>
<line x1="112.60" y1="511.36" x2="115.40" y2="511.36" stroke="#111" stroke-width="0.9"/>
<text x="109.10" y="514.26" font-size="8.2" text-anchor="end" font-weight="normal" fill="#222" class="h">2</text>
<line x1="112.60" y1="488.29" x2="115.40" y2="488.29" stroke="#111" stroke-width="0.9"/>
<text x="109.10" y="491.19" font-size="8.2" text-anchor="end" font-weight="normal" fill="#222" class="h">3</text>
<line x1="112.60" y1="465.22" x2="115.40" y2="465.22" stroke="#111" stroke-width="0.9"/>
<text x="109.10" y="468.12" font-size="8.2" text-anchor="end" font-weight="normal" fill="#222" class="h">4</text>
<line x1="115.40" y1="462.72" x2="115.40" y2="558.00" stroke="#111" stroke-width="1.0"/>
<line x1="114.90" y1="557.50" x2="206.00" y2="557.50" stroke="#111" stroke-width="1.0"/>
<circle cx="215.40" cy="472.50" r="1.6" fill="#fff" stroke="#000" stroke-width="1.15"/>
<text x="220.80" y="474.60" font-size="7.8" text-anchor="start" font-weight="normal" fill="#333" >syn</text>
<rect x="214.10" y="482.40" width="3.40" height="3.40" fill="#000" />
<text x="220.80" y="486.30" font-size="7.8" text-anchor="start" font-weight="normal" fill="#333" >allo</text>
<text x="97.50" y="510.00" font-size="9.2" font-weight="normal" text-anchor="middle" fill="#1a1a1a" stroke="#1a1a1a" stroke-width="0.25" transform="rotate(-90 97.50 510.00)" textLength="52" lengthAdjust="spacingAndGlyphs">Cell count ( ×10<tspan dy="-3.4" font-size="6">6</tspan><tspan dy="3.4">)</tspan></text>
<text x="161.50" y="456.60" font-size="10.3" text-anchor="middle" font-weight="normal" fill="#222" >CD69</text>
<rect x="121.50" y="556.30" width="12.30" height="1.20" fill="#7cc3e6" />
<rect x="140.80" y="523.80" width="11.10" height="33.70" fill="#CC0A2A" />
<rect x="190.40" y="499.40" width="10.90" height="58.10" fill="#CC0A2A" />
<line x1="136.80" y1="557.50" x2="136.80" y2="560.50" stroke="#111" stroke-width="0.9"/>
<line x1="186.00" y1="557.50" x2="186.00" y2="560.50" stroke="#111" stroke-width="0.9"/>
<path d="M127.70,547.60 L127.70,474.40 L146.20,474.40 L146.20,506.00" fill="none" stroke="#1a1a1a" stroke-width="1"/>
<text x="136.95" y="472.80" font-size="7" text-anchor="middle" font-weight="bold" fill="#111" >**</text>
<path d="M176.90,550.60 L176.90,474.40 L195.60,474.40 L195.60,479.50" fill="none" stroke="#1a1a1a" stroke-width="1"/>
<text x="186.25" y="472.80" font-size="7" text-anchor="middle" font-weight="bold" fill="#111" >****</text>
<line x1="146.20" y1="513.30" x2="146.20" y2="532.50" stroke="#111" stroke-width="0.9"/>
<line x1="143.20" y1="513.30" x2="149.20" y2="513.30" stroke="#111" stroke-width="0.9"/>
<line x1="143.20" y1="532.50" x2="149.20" y2="532.50" stroke="#111" stroke-width="0.9"/>
<line x1="195.60" y1="486.20" x2="195.60" y2="510.50" stroke="#111" stroke-width="0.9"/>
<line x1="192.60" y1="486.20" x2="198.60" y2="486.20" stroke="#111" stroke-width="0.9"/>
<line x1="192.60" y1="510.50" x2="198.60" y2="510.50" stroke="#111" stroke-width="0.9"/>
<circle cx="123.20" cy="555.00" r="1.6" fill="#d8eef8" stroke="#000" stroke-width="1.15"/>
<circle cx="127.50" cy="552.90" r="1.6" fill="#d8eef8" stroke="#000" stroke-width="1.15"/>
<circle cx="132.40" cy="554.30" r="1.6" fill="#d8eef8" stroke="#000" stroke-width="1.15"/>
<circle cx="172.50" cy="556.60" r="1.6" fill="#fff" stroke="#000" stroke-width="1.15"/>
<circle cx="176.90" cy="555.70" r="1.6" fill="#fff" stroke="#000" stroke-width="1.15"/>
<circle cx="181.30" cy="556.40" r="1.6" fill="#fff" stroke="#000" stroke-width="1.15"/>
<rect x="144.00" y="508.20" width="3.60" height="3.60" fill="#000" />
<rect x="144.00" y="516.70" width="3.60" height="3.60" fill="#000" />
<rect x="139.90" y="522.40" width="3.60" height="3.60" fill="#000" />
<rect x="148.60" y="524.40" width="3.60" height="3.60" fill="#000" />
<circle cx="145.80" cy="537.30" r="1.9" fill="#000"/>
<rect x="193.80" y="483.60" width="3.60" height="3.60" fill="#000" />
<rect x="193.80" y="489.20" width="3.60" height="3.60" fill="#000" />
<rect x="189.90" y="495.50" width="3.60" height="3.60" fill="#000" />
<rect x="198.20" y="499.00" width="3.60" height="3.60" fill="#000" />
<rect x="193.80" y="515.20" width="3.60" height="3.60" fill="#000" />
<text x="136.90" y="571.00" font-size="8.5" text-anchor="middle" font-weight="normal" fill="#222" >CD4</text>
<text x="186.30" y="571.00" font-size="8.5" text-anchor="middle" font-weight="normal" fill="#222" >CD8</text>
<line x1="308.60" y1="557.70" x2="311.40" y2="557.70" stroke="#111" stroke-width="0.9"/>
<text x="305.10" y="560.60" font-size="8.2" text-anchor="end" font-weight="normal" fill="#222" class="h">0.0</text>
<line x1="308.60" y1="528.47" x2="311.40" y2="528.47" stroke="#111" stroke-width="0.9"/>
<text x="305.10" y="531.37" font-size="8.2" text-anchor="end" font-weight="normal" fill="#222" class="h">0.1</text>
<line x1="308.60" y1="499.24" x2="311.40" y2="499.24" stroke="#111" stroke-width="0.9"/>
<text x="305.10" y="502.14" font-size="8.2" text-anchor="end" font-weight="normal" fill="#222" class="h">0.2</text>
<line x1="308.60" y1="470.01" x2="311.40" y2="470.01" stroke="#111" stroke-width="0.9"/>
<text x="305.10" y="472.91" font-size="8.2" text-anchor="end" font-weight="normal" fill="#222" class="h">0.3</text>
<line x1="311.40" y1="467.51" x2="311.40" y2="558.20" stroke="#111" stroke-width="1.0"/>
<line x1="310.90" y1="557.70" x2="399.00" y2="557.70" stroke="#111" stroke-width="1.0"/>
<circle cx="412.30" cy="477.60" r="1.6" fill="#fff" stroke="#000" stroke-width="1.15"/>
<text x="417.70" y="479.70" font-size="7.8" text-anchor="start" font-weight="normal" fill="#333" >syn</text>
<rect x="411.00" y="487.50" width="3.40" height="3.40" fill="#000" />
<text x="417.70" y="491.40" font-size="7.8" text-anchor="start" font-weight="normal" fill="#333" >allo</text>
<text x="288.30" y="512.60" font-size="9.2" font-weight="normal" text-anchor="middle" fill="#1a1a1a" stroke="#1a1a1a" stroke-width="0.25" transform="rotate(-90 288.30 512.60)" textLength="52" lengthAdjust="spacingAndGlyphs">Cell count ( ×10<tspan dy="-3.4" font-size="6">6</tspan><tspan dy="3.4">)</tspan></text>
<text x="355.40" y="457.00" font-size="10.0" text-anchor="middle" font-weight="normal" fill="#222" >CD25</text>
<rect x="335.80" y="509.90" width="10.40" height="47.80" fill="#CC0A2A" />
<rect x="382.40" y="545.50" width="10.40" height="12.20" fill="#CC0A2A" />
<line x1="331.80" y1="557.70" x2="331.80" y2="560.70" stroke="#111" stroke-width="0.9"/>
<line x1="378.20" y1="557.70" x2="378.20" y2="560.70" stroke="#111" stroke-width="0.9"/>
<path d="M323.10,547.60 L323.10,470.00 L341.00,470.00 L341.00,473.50" fill="none" stroke="#1a1a1a" stroke-width="1"/>
<text x="332.05" y="468.40" font-size="7" text-anchor="middle" font-weight="bold" fill="#111" >**</text>
<path d="M369.80,547.50 L369.80,470.00 L387.20,470.00 L387.20,524.30" fill="none" stroke="#1a1a1a" stroke-width="1"/>
<text x="378.50" y="467.60" font-size="7.6" text-anchor="middle" font-weight="normal" fill="#111" >ns</text>
<line x1="341.00" y1="479.60" x2="341.00" y2="537.70" stroke="#111" stroke-width="0.9"/>
<line x1="338.00" y1="479.60" x2="344.00" y2="479.60" stroke="#111" stroke-width="0.9"/>
<line x1="338.00" y1="537.70" x2="344.00" y2="537.70" stroke="#111" stroke-width="0.9"/>
<line x1="387.20" y1="532.30" x2="387.20" y2="557.00" stroke="#111" stroke-width="0.9"/>
<line x1="384.20" y1="532.30" x2="390.20" y2="532.30" stroke="#111" stroke-width="0.9"/>
<line x1="384.20" y1="557.00" x2="390.20" y2="557.00" stroke="#111" stroke-width="0.9"/>
<circle cx="318.90" cy="555.00" r="1.6" fill="#d8eef8" stroke="#000" stroke-width="1.15"/>
<circle cx="323.10" cy="552.20" r="1.6" fill="#d8eef8" stroke="#000" stroke-width="1.15"/>
<circle cx="327.50" cy="554.80" r="1.6" fill="#d8eef8" stroke="#000" stroke-width="1.15"/>
<circle cx="365.80" cy="556.60" r="1.6" fill="#fff" stroke="#000" stroke-width="1.15"/>
<circle cx="369.80" cy="552.50" r="1.6" fill="#fff" stroke="#000" stroke-width="1.15"/>
<circle cx="374.20" cy="556.60" r="1.6" fill="#fff" stroke="#000" stroke-width="1.15"/>
<circle cx="341.00" cy="480.30" r="2.0" fill="#000"/>
<rect x="339.20" y="483.50" width="3.60" height="3.60" fill="#000" />
<rect x="339.20" y="500.50" width="3.60" height="3.60" fill="#000" />
<circle cx="341.00" cy="529.30" r="1.9" fill="#000"/>
<rect x="339.20" y="545.50" width="3.60" height="3.60" fill="#000" />
<rect x="385.40" y="527.40" width="3.60" height="3.60" fill="#000" />
<rect x="385.40" y="532.20" width="3.60" height="3.60" fill="#000" />
<circle cx="387.20" cy="547.00" r="1.9" fill="#000"/>
<circle cx="387.20" cy="552.70" r="1.9" fill="#000"/>
<circle cx="387.20" cy="557.00" r="1.9" fill="#000"/>
<text x="332.00" y="570.70" font-size="8.5" text-anchor="middle" font-weight="normal" fill="#222" >CD4</text>
<text x="378.60" y="570.70" font-size="8.5" text-anchor="middle" font-weight="normal" fill="#222" >CD8</text>
<line x1="112.60" y1="701.20" x2="115.40" y2="701.20" stroke="#111" stroke-width="0.9"/>
<text x="109.10" y="704.10" font-size="8.2" text-anchor="end" font-weight="normal" fill="#222" class="h">0</text>
<line x1="112.60" y1="679.80" x2="115.40" y2="679.80" stroke="#111" stroke-width="0.9"/>
<text x="109.10" y="682.70" font-size="8.2" text-anchor="end" font-weight="normal" fill="#222" class="h">1</text>
<line x1="112.60" y1="658.40" x2="115.40" y2="658.40" stroke="#111" stroke-width="0.9"/>
<text x="109.10" y="661.30" font-size="8.2" text-anchor="end" font-weight="normal" fill="#222" class="h">2</text>
<line x1="112.60" y1="637.00" x2="115.40" y2="637.00" stroke="#111" stroke-width="0.9"/>
<text x="109.10" y="639.90" font-size="8.2" text-anchor="end" font-weight="normal" fill="#222" class="h">3</text>
<line x1="112.60" y1="615.60" x2="115.40" y2="615.60" stroke="#111" stroke-width="0.9"/>
<text x="109.10" y="618.50" font-size="8.2" text-anchor="end" font-weight="normal" fill="#222" class="h">4</text>
<line x1="115.40" y1="613.10" x2="115.40" y2="701.70" stroke="#111" stroke-width="1.0"/>
<line x1="114.90" y1="701.20" x2="200.50" y2="701.20" stroke="#111" stroke-width="1.0"/>
<circle cx="215.90" cy="623.75" r="1.6" fill="#fff" stroke="#000" stroke-width="1.15"/>
<text x="221.30" y="625.85" font-size="7.8" text-anchor="start" font-weight="normal" fill="#333" >syn</text>
<rect x="214.60" y="633.65" width="3.40" height="3.40" fill="#000" />
<text x="221.30" y="637.55" font-size="7.8" text-anchor="start" font-weight="normal" fill="#333" >allo</text>
<text x="97.50" y="658.40" font-size="9.2" font-weight="normal" text-anchor="middle" fill="#1a1a1a" stroke="#1a1a1a" stroke-width="0.25" transform="rotate(-90 97.50 658.40)" textLength="52" lengthAdjust="spacingAndGlyphs">Cell count ( ×10<tspan dy="-3.4" font-size="6">6</tspan><tspan dy="3.4">)</tspan></text>
<text x="157.60" y="598.80" font-size="9.6" text-anchor="middle" font-weight="normal" fill="#222" >PD-1</text>
<rect x="120.00" y="700.20" width="12.30" height="1.00" fill="#7cc3e6" />
<rect x="138.80" y="668.80" width="10.20" height="32.40" fill="#CC0A2A" />
<rect x="184.60" y="638.00" width="10.00" height="63.20" fill="#CC0A2A" />
<line x1="135.00" y1="701.20" x2="135.00" y2="704.20" stroke="#111" stroke-width="0.9"/>
<line x1="180.00" y1="701.20" x2="180.00" y2="704.20" stroke="#111" stroke-width="0.9"/>
<path d="M126.30,692.60 L126.30,613.10 L144.00,613.10 L144.00,654.10" fill="none" stroke="#1a1a1a" stroke-width="1"/>
<text x="135.15" y="611.50" font-size="7" text-anchor="middle" font-weight="bold" fill="#111" >**</text>
<path d="M172.20,695.50 L172.20,613.10 L189.20,613.10 L189.20,617.70" fill="none" stroke="#1a1a1a" stroke-width="1"/>
<text x="180.70" y="611.50" font-size="7" text-anchor="middle" font-weight="bold" fill="#111" >****</text>
<line x1="144.20" y1="659.60" x2="144.20" y2="678.00" stroke="#111" stroke-width="0.9"/>
<line x1="141.20" y1="659.60" x2="147.20" y2="659.60" stroke="#111" stroke-width="0.9"/>
<line x1="141.20" y1="678.00" x2="147.20" y2="678.00" stroke="#111" stroke-width="0.9"/>
<line x1="189.20" y1="623.00" x2="189.20" y2="651.50" stroke="#111" stroke-width="0.9"/>
<line x1="186.20" y1="623.00" x2="192.20" y2="623.00" stroke="#111" stroke-width="0.9"/>
<line x1="186.20" y1="651.50" x2="192.20" y2="651.50" stroke="#111" stroke-width="0.9"/>
<circle cx="122.50" cy="698.60" r="1.6" fill="#d8eef8" stroke="#000" stroke-width="1.15"/>
<circle cx="126.70" cy="697.50" r="1.6" fill="#d8eef8" stroke="#000" stroke-width="1.15"/>
<circle cx="131.10" cy="697.90" r="1.6" fill="#d8eef8" stroke="#000" stroke-width="1.15"/>
<circle cx="168.10" cy="700.40" r="1.6" fill="#fff" stroke="#000" stroke-width="1.15"/>
<circle cx="172.20" cy="699.60" r="1.6" fill="#fff" stroke="#000" stroke-width="1.15"/>
<circle cx="176.40" cy="700.30" r="1.6" fill="#fff" stroke="#000" stroke-width="1.15"/>
<rect x="137.40" y="658.20" width="3.60" height="3.60" fill="#000" />
<rect x="146.00" y="660.10" width="3.60" height="3.60" fill="#000" />
<circle cx="143.80" cy="667.10" r="1.9" fill="#000"/>
<circle cx="143.90" cy="672.10" r="1.9" fill="#000"/>
<circle cx="144.00" cy="682.60" r="1.9" fill="#000"/>
<rect x="183.60" y="624.40" width="3.60" height="3.60" fill="#000" />
<rect x="191.70" y="625.60" width="3.60" height="3.60" fill="#000" />
<circle cx="189.20" cy="633.30" r="1.9" fill="#000"/>
<circle cx="189.20" cy="636.30" r="1.9" fill="#000"/>
<rect x="187.40" y="658.40" width="3.60" height="3.60" fill="#000" />
<text x="135.15" y="714.90" font-size="8.5" text-anchor="middle" font-weight="normal" fill="#222" >CD4</text>
<text x="180.85" y="714.90" font-size="8.5" text-anchor="middle" font-weight="normal" fill="#222" >CD8</text>
<line x1="308.60" y1="701.50" x2="311.40" y2="701.50" stroke="#111" stroke-width="0.9"/>
<text x="305.10" y="704.40" font-size="8.2" text-anchor="end" font-weight="normal" fill="#222" class="h">0.0</text>
<line x1="308.60" y1="670.70" x2="311.40" y2="670.70" stroke="#111" stroke-width="0.9"/>
<text x="305.10" y="673.60" font-size="8.2" text-anchor="end" font-weight="normal" fill="#222" class="h">0.5</text>
<line x1="308.60" y1="639.90" x2="311.40" y2="639.90" stroke="#111" stroke-width="0.9"/>
<text x="305.10" y="642.80" font-size="8.2" text-anchor="end" font-weight="normal" fill="#222" class="h">1.0</text>
<line x1="308.60" y1="609.10" x2="311.40" y2="609.10" stroke="#111" stroke-width="0.9"/>
<text x="305.10" y="612.00" font-size="8.2" text-anchor="end" font-weight="normal" fill="#222" class="h">1.5</text>
<line x1="311.40" y1="606.60" x2="311.40" y2="702.00" stroke="#111" stroke-width="1.0"/>
<line x1="310.90" y1="701.50" x2="399.00" y2="701.50" stroke="#111" stroke-width="1.0"/>
<circle cx="412.30" cy="616.80" r="1.6" fill="#fff" stroke="#000" stroke-width="1.15"/>
<text x="417.70" y="618.90" font-size="7.8" text-anchor="start" font-weight="normal" fill="#333" >syn</text>
<rect x="411.00" y="626.70" width="3.40" height="3.40" fill="#000" />
<text x="417.70" y="630.60" font-size="7.8" text-anchor="start" font-weight="normal" fill="#333" >allo</text>
<text x="288.30" y="655.30" font-size="9.2" font-weight="normal" text-anchor="middle" fill="#1a1a1a" stroke="#1a1a1a" stroke-width="0.25" transform="rotate(-90 288.30 655.30)" textLength="52" lengthAdjust="spacingAndGlyphs">Cell count ( ×10<tspan dy="-3.4" font-size="6">6</tspan><tspan dy="3.4">)</tspan></text>
<text x="357.80" y="599.00" font-size="9.6" text-anchor="middle" font-weight="normal" fill="#222" >Tim-3</text>
<rect x="336.50" y="688.10" width="11.50" height="13.40" fill="#CC0A2A" />
<rect x="386.50" y="654.20" width="10.40" height="47.30" fill="#CC0A2A" />
<line x1="333.00" y1="701.50" x2="333.00" y2="704.50" stroke="#111" stroke-width="0.9"/>
<line x1="382.40" y1="701.50" x2="382.40" y2="704.50" stroke="#111" stroke-width="0.9"/>
<path d="M323.80,689.70 L323.80,615.80 L342.30,615.80 L342.30,670.00" fill="none" stroke="#1a1a1a" stroke-width="1"/>
<text x="333.05" y="613.00" font-size="7" text-anchor="middle" font-weight="bold" fill="#111" >**</text>
<path d="M373.20,689.70 L373.20,615.80 L391.90,615.80 L391.90,626.40" fill="none" stroke="#1a1a1a" stroke-width="1"/>
<text x="382.55" y="613.00" font-size="7" text-anchor="middle" font-weight="bold" fill="#111" >**</text>
<line x1="342.30" y1="681.20" x2="342.30" y2="692.00" stroke="#111" stroke-width="0.9"/>
<line x1="339.30" y1="681.20" x2="345.30" y2="681.20" stroke="#111" stroke-width="0.9"/>
<line x1="339.30" y1="692.00" x2="345.30" y2="692.00" stroke="#111" stroke-width="0.9"/>
<line x1="391.90" y1="635.00" x2="391.90" y2="671.20" stroke="#111" stroke-width="0.9"/>
<line x1="388.90" y1="635.00" x2="394.90" y2="635.00" stroke="#111" stroke-width="0.9"/>
<line x1="388.90" y1="671.20" x2="394.90" y2="671.20" stroke="#111" stroke-width="0.9"/>
<circle cx="319.40" cy="700.60" r="1.6" fill="#fff" stroke="#000" stroke-width="1.15"/>
<circle cx="323.80" cy="699.60" r="1.6" fill="#fff" stroke="#000" stroke-width="1.15"/>
<circle cx="328.20" cy="700.40" r="1.6" fill="#fff" stroke="#000" stroke-width="1.15"/>
<circle cx="368.80" cy="700.60" r="1.6" fill="#fff" stroke="#000" stroke-width="1.15"/>
<circle cx="373.20" cy="700.40" r="1.6" fill="#fff" stroke="#000" stroke-width="1.15"/>
<circle cx="377.30" cy="700.40" r="1.6" fill="#fff" stroke="#000" stroke-width="1.15"/>
<rect x="340.60" y="676.40" width="3.60" height="3.60" fill="#000" />
<circle cx="342.40" cy="683.60" r="1.9" fill="#000"/>
<rect x="336.20" y="686.10" width="3.60" height="3.60" fill="#000" />
<rect x="336.20" y="691.10" width="3.60" height="3.60" fill="#000" />
<rect x="345.20" y="689.60" width="3.60" height="3.60" fill="#000" />
<circle cx="391.90" cy="635.40" r="2.0" fill="#000"/>
<rect x="390.10" y="641.50" width="3.60" height="3.60" fill="#000" />
<rect x="390.10" y="646.80" width="3.60" height="3.60" fill="#000" />
<circle cx="391.90" cy="655.60" r="1.9" fill="#000"/>
<rect x="390.10" y="682.00" width="3.60" height="3.60" fill="#000" />
<text x="333.00" y="714.90" font-size="8.5" text-anchor="middle" font-weight="normal" fill="#222" >CD4</text>
<text x="382.30" y="714.90" font-size="8.5" text-anchor="middle" font-weight="normal" fill="#222" >CD8</text>
<line x1="308.40" y1="395.50" x2="311.20" y2="395.50" stroke="#111" stroke-width="0.9"/>
<text x="305.20" y="398.10" font-size="8.2" text-anchor="end" font-weight="normal" fill="#222" class="h" style="stroke-width:0.2px">0%</text>
<line x1="308.40" y1="379.87" x2="311.20" y2="379.87" stroke="#111" stroke-width="0.9"/>
<text x="305.20" y="382.47" font-size="8.2" text-anchor="end" font-weight="normal" fill="#222" class="h" style="stroke-width:0.2px">20%</text>
<line x1="308.40" y1="364.24" x2="311.20" y2="364.24" stroke="#111" stroke-width="0.9"/>
<text x="305.20" y="366.84" font-size="8.2" text-anchor="end" font-weight="normal" fill="#222" class="h" style="stroke-width:0.2px">40%</text>
<line x1="308.40" y1="348.61" x2="311.20" y2="348.61" stroke="#111" stroke-width="0.9"/>
<text x="305.20" y="351.21" font-size="8.2" text-anchor="end" font-weight="normal" fill="#222" class="h" style="stroke-width:0.2px">60%</text>
<line x1="308.40" y1="332.98" x2="311.20" y2="332.98" stroke="#111" stroke-width="0.9"/>
<text x="305.20" y="335.58" font-size="8.2" text-anchor="end" font-weight="normal" fill="#222" class="h" style="stroke-width:0.2px">80%</text>
<line x1="308.40" y1="317.35" x2="311.20" y2="317.35" stroke="#111" stroke-width="0.9"/>
<text x="305.20" y="319.95" font-size="8.2" text-anchor="end" font-weight="normal" fill="#222" class="h" style="stroke-width:0.2px">100%</text>
<line x1="311.20" y1="314.35" x2="311.20" y2="396.00" stroke="#111" stroke-width="1.0"/>
<line x1="310.70" y1="395.50" x2="413.50" y2="395.50" stroke="#111" stroke-width="1.0"/>
<rect x="316.20" y="325.48" width="16.40" height="70.02" fill="#3ca8e0" />
<rect x="316.20" y="321.49" width="16.40" height="3.99" fill="#cc0a2a" />
<rect x="316.20" y="317.35" width="16.40" height="4.14" fill="#3aa446" />
<line x1="324.40" y1="395.50" x2="324.40" y2="398.50" stroke="#111" stroke-width="0.9"/>
<rect x="342.00" y="335.72" width="16.40" height="59.78" fill="#3ca8e0" />
<rect x="342.00" y="322.43" width="16.40" height="13.29" fill="#cc0a2a" />
<rect x="342.00" y="317.35" width="16.40" height="5.08" fill="#9a92cc" />
<line x1="350.20" y1="395.50" x2="350.20" y2="398.50" stroke="#111" stroke-width="0.9"/>
<rect x="367.80" y="319.07" width="16.40" height="76.43" fill="#3ca8e0" />
<rect x="367.80" y="317.35" width="16.40" height="1.72" fill="#cc0a2a" />
<line x1="376.00" y1="395.50" x2="376.00" y2="398.50" stroke="#111" stroke-width="0.9"/>
<rect x="393.60" y="319.07" width="16.40" height="76.43" fill="#3ca8e0" />
<rect x="393.60" y="317.35" width="16.40" height="1.72" fill="#9a92cc" />
<line x1="401.80" y1="395.50" x2="401.80" y2="398.50" stroke="#111" stroke-width="0.9"/>
<rect x="417.50" y="334.60" width="6.10" height="5.80" fill="#9a92cc" />
<text x="426.80" y="339.90" font-size="7.6" text-anchor="start" font-weight="normal" fill="#222" >other</text>
<rect x="417.50" y="346.30" width="6.10" height="5.80" fill="#3aa446" />
<text x="426.80" y="351.60" font-size="7.6" text-anchor="start" font-weight="normal" fill="#222" >Naïve</text>
<rect x="417.50" y="358.00" width="6.10" height="5.80" fill="#cc0a2a" />
<text x="426.80" y="363.30" font-size="7.6" text-anchor="start" font-weight="normal" fill="#222" >CM</text>
<rect x="417.50" y="369.70" width="6.10" height="5.80" fill="#3ca8e0" />
<text x="426.80" y="375.00" font-size="7.6" text-anchor="start" font-weight="normal" fill="#222" >EM</text>
<text class="h" x="324.45" y="405.90" font-size="8.0" text-anchor="end" fill="#222" style="stroke-width:0.2px" transform="rotate(-45 324.45 405.90)">syn_CD4</text>
<text class="h" x="350.25" y="405.90" font-size="8.0" text-anchor="end" fill="#222" style="stroke-width:0.2px" transform="rotate(-45 350.25 405.90)">syn_CD8</text>
<text class="h" x="376.05" y="405.90" font-size="8.0" text-anchor="end" fill="#222" style="stroke-width:0.2px" transform="rotate(-45 376.05 405.90)">allo_CD4</text>
<text class="h" x="401.85" y="405.90" font-size="8.0" text-anchor="end" fill="#222" style="stroke-width:0.2px" transform="rotate(-45 401.85 405.90)">allo_CD8</text>
<rect x="0.5" y="0.5" width="519" height="723" fill="none" stroke="#4a4a4a" stroke-width="1"/>
</svg></body></html>
